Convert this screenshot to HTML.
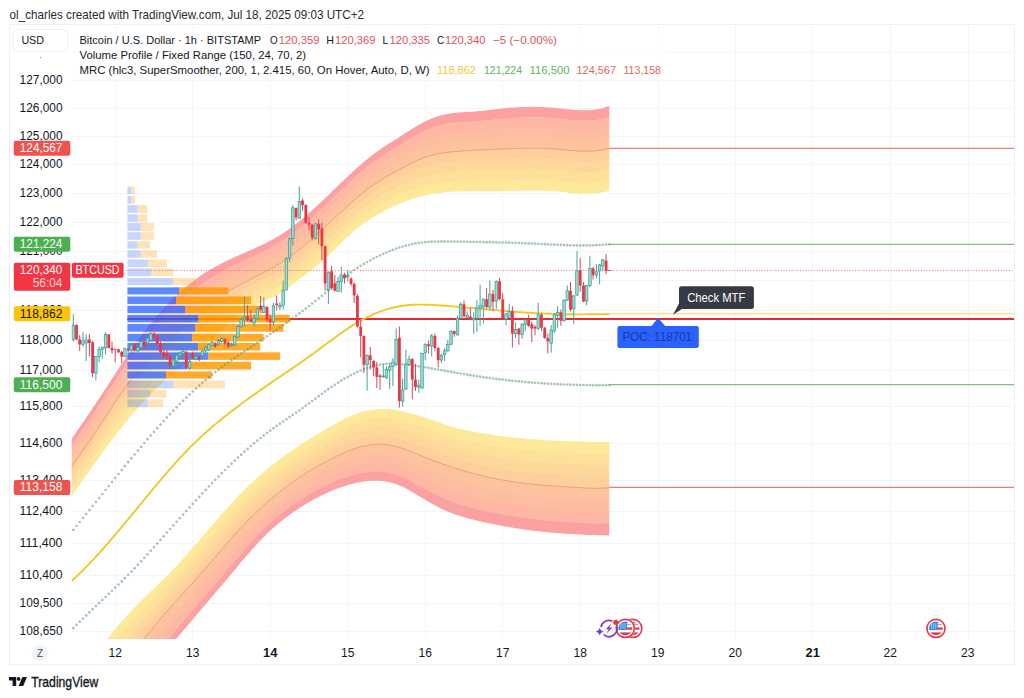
<!DOCTYPE html>
<html><head><meta charset="utf-8"><title>chart</title>
<style>
html,body{margin:0;padding:0;background:#fff;}
body{width:1024px;height:698px;position:relative;overflow:hidden;font-family:"Liberation Sans",sans-serif;}
.t{position:absolute;white-space:pre;line-height:1;}
.b{position:absolute;}
</style></head><body><div id="w" style="position:absolute;left:0;top:0;width:1024px;height:698px;">
<div class="b" style="left:9px;top:24px;width:1006px;height:641px;border:1px solid #eef0f4;box-sizing:border-box;"></div>
<svg width="1024" height="698" viewBox="0 0 1024 698" style="position:absolute;left:0;top:0;filter:blur(0.35px)"><defs><clipPath id="plot"><rect x="71.5" y="26" width="942.5" height="613"/></clipPath></defs><g clip-path="url(#plot)"><line x1="71.5" x2="1014" y1="52.5" y2="52.5" stroke="#f4f5f9" stroke-width="1"/>
<line x1="71.5" x2="1014" y1="80.5" y2="80.5" stroke="#f4f5f9" stroke-width="1"/>
<line x1="71.5" x2="1014" y1="108.5" y2="108.5" stroke="#f4f5f9" stroke-width="1"/>
<line x1="71.5" x2="1014" y1="136.5" y2="136.5" stroke="#f4f5f9" stroke-width="1"/>
<line x1="71.5" x2="1014" y1="164.5" y2="164.5" stroke="#f4f5f9" stroke-width="1"/>
<line x1="71.5" x2="1014" y1="193.5" y2="193.5" stroke="#f4f5f9" stroke-width="1"/>
<line x1="71.5" x2="1014" y1="222.5" y2="222.5" stroke="#f4f5f9" stroke-width="1"/>
<line x1="71.5" x2="1014" y1="251.5" y2="251.5" stroke="#f4f5f9" stroke-width="1"/>
<line x1="71.5" x2="1014" y1="280.5" y2="280.5" stroke="#f4f5f9" stroke-width="1"/>
<line x1="71.5" x2="1014" y1="310.5" y2="310.5" stroke="#f4f5f9" stroke-width="1"/>
<line x1="71.5" x2="1014" y1="340.5" y2="340.5" stroke="#f4f5f9" stroke-width="1"/>
<line x1="71.5" x2="1014" y1="370.5" y2="370.5" stroke="#f4f5f9" stroke-width="1"/>
<line x1="71.5" x2="1014" y1="406.5" y2="406.5" stroke="#f4f5f9" stroke-width="1"/>
<line x1="71.5" x2="1014" y1="443.5" y2="443.5" stroke="#f4f5f9" stroke-width="1"/>
<line x1="71.5" x2="1014" y1="480.5" y2="480.5" stroke="#f4f5f9" stroke-width="1"/>
<line x1="71.5" x2="1014" y1="511.5" y2="511.5" stroke="#f4f5f9" stroke-width="1"/>
<line x1="71.5" x2="1014" y1="543.5" y2="543.5" stroke="#f4f5f9" stroke-width="1"/>
<line x1="71.5" x2="1014" y1="575.5" y2="575.5" stroke="#f4f5f9" stroke-width="1"/>
<line x1="71.5" x2="1014" y1="603.5" y2="603.5" stroke="#f4f5f9" stroke-width="1"/>
<line x1="71.5" x2="1014" y1="631.5" y2="631.5" stroke="#f4f5f9" stroke-width="1"/>
<line x1="115.5" x2="115.5" y1="26" y2="639" stroke="#f4f5f9" stroke-width="1"/>
<line x1="192.5" x2="192.5" y1="26" y2="639" stroke="#f4f5f9" stroke-width="1"/>
<line x1="270.5" x2="270.5" y1="26" y2="639" stroke="#f4f5f9" stroke-width="1"/>
<line x1="348.5" x2="348.5" y1="26" y2="639" stroke="#f4f5f9" stroke-width="1"/>
<line x1="425.5" x2="425.5" y1="26" y2="639" stroke="#f4f5f9" stroke-width="1"/>
<line x1="502.5" x2="502.5" y1="26" y2="639" stroke="#f4f5f9" stroke-width="1"/>
<line x1="580.5" x2="580.5" y1="26" y2="639" stroke="#f4f5f9" stroke-width="1"/>
<line x1="658.5" x2="658.5" y1="26" y2="639" stroke="#f4f5f9" stroke-width="1"/>
<line x1="735.5" x2="735.5" y1="26" y2="639" stroke="#f4f5f9" stroke-width="1"/>
<line x1="812.5" x2="812.5" y1="26" y2="639" stroke="#f4f5f9" stroke-width="1"/>
<line x1="890.5" x2="890.5" y1="26" y2="639" stroke="#f4f5f9" stroke-width="1"/>
<line x1="968.5" x2="968.5" y1="26" y2="639" stroke="#f4f5f9" stroke-width="1"/>
<g opacity="0.93"><path d="M71.5,439.0 L73.5,436.1 L75.5,433.2 L77.5,430.3 L79.5,427.4 L81.5,424.5 L83.5,421.6 L85.5,418.7 L87.5,415.7 L89.5,412.8 L91.5,409.8 L93.5,406.8 L95.5,403.9 L97.5,400.9 L99.5,397.9 L101.5,394.9 L103.5,391.8 L105.5,388.8 L107.5,385.7 L109.5,382.7 L111.5,379.6 L113.5,376.5 L115.5,373.4 L117.5,370.3 L119.5,367.2 L121.5,364.2 L123.5,361.1 L125.5,358.1 L127.5,355.1 L129.5,352.1 L131.5,349.2 L133.5,346.3 L135.5,343.4 L137.5,340.6 L139.5,337.9 L141.5,335.2 L143.5,332.5 L145.5,329.9 L147.5,327.3 L149.5,324.8 L151.5,322.3 L153.5,319.9 L155.5,317.5 L157.5,315.2 L159.5,312.9 L161.5,310.7 L163.5,308.5 L165.5,306.3 L167.5,304.2 L169.5,302.2 L171.5,300.2 L173.5,298.2 L175.5,296.3 L177.5,294.4 L179.5,292.6 L181.5,290.8 L183.5,289.0 L185.5,287.3 L187.5,285.6 L189.5,284.0 L191.5,282.4 L193.5,280.9 L195.5,279.4 L197.5,277.9 L199.5,276.5 L201.5,275.1 L203.5,273.8 L205.5,272.5 L207.5,271.3 L209.5,270.0 L211.5,268.8 L213.5,267.7 L215.5,266.6 L217.5,265.5 L219.5,264.5 L221.5,263.4 L223.5,262.4 L225.5,261.5 L227.5,260.5 L229.5,259.6 L231.5,258.6 L233.5,257.7 L235.5,256.8 L237.5,255.9 L239.5,255.0 L241.5,254.2 L243.5,253.3 L245.5,252.4 L247.5,251.5 L249.5,250.7 L251.5,249.8 L253.5,248.9 L255.5,248.0 L257.5,247.1 L259.5,246.1 L261.5,245.2 L263.5,244.2 L265.5,243.2 L267.5,242.2 L269.5,241.1 L271.5,240.1 L273.5,239.0 L275.5,237.8 L277.5,236.7 L279.5,235.5 L281.5,234.2 L283.5,232.9 L285.5,231.6 L287.5,230.2 L289.5,228.8 L291.5,227.3 L293.5,225.8 L295.5,224.3 L297.5,222.7 L299.5,221.1 L301.5,219.4 L303.5,217.8 L305.5,216.1 L307.5,214.3 L309.5,212.6 L311.5,210.8 L313.5,209.0 L315.5,207.2 L317.5,205.3 L319.5,203.5 L321.5,201.6 L323.5,199.7 L325.5,197.8 L327.5,195.9 L329.5,194.0 L331.5,192.0 L333.5,190.1 L335.5,188.2 L337.5,186.3 L339.5,184.3 L341.5,182.4 L343.5,180.5 L345.5,178.6 L347.5,176.7 L349.5,174.8 L351.5,173.0 L353.5,171.1 L355.5,169.3 L357.5,167.5 L359.5,165.7 L361.5,164.0 L363.5,162.3 L365.5,160.6 L367.5,158.9 L369.5,157.3 L371.5,155.7 L373.5,154.2 L375.5,152.7 L377.5,151.3 L379.5,149.9 L381.5,148.5 L383.5,147.1 L385.5,145.8 L387.5,144.5 L389.5,143.2 L391.5,142.0 L393.5,140.7 L395.5,139.4 L397.5,138.2 L399.5,136.9 L401.5,135.6 L403.5,134.3 L405.5,133.0 L407.5,131.7 L409.5,130.4 L411.5,129.2 L413.5,127.9 L415.5,126.7 L417.5,125.5 L419.5,124.4 L421.5,123.3 L423.5,122.2 L425.5,121.2 L427.5,120.3 L429.5,119.4 L431.5,118.6 L433.5,117.8 L435.5,117.1 L437.5,116.4 L439.5,115.8 L441.5,115.3 L443.5,114.7 L445.5,114.3 L447.5,113.9 L449.5,113.5 L451.5,113.2 L453.5,112.9 L455.5,112.7 L457.5,112.5 L459.5,112.4 L461.5,112.3 L463.5,112.2 L465.5,112.1 L467.5,112.0 L469.5,111.9 L471.5,111.8 L473.5,111.7 L475.5,111.5 L477.5,111.3 L479.5,111.1 L481.5,110.9 L483.5,110.7 L485.5,110.5 L487.5,110.2 L489.5,110.0 L491.5,109.7 L493.5,109.5 L495.5,109.2 L497.5,109.0 L499.5,108.8 L501.5,108.5 L503.5,108.3 L505.5,108.1 L507.5,108.0 L509.5,107.8 L511.5,107.6 L513.5,107.5 L515.5,107.4 L517.5,107.2 L519.5,107.1 L521.5,107.0 L523.5,107.0 L525.5,106.9 L527.5,106.9 L529.5,106.8 L531.5,106.8 L533.5,106.8 L535.5,106.8 L537.5,106.9 L539.5,106.9 L541.5,107.0 L543.5,107.1 L545.5,107.2 L547.5,107.3 L549.5,107.4 L551.5,107.6 L553.5,107.7 L555.5,107.9 L557.5,108.1 L559.5,108.4 L561.5,108.6 L563.5,108.8 L565.5,109.0 L567.5,109.2 L569.5,109.4 L571.5,109.6 L573.5,109.8 L575.5,110.0 L577.5,110.1 L579.5,110.2 L581.5,110.3 L583.5,110.3 L585.5,110.3 L587.5,110.2 L589.5,110.2 L591.5,110.0 L593.5,109.8 L595.5,109.6 L597.5,109.2 L599.5,108.9 L601.5,108.4 L603.5,107.9 L605.5,107.3 L607.5,106.6 L609.3,105.9 L609.3,116.9 L607.5,117.5 L605.5,118.2 L603.5,118.7 L601.5,119.2 L599.5,119.6 L597.5,120.0 L595.5,120.3 L593.5,120.5 L591.5,120.7 L589.5,120.8 L587.5,120.9 L585.5,120.9 L583.5,120.9 L581.5,120.9 L579.5,120.8 L577.5,120.7 L575.5,120.6 L573.5,120.4 L571.5,120.3 L569.5,120.1 L567.5,119.9 L565.5,119.7 L563.5,119.5 L561.5,119.2 L559.5,119.0 L557.5,118.8 L555.5,118.6 L553.5,118.5 L551.5,118.3 L549.5,118.1 L547.5,118.0 L545.5,117.9 L543.5,117.8 L541.5,117.7 L539.5,117.7 L537.5,117.6 L535.5,117.6 L533.5,117.6 L531.5,117.6 L529.5,117.6 L527.5,117.6 L525.5,117.7 L523.5,117.7 L521.5,117.8 L519.5,117.9 L517.5,118.0 L515.5,118.1 L513.5,118.2 L511.5,118.3 L509.5,118.4 L507.5,118.6 L505.5,118.7 L503.5,118.9 L501.5,119.1 L499.5,119.3 L497.5,119.5 L495.5,119.6 L493.5,119.9 L491.5,120.1 L489.5,120.3 L487.5,120.5 L485.5,120.7 L483.5,120.9 L481.5,121.1 L479.5,121.2 L477.5,121.4 L475.5,121.6 L473.5,121.7 L471.5,121.9 L469.5,122.0 L467.5,122.1 L465.5,122.2 L463.5,122.3 L461.5,122.4 L459.5,122.5 L457.5,122.6 L455.5,122.8 L453.5,123.0 L451.5,123.3 L449.5,123.6 L447.5,123.9 L445.5,124.3 L443.5,124.7 L441.5,125.1 L439.5,125.7 L437.5,126.2 L435.5,126.8 L433.5,127.5 L431.5,128.2 L429.5,128.9 L427.5,129.8 L425.5,130.6 L423.5,131.6 L421.5,132.5 L419.5,133.6 L417.5,134.6 L415.5,135.8 L413.5,136.9 L411.5,138.1 L409.5,139.3 L407.5,140.5 L405.5,141.7 L403.5,143.0 L401.5,144.2 L399.5,145.5 L397.5,146.7 L395.5,147.9 L393.5,149.1 L391.5,150.4 L389.5,151.6 L387.5,152.8 L385.5,154.1 L383.5,155.4 L381.5,156.7 L379.5,158.0 L377.5,159.4 L375.5,160.8 L373.5,162.3 L371.5,163.8 L369.5,165.3 L367.5,166.9 L365.5,168.5 L363.5,170.2 L361.5,171.9 L359.5,173.6 L357.5,175.3 L355.5,177.1 L353.5,178.9 L351.5,180.8 L349.5,182.6 L347.5,184.5 L345.5,186.3 L343.5,188.2 L341.5,190.1 L339.5,192.0 L337.5,193.9 L335.5,195.9 L333.5,197.8 L331.5,199.7 L329.5,201.6 L327.5,203.5 L325.5,205.4 L323.5,207.3 L321.5,209.2 L319.5,211.0 L317.5,212.9 L315.5,214.7 L313.5,216.5 L311.5,218.3 L309.5,220.1 L307.5,221.8 L305.5,223.6 L303.5,225.3 L301.5,226.9 L299.5,228.6 L297.5,230.2 L295.5,231.8 L293.5,233.3 L291.5,234.8 L289.5,236.2 L287.5,237.7 L285.5,239.0 L283.5,240.4 L281.5,241.7 L279.5,242.9 L277.5,244.1 L275.5,245.3 L273.5,246.4 L271.5,247.6 L269.5,248.6 L267.5,249.7 L265.5,250.7 L263.5,251.7 L261.5,252.7 L259.5,253.7 L257.5,254.6 L255.5,255.6 L253.5,256.5 L251.5,257.4 L249.5,258.3 L247.5,259.3 L245.5,260.2 L243.5,261.1 L241.5,262.0 L239.5,262.9 L237.5,263.9 L235.5,264.8 L233.5,265.8 L231.5,266.8 L229.5,267.8 L227.5,268.8 L225.5,269.9 L223.5,271.0 L221.5,272.1 L219.5,273.3 L217.5,274.4 L215.5,275.6 L213.5,276.9 L211.5,278.1 L209.5,279.4 L207.5,280.7 L205.5,282.1 L203.5,283.4 L201.5,284.8 L199.5,286.3 L197.5,287.8 L195.5,289.3 L193.5,290.8 L191.5,292.4 L189.5,293.9 L187.5,295.6 L185.5,297.2 L183.5,298.9 L181.5,300.7 L179.5,302.5 L177.5,304.3 L175.5,306.1 L173.5,308.0 L171.5,309.9 L169.5,311.9 L167.5,313.9 L165.5,315.9 L163.5,318.0 L161.5,320.1 L159.5,322.3 L157.5,324.5 L155.5,326.7 L153.5,329.0 L151.5,331.4 L149.5,333.7 L147.5,336.1 L145.5,338.6 L143.5,341.1 L141.5,343.7 L139.5,346.3 L137.5,348.9 L135.5,351.6 L133.5,354.4 L131.5,357.2 L129.5,360.0 L127.5,362.9 L125.5,365.9 L123.5,368.8 L121.5,371.8 L119.5,374.8 L117.5,377.8 L115.5,380.9 L113.5,384.0 L111.5,387.0 L109.5,390.1 L107.5,393.2 L105.5,396.2 L103.5,399.3 L101.5,402.3 L99.5,405.3 L97.5,408.3 L95.5,411.4 L93.5,414.3 L91.5,417.3 L89.5,420.3 L87.5,423.2 L85.5,426.2 L83.5,429.1 L81.5,432.0 L79.5,434.9 L77.5,437.7 L75.5,440.6 L73.5,443.5 L71.5,446.3Z" fill="#fb9a9b"/><path d="M71.5,445.9 L73.5,443.1 L75.5,440.2 L77.5,437.3 L79.5,434.5 L81.5,431.6 L83.5,428.7 L85.5,425.8 L87.5,422.8 L89.5,419.9 L91.5,416.9 L93.5,413.9 L95.5,411.0 L97.5,407.9 L99.5,404.9 L101.5,401.9 L103.5,398.9 L105.5,395.8 L107.5,392.8 L109.5,389.7 L111.5,386.6 L113.5,383.6 L115.5,380.5 L117.5,377.4 L119.5,374.4 L121.5,371.4 L123.5,368.4 L125.5,365.5 L127.5,362.5 L129.5,359.6 L131.5,356.8 L133.5,354.0 L135.5,351.2 L137.5,348.5 L139.5,345.9 L141.5,343.3 L143.5,340.7 L145.5,338.2 L147.5,335.7 L149.5,333.3 L151.5,331.0 L153.5,328.6 L155.5,326.3 L157.5,324.1 L159.5,321.9 L161.5,319.7 L163.5,317.6 L165.5,315.5 L167.5,313.5 L169.5,311.5 L171.5,309.5 L173.5,307.6 L175.5,305.7 L177.5,303.9 L179.5,302.1 L181.5,300.3 L183.5,298.5 L185.5,296.8 L187.5,295.2 L189.5,293.5 L191.5,292.0 L193.5,290.4 L195.5,288.9 L197.5,287.4 L199.5,285.9 L201.5,284.4 L203.5,283.0 L205.5,281.7 L207.5,280.3 L209.5,279.0 L211.5,277.7 L213.5,276.5 L215.5,275.2 L217.5,274.0 L219.5,272.9 L221.5,271.7 L223.5,270.6 L225.5,269.5 L227.5,268.4 L229.5,267.4 L231.5,266.4 L233.5,265.4 L235.5,264.4 L237.5,263.5 L239.5,262.5 L241.5,261.6 L243.5,260.7 L245.5,259.8 L247.5,258.9 L249.5,257.9 L251.5,257.0 L253.5,256.1 L255.5,255.2 L257.5,254.2 L259.5,253.3 L261.5,252.3 L263.5,251.3 L265.5,250.3 L267.5,249.3 L269.5,248.2 L271.5,247.2 L273.5,246.0 L275.5,244.9 L277.5,243.7 L279.5,242.5 L281.5,241.3 L283.5,240.0 L285.5,238.6 L287.5,237.3 L289.5,235.8 L291.5,234.4 L293.5,232.9 L295.5,231.4 L297.5,229.8 L299.5,228.2 L301.5,226.5 L303.5,224.9 L305.5,223.2 L307.5,221.4 L309.5,219.7 L311.5,217.9 L313.5,216.1 L315.5,214.3 L317.5,212.5 L319.5,210.6 L321.5,208.8 L323.5,206.9 L325.5,205.0 L327.5,203.1 L329.5,201.2 L331.5,199.3 L333.5,197.4 L335.5,195.5 L337.5,193.5 L339.5,191.6 L341.5,189.7 L343.5,187.8 L345.5,185.9 L347.5,184.1 L349.5,182.2 L351.5,180.4 L353.5,178.5 L355.5,176.7 L357.5,174.9 L359.5,173.2 L361.5,171.5 L363.5,169.8 L365.5,168.1 L367.5,166.5 L369.5,164.9 L371.5,163.4 L373.5,161.9 L375.5,160.4 L377.5,159.0 L379.5,157.6 L381.5,156.3 L383.5,155.0 L385.5,153.7 L387.5,152.4 L389.5,151.2 L391.5,150.0 L393.5,148.7 L395.5,147.5 L397.5,146.3 L399.5,145.1 L401.5,143.8 L403.5,142.6 L405.5,141.3 L407.5,140.1 L409.5,138.9 L411.5,137.7 L413.5,136.5 L415.5,135.4 L417.5,134.2 L419.5,133.2 L421.5,132.1 L423.5,131.2 L425.5,130.2 L427.5,129.4 L429.5,128.5 L431.5,127.8 L433.5,127.1 L435.5,126.4 L437.5,125.8 L439.5,125.3 L441.5,124.7 L443.5,124.3 L445.5,123.9 L447.5,123.5 L449.5,123.2 L451.5,122.9 L453.5,122.6 L455.5,122.4 L457.5,122.2 L459.5,122.1 L461.5,122.0 L463.5,121.9 L465.5,121.8 L467.5,121.7 L469.5,121.6 L471.5,121.5 L473.5,121.3 L475.5,121.2 L477.5,121.0 L479.5,120.8 L481.5,120.7 L483.5,120.5 L485.5,120.3 L487.5,120.1 L489.5,119.9 L491.5,119.7 L493.5,119.5 L495.5,119.2 L497.5,119.1 L499.5,118.9 L501.5,118.7 L503.5,118.5 L505.5,118.3 L507.5,118.2 L509.5,118.0 L511.5,117.9 L513.5,117.8 L515.5,117.7 L517.5,117.6 L519.5,117.5 L521.5,117.4 L523.5,117.3 L525.5,117.3 L527.5,117.2 L529.5,117.2 L531.5,117.2 L533.5,117.2 L535.5,117.2 L537.5,117.2 L539.5,117.3 L541.5,117.3 L543.5,117.4 L545.5,117.5 L547.5,117.6 L549.5,117.7 L551.5,117.9 L553.5,118.1 L555.5,118.2 L557.5,118.4 L559.5,118.6 L561.5,118.8 L563.5,119.1 L565.5,119.3 L567.5,119.5 L569.5,119.7 L571.5,119.9 L573.5,120.0 L575.5,120.2 L577.5,120.3 L579.5,120.4 L581.5,120.5 L583.5,120.5 L585.5,120.5 L587.5,120.5 L589.5,120.4 L591.5,120.3 L593.5,120.1 L595.5,119.9 L597.5,119.6 L599.5,119.2 L601.5,118.8 L603.5,118.3 L605.5,117.8 L607.5,117.1 L609.3,116.5 L609.3,127.5 L607.5,128.1 L605.5,128.7 L603.5,129.2 L601.5,129.6 L599.5,130.0 L597.5,130.3 L595.5,130.6 L593.5,130.8 L591.5,131.0 L589.5,131.1 L587.5,131.1 L585.5,131.2 L583.5,131.2 L581.5,131.1 L579.5,131.0 L577.5,130.9 L575.5,130.8 L573.5,130.6 L571.5,130.5 L569.5,130.3 L567.5,130.1 L565.5,129.9 L563.5,129.7 L561.5,129.5 L559.5,129.3 L557.5,129.1 L555.5,128.9 L553.5,128.8 L551.5,128.6 L549.5,128.5 L547.5,128.3 L545.5,128.2 L543.5,128.2 L541.5,128.1 L539.5,128.0 L537.5,128.0 L535.5,128.0 L533.5,127.9 L531.5,127.9 L529.5,128.0 L527.5,128.0 L525.5,128.0 L523.5,128.1 L521.5,128.1 L519.5,128.2 L517.5,128.3 L515.5,128.4 L513.5,128.5 L511.5,128.6 L509.5,128.7 L507.5,128.8 L505.5,128.9 L503.5,129.1 L501.5,129.2 L499.5,129.4 L497.5,129.5 L495.5,129.7 L493.5,129.8 L491.5,130.0 L489.5,130.2 L487.5,130.3 L485.5,130.5 L483.5,130.7 L481.5,130.8 L479.5,131.0 L477.5,131.1 L475.5,131.3 L473.5,131.4 L471.5,131.5 L469.5,131.6 L467.5,131.7 L465.5,131.8 L463.5,132.0 L461.5,132.1 L459.5,132.2 L457.5,132.3 L455.5,132.5 L453.5,132.7 L451.5,133.0 L449.5,133.2 L447.5,133.5 L445.5,133.9 L443.5,134.2 L441.5,134.6 L439.5,135.1 L437.5,135.6 L435.5,136.1 L433.5,136.7 L431.5,137.4 L429.5,138.1 L427.5,138.8 L425.5,139.6 L423.5,140.5 L421.5,141.4 L419.5,142.3 L417.5,143.4 L415.5,144.4 L413.5,145.5 L411.5,146.6 L409.5,147.7 L407.5,148.9 L405.5,150.1 L403.5,151.3 L401.5,152.4 L399.5,153.6 L397.5,154.8 L395.5,156.0 L393.5,157.2 L391.5,158.3 L389.5,159.5 L387.5,160.7 L385.5,161.9 L383.5,163.2 L381.5,164.5 L379.5,165.8 L377.5,167.1 L375.5,168.5 L373.5,169.9 L371.5,171.4 L369.5,172.9 L367.5,174.5 L365.5,176.1 L363.5,177.7 L361.5,179.4 L359.5,181.1 L357.5,182.8 L355.5,184.6 L353.5,186.3 L351.5,188.2 L349.5,190.0 L347.5,191.8 L345.5,193.7 L343.5,195.5 L341.5,197.4 L339.5,199.3 L337.5,201.2 L335.5,203.1 L333.5,205.0 L331.5,206.9 L329.5,208.8 L327.5,210.7 L325.5,212.6 L323.5,214.5 L321.5,216.3 L319.5,218.2 L317.5,220.0 L315.5,221.8 L313.5,223.6 L311.5,225.4 L309.5,227.2 L307.5,228.9 L305.5,230.7 L303.5,232.3 L301.5,234.0 L299.5,235.6 L297.5,237.2 L295.5,238.8 L293.5,240.4 L291.5,241.8 L289.5,243.3 L287.5,244.7 L285.5,246.1 L283.5,247.4 L281.5,248.7 L279.5,250.0 L277.5,251.2 L275.5,252.4 L273.5,253.5 L271.5,254.6 L269.5,255.7 L267.5,256.8 L265.5,257.8 L263.5,258.8 L261.5,259.8 L259.5,260.8 L257.5,261.8 L255.5,262.8 L253.5,263.7 L251.5,264.7 L249.5,265.6 L247.5,266.6 L245.5,267.5 L243.5,268.5 L241.5,269.4 L239.5,270.4 L237.5,271.4 L235.5,272.4 L233.5,273.5 L231.5,274.5 L229.5,275.6 L227.5,276.8 L225.5,277.9 L223.5,279.2 L221.5,280.4 L219.5,281.7 L217.5,283.0 L215.5,284.3 L213.5,285.6 L211.5,287.0 L209.5,288.4 L207.5,289.8 L205.5,291.2 L203.5,292.7 L201.5,294.2 L199.5,295.6 L197.5,297.2 L195.5,298.7 L193.5,300.3 L191.5,301.9 L189.5,303.5 L187.5,305.1 L185.5,306.8 L183.5,308.5 L181.5,310.2 L179.5,312.0 L177.5,313.7 L175.5,315.5 L173.5,317.4 L171.5,319.3 L169.5,321.2 L167.5,323.1 L165.5,325.1 L163.5,327.1 L161.5,329.2 L159.5,331.2 L157.5,333.4 L155.5,335.5 L153.5,337.7 L151.5,340.0 L149.5,342.3 L147.5,344.6 L145.5,346.9 L143.5,349.3 L141.5,351.8 L139.5,354.3 L137.5,356.9 L135.5,359.5 L133.5,362.1 L131.5,364.8 L129.5,367.6 L127.5,370.4 L125.5,373.2 L123.5,376.1 L121.5,379.0 L119.5,382.0 L117.5,385.0 L115.5,388.0 L113.5,391.0 L111.5,394.1 L109.5,397.1 L107.5,400.2 L105.5,403.2 L103.5,406.3 L101.5,409.3 L99.5,412.4 L97.5,415.4 L95.5,418.4 L93.5,421.4 L91.5,424.4 L89.5,427.4 L87.5,430.3 L85.5,433.2 L83.5,436.1 L81.5,439.0 L79.5,441.9 L77.5,444.7 L75.5,447.6 L73.5,450.4 L71.5,453.2Z" fill="#fdb29b"/><path d="M71.5,452.8 L73.5,450.0 L75.5,447.2 L77.5,444.3 L79.5,441.5 L81.5,438.6 L83.5,435.7 L85.5,432.8 L87.5,429.9 L89.5,427.0 L91.5,424.0 L93.5,421.0 L95.5,418.0 L97.5,415.0 L99.5,412.0 L101.5,408.9 L103.5,405.9 L105.5,402.8 L107.5,399.8 L109.5,396.7 L111.5,393.7 L113.5,390.6 L115.5,387.6 L117.5,384.6 L119.5,381.6 L121.5,378.6 L123.5,375.7 L125.5,372.8 L127.5,370.0 L129.5,367.2 L131.5,364.4 L133.5,361.7 L135.5,359.1 L137.5,356.5 L139.5,353.9 L141.5,351.4 L143.5,348.9 L145.5,346.5 L147.5,344.2 L149.5,341.9 L151.5,339.6 L153.5,337.3 L155.5,335.1 L157.5,333.0 L159.5,330.8 L161.5,328.8 L163.5,326.7 L165.5,324.7 L167.5,322.7 L169.5,320.8 L171.5,318.9 L173.5,317.0 L175.5,315.1 L177.5,313.3 L179.5,311.6 L181.5,309.8 L183.5,308.1 L185.5,306.4 L187.5,304.7 L189.5,303.1 L191.5,301.5 L193.5,299.9 L195.5,298.3 L197.5,296.8 L199.5,295.2 L201.5,293.8 L203.5,292.3 L205.5,290.8 L207.5,289.4 L209.5,288.0 L211.5,286.6 L213.5,285.2 L215.5,283.9 L217.5,282.6 L219.5,281.3 L221.5,280.0 L223.5,278.8 L225.5,277.5 L227.5,276.4 L229.5,275.2 L231.5,274.1 L233.5,273.1 L235.5,272.0 L237.5,271.0 L239.5,270.0 L241.5,269.0 L243.5,268.1 L245.5,267.1 L247.5,266.2 L249.5,265.2 L251.5,264.3 L253.5,263.3 L255.5,262.4 L257.5,261.4 L259.5,260.4 L261.5,259.4 L263.5,258.4 L265.5,257.4 L267.5,256.4 L269.5,255.3 L271.5,254.2 L273.5,253.1 L275.5,252.0 L277.5,250.8 L279.5,249.6 L281.5,248.3 L283.5,247.0 L285.5,245.7 L287.5,244.3 L289.5,242.9 L291.5,241.4 L293.5,240.0 L295.5,238.4 L297.5,236.8 L299.5,235.2 L301.5,233.6 L303.5,231.9 L305.5,230.3 L307.5,228.5 L309.5,226.8 L311.5,225.0 L313.5,223.2 L315.5,221.4 L317.5,219.6 L319.5,217.8 L321.5,215.9 L323.5,214.1 L325.5,212.2 L327.5,210.3 L329.5,208.4 L331.5,206.5 L333.5,204.6 L335.5,202.7 L337.5,200.8 L339.5,198.9 L341.5,197.0 L343.5,195.1 L345.5,193.3 L347.5,191.4 L349.5,189.6 L351.5,187.8 L353.5,185.9 L355.5,184.2 L357.5,182.4 L359.5,180.7 L361.5,179.0 L363.5,177.3 L365.5,175.7 L367.5,174.1 L369.5,172.5 L371.5,171.0 L373.5,169.5 L375.5,168.1 L377.5,166.7 L379.5,165.4 L381.5,164.1 L383.5,162.8 L385.5,161.5 L387.5,160.3 L389.5,159.1 L391.5,157.9 L393.5,156.8 L395.5,155.6 L397.5,154.4 L399.5,153.2 L401.5,152.0 L403.5,150.9 L405.5,149.7 L407.5,148.5 L409.5,147.3 L411.5,146.2 L413.5,145.1 L415.5,144.0 L417.5,143.0 L419.5,141.9 L421.5,141.0 L423.5,140.1 L425.5,139.2 L427.5,138.4 L429.5,137.7 L431.5,137.0 L433.5,136.3 L435.5,135.7 L437.5,135.2 L439.5,134.7 L441.5,134.2 L443.5,133.8 L445.5,133.5 L447.5,133.1 L449.5,132.8 L451.5,132.6 L453.5,132.3 L455.5,132.1 L457.5,131.9 L459.5,131.8 L461.5,131.7 L463.5,131.6 L465.5,131.4 L467.5,131.3 L469.5,131.2 L471.5,131.1 L473.5,131.0 L475.5,130.9 L477.5,130.7 L479.5,130.6 L481.5,130.4 L483.5,130.3 L485.5,130.1 L487.5,129.9 L489.5,129.8 L491.5,129.6 L493.5,129.4 L495.5,129.3 L497.5,129.1 L499.5,129.0 L501.5,128.8 L503.5,128.7 L505.5,128.5 L507.5,128.4 L509.5,128.3 L511.5,128.2 L513.5,128.1 L515.5,128.0 L517.5,127.9 L519.5,127.8 L521.5,127.7 L523.5,127.7 L525.5,127.6 L527.5,127.6 L529.5,127.6 L531.5,127.5 L533.5,127.5 L535.5,127.6 L537.5,127.6 L539.5,127.6 L541.5,127.7 L543.5,127.8 L545.5,127.8 L547.5,127.9 L549.5,128.1 L551.5,128.2 L553.5,128.4 L555.5,128.5 L557.5,128.7 L559.5,128.9 L561.5,129.1 L563.5,129.3 L565.5,129.5 L567.5,129.7 L569.5,129.9 L571.5,130.1 L573.5,130.2 L575.5,130.4 L577.5,130.5 L579.5,130.6 L581.5,130.7 L583.5,130.8 L585.5,130.8 L587.5,130.7 L589.5,130.7 L591.5,130.6 L593.5,130.4 L595.5,130.2 L597.5,129.9 L599.5,129.6 L601.5,129.2 L603.5,128.8 L605.5,128.3 L607.5,127.7 L609.3,127.1 L609.3,138.1 L607.5,138.6 L605.5,139.2 L603.5,139.6 L601.5,140.0 L599.5,140.4 L597.5,140.7 L595.5,140.9 L593.5,141.1 L591.5,141.2 L589.5,141.3 L587.5,141.4 L585.5,141.4 L583.5,141.4 L581.5,141.3 L579.5,141.2 L577.5,141.1 L575.5,141.0 L573.5,140.9 L571.5,140.7 L569.5,140.5 L567.5,140.3 L565.5,140.2 L563.5,140.0 L561.5,139.8 L559.5,139.6 L557.5,139.4 L555.5,139.2 L553.5,139.1 L551.5,138.9 L549.5,138.8 L547.5,138.7 L545.5,138.6 L543.5,138.5 L541.5,138.4 L539.5,138.4 L537.5,138.3 L535.5,138.3 L533.5,138.3 L531.5,138.3 L529.5,138.3 L527.5,138.3 L525.5,138.4 L523.5,138.4 L521.5,138.5 L519.5,138.5 L517.5,138.6 L515.5,138.7 L513.5,138.7 L511.5,138.8 L509.5,138.9 L507.5,139.0 L505.5,139.1 L503.5,139.2 L501.5,139.3 L499.5,139.5 L497.5,139.6 L495.5,139.7 L493.5,139.8 L491.5,139.9 L489.5,140.1 L487.5,140.2 L485.5,140.3 L483.5,140.4 L481.5,140.6 L479.5,140.7 L477.5,140.8 L475.5,140.9 L473.5,141.0 L471.5,141.2 L469.5,141.3 L467.5,141.4 L465.5,141.5 L463.5,141.6 L461.5,141.8 L459.5,141.9 L457.5,142.1 L455.5,142.2 L453.5,142.4 L451.5,142.6 L449.5,142.9 L447.5,143.1 L445.5,143.4 L443.5,143.8 L441.5,144.1 L439.5,144.5 L437.5,145.0 L435.5,145.5 L433.5,146.0 L431.5,146.6 L429.5,147.2 L427.5,147.9 L425.5,148.6 L423.5,149.4 L421.5,150.2 L419.5,151.1 L417.5,152.1 L415.5,153.1 L413.5,154.1 L411.5,155.1 L409.5,156.2 L407.5,157.3 L405.5,158.4 L403.5,159.5 L401.5,160.7 L399.5,161.8 L397.5,162.9 L395.5,164.1 L393.5,165.2 L391.5,166.3 L389.5,167.5 L387.5,168.6 L385.5,169.8 L383.5,171.0 L381.5,172.2 L379.5,173.5 L377.5,174.8 L375.5,176.2 L373.5,177.6 L371.5,179.0 L369.5,180.5 L367.5,182.0 L365.5,183.6 L363.5,185.2 L361.5,186.9 L359.5,188.6 L357.5,190.3 L355.5,192.0 L353.5,193.8 L351.5,195.5 L349.5,197.4 L347.5,199.2 L345.5,201.0 L343.5,202.9 L341.5,204.7 L339.5,206.6 L337.5,208.5 L335.5,210.4 L333.5,212.3 L331.5,214.1 L329.5,216.0 L327.5,217.9 L325.5,219.8 L323.5,221.6 L321.5,223.5 L319.5,225.3 L317.5,227.2 L315.5,229.0 L313.5,230.8 L311.5,232.5 L309.5,234.3 L307.5,236.0 L305.5,237.8 L303.5,239.4 L301.5,241.1 L299.5,242.7 L297.5,244.3 L295.5,245.9 L293.5,247.4 L291.5,248.9 L289.5,250.4 L287.5,251.8 L285.5,253.2 L283.5,254.5 L281.5,255.8 L279.5,257.0 L277.5,258.2 L275.5,259.4 L273.5,260.6 L271.5,261.7 L269.5,262.8 L267.5,263.9 L265.5,264.9 L263.5,266.0 L261.5,267.0 L259.5,268.0 L257.5,269.0 L255.5,270.0 L253.5,270.9 L251.5,271.9 L249.5,272.9 L247.5,273.9 L245.5,274.9 L243.5,275.9 L241.5,276.9 L239.5,277.9 L237.5,279.0 L235.5,280.0 L233.5,281.1 L231.5,282.3 L229.5,283.5 L227.5,284.7 L225.5,286.0 L223.5,287.3 L221.5,288.7 L219.5,290.1 L217.5,291.5 L215.5,292.9 L213.5,294.4 L211.5,295.9 L209.5,297.4 L207.5,298.9 L205.5,300.4 L203.5,301.9 L201.5,303.5 L199.5,305.0 L197.5,306.6 L195.5,308.2 L193.5,309.8 L191.5,311.4 L189.5,313.0 L187.5,314.6 L185.5,316.3 L183.5,318.0 L181.5,319.7 L179.5,321.4 L177.5,323.2 L175.5,325.0 L173.5,326.8 L171.5,328.6 L169.5,330.5 L167.5,332.4 L165.5,334.3 L163.5,336.2 L161.5,338.2 L159.5,340.2 L157.5,342.3 L155.5,344.3 L153.5,346.4 L151.5,348.6 L149.5,350.8 L147.5,353.0 L145.5,355.3 L143.5,357.6 L141.5,359.9 L139.5,362.3 L137.5,364.8 L135.5,367.3 L133.5,369.8 L131.5,372.4 L129.5,375.1 L127.5,377.8 L125.5,380.6 L123.5,383.4 L121.5,386.3 L119.5,389.2 L117.5,392.1 L115.5,395.1 L113.5,398.1 L111.5,401.1 L109.5,404.2 L107.5,407.2 L105.5,410.3 L103.5,413.3 L101.5,416.4 L99.5,419.4 L97.5,422.5 L95.5,425.5 L93.5,428.5 L91.5,431.5 L89.5,434.5 L87.5,437.4 L85.5,440.3 L83.5,443.2 L81.5,446.1 L79.5,448.9 L77.5,451.7 L75.5,454.6 L73.5,457.4 L71.5,460.2Z" fill="#fdb899"/><path d="M71.5,459.8 L73.5,457.0 L75.5,454.2 L77.5,451.3 L79.5,448.5 L81.5,445.7 L83.5,442.8 L85.5,439.9 L87.5,437.0 L89.5,434.1 L91.5,431.1 L93.5,428.1 L95.5,425.1 L97.5,422.1 L99.5,419.0 L101.5,416.0 L103.5,412.9 L105.5,409.9 L107.5,406.8 L109.5,403.8 L111.5,400.7 L113.5,397.7 L115.5,394.7 L117.5,391.7 L119.5,388.8 L121.5,385.9 L123.5,383.0 L125.5,380.2 L127.5,377.4 L129.5,374.7 L131.5,372.0 L133.5,369.4 L135.5,366.9 L137.5,364.4 L139.5,361.9 L141.5,359.5 L143.5,357.2 L145.5,354.9 L147.5,352.6 L149.5,350.4 L151.5,348.2 L153.5,346.0 L155.5,343.9 L157.5,341.9 L159.5,339.8 L161.5,337.8 L163.5,335.8 L165.5,333.9 L167.5,332.0 L169.5,330.1 L171.5,328.2 L173.5,326.4 L175.5,324.6 L177.5,322.8 L179.5,321.0 L181.5,319.3 L183.5,317.6 L185.5,315.9 L187.5,314.2 L189.5,312.6 L191.5,311.0 L193.5,309.4 L195.5,307.8 L197.5,306.2 L199.5,304.6 L201.5,303.1 L203.5,301.5 L205.5,300.0 L207.5,298.5 L209.5,297.0 L211.5,295.5 L213.5,294.0 L215.5,292.5 L217.5,291.1 L219.5,289.7 L221.5,288.3 L223.5,286.9 L225.5,285.6 L227.5,284.3 L229.5,283.1 L231.5,281.9 L233.5,280.7 L235.5,279.6 L237.5,278.6 L239.5,277.5 L241.5,276.5 L243.5,275.5 L245.5,274.5 L247.5,273.5 L249.5,272.5 L251.5,271.5 L253.5,270.5 L255.5,269.6 L257.5,268.6 L259.5,267.6 L261.5,266.6 L263.5,265.6 L265.5,264.5 L267.5,263.5 L269.5,262.4 L271.5,261.3 L273.5,260.2 L275.5,259.0 L277.5,257.8 L279.5,256.6 L281.5,255.4 L283.5,254.1 L285.5,252.8 L287.5,251.4 L289.5,250.0 L291.5,248.5 L293.5,247.0 L295.5,245.5 L297.5,243.9 L299.5,242.3 L301.5,240.7 L303.5,239.0 L305.5,237.4 L307.5,235.6 L309.5,233.9 L311.5,232.1 L313.5,230.4 L315.5,228.6 L317.5,226.8 L319.5,224.9 L321.5,223.1 L323.5,221.2 L325.5,219.4 L327.5,217.5 L329.5,215.6 L331.5,213.7 L333.5,211.9 L335.5,210.0 L337.5,208.1 L339.5,206.2 L341.5,204.3 L343.5,202.5 L345.5,200.6 L347.5,198.8 L349.5,197.0 L351.5,195.1 L353.5,193.4 L355.5,191.6 L357.5,189.9 L359.5,188.2 L361.5,186.5 L363.5,184.8 L365.5,183.2 L367.5,181.6 L369.5,180.1 L371.5,178.6 L373.5,177.2 L375.5,175.8 L377.5,174.4 L379.5,173.1 L381.5,171.8 L383.5,170.6 L385.5,169.4 L387.5,168.2 L389.5,167.1 L391.5,165.9 L393.5,164.8 L395.5,163.7 L397.5,162.5 L399.5,161.4 L401.5,160.3 L403.5,159.1 L405.5,158.0 L407.5,156.9 L409.5,155.8 L411.5,154.7 L413.5,153.7 L415.5,152.7 L417.5,151.7 L419.5,150.7 L421.5,149.8 L423.5,149.0 L425.5,148.2 L427.5,147.5 L429.5,146.8 L431.5,146.2 L433.5,145.6 L435.5,145.1 L437.5,144.6 L439.5,144.1 L441.5,143.7 L443.5,143.4 L445.5,143.0 L447.5,142.7 L449.5,142.5 L451.5,142.2 L453.5,142.0 L455.5,141.8 L457.5,141.7 L459.5,141.5 L461.5,141.4 L463.5,141.2 L465.5,141.1 L467.5,141.0 L469.5,140.9 L471.5,140.8 L473.5,140.6 L475.5,140.5 L477.5,140.4 L479.5,140.3 L481.5,140.2 L483.5,140.0 L485.5,139.9 L487.5,139.8 L489.5,139.7 L491.5,139.5 L493.5,139.4 L495.5,139.3 L497.5,139.2 L499.5,139.1 L501.5,138.9 L503.5,138.8 L505.5,138.7 L507.5,138.6 L509.5,138.5 L511.5,138.4 L513.5,138.3 L515.5,138.3 L517.5,138.2 L519.5,138.1 L521.5,138.1 L523.5,138.0 L525.5,138.0 L527.5,137.9 L529.5,137.9 L531.5,137.9 L533.5,137.9 L535.5,137.9 L537.5,137.9 L539.5,138.0 L541.5,138.0 L543.5,138.1 L545.5,138.2 L547.5,138.3 L549.5,138.4 L551.5,138.5 L553.5,138.7 L555.5,138.8 L557.5,139.0 L559.5,139.2 L561.5,139.4 L563.5,139.6 L565.5,139.8 L567.5,139.9 L569.5,140.1 L571.5,140.3 L573.5,140.5 L575.5,140.6 L577.5,140.7 L579.5,140.8 L581.5,140.9 L583.5,141.0 L585.5,141.0 L587.5,141.0 L589.5,140.9 L591.5,140.8 L593.5,140.7 L595.5,140.5 L597.5,140.3 L599.5,140.0 L601.5,139.6 L603.5,139.2 L605.5,138.8 L607.5,138.2 L609.3,137.7 L609.3,148.7 L607.5,149.2 L605.5,149.7 L603.5,150.1 L601.5,150.5 L599.5,150.8 L597.5,151.0 L595.5,151.2 L593.5,151.4 L591.5,151.5 L589.5,151.6 L587.5,151.6 L585.5,151.6 L583.5,151.6 L581.5,151.5 L579.5,151.5 L577.5,151.4 L575.5,151.2 L573.5,151.1 L571.5,150.9 L569.5,150.8 L567.5,150.6 L565.5,150.4 L563.5,150.2 L561.5,150.0 L559.5,149.9 L557.5,149.7 L555.5,149.5 L553.5,149.4 L551.5,149.2 L549.5,149.1 L547.5,149.0 L545.5,148.9 L543.5,148.8 L541.5,148.8 L539.5,148.7 L537.5,148.7 L535.5,148.7 L533.5,148.7 L531.5,148.7 L529.5,148.7 L527.5,148.7 L525.5,148.7 L523.5,148.8 L521.5,148.8 L519.5,148.8 L517.5,148.9 L515.5,149.0 L513.5,149.0 L511.5,149.1 L509.5,149.2 L507.5,149.2 L505.5,149.3 L503.5,149.4 L501.5,149.5 L499.5,149.6 L497.5,149.6 L495.5,149.7 L493.5,149.8 L491.5,149.9 L489.5,150.0 L487.5,150.0 L485.5,150.1 L483.5,150.2 L481.5,150.3 L479.5,150.4 L477.5,150.5 L475.5,150.6 L473.5,150.7 L471.5,150.8 L469.5,150.9 L467.5,151.1 L465.5,151.2 L463.5,151.3 L461.5,151.5 L459.5,151.6 L457.5,151.8 L455.5,152.0 L453.5,152.1 L451.5,152.3 L449.5,152.5 L447.5,152.8 L445.5,153.0 L443.5,153.3 L441.5,153.6 L439.5,154.0 L437.5,154.4 L435.5,154.8 L433.5,155.2 L431.5,155.8 L429.5,156.3 L427.5,156.9 L425.5,157.6 L423.5,158.3 L421.5,159.1 L419.5,159.9 L417.5,160.8 L415.5,161.7 L413.5,162.7 L411.5,163.7 L409.5,164.7 L407.5,165.7 L405.5,166.8 L403.5,167.8 L401.5,168.9 L399.5,170.0 L397.5,171.1 L395.5,172.1 L393.5,173.2 L391.5,174.3 L389.5,175.4 L387.5,176.5 L385.5,177.7 L383.5,178.8 L381.5,180.0 L379.5,181.3 L377.5,182.5 L375.5,183.9 L373.5,185.2 L371.5,186.7 L369.5,188.1 L367.5,189.6 L365.5,191.2 L363.5,192.8 L361.5,194.4 L359.5,196.0 L357.5,197.7 L355.5,199.4 L353.5,201.2 L351.5,202.9 L349.5,204.7 L347.5,206.5 L345.5,208.4 L343.5,210.2 L341.5,212.0 L339.5,213.9 L337.5,215.8 L335.5,217.6 L333.5,219.5 L331.5,221.4 L329.5,223.3 L327.5,225.1 L325.5,227.0 L323.5,228.8 L321.5,230.7 L319.5,232.5 L317.5,234.3 L315.5,236.1 L313.5,237.9 L311.5,239.7 L309.5,241.4 L307.5,243.1 L305.5,244.8 L303.5,246.5 L301.5,248.2 L299.5,249.8 L297.5,251.4 L295.5,252.9 L293.5,254.5 L291.5,256.0 L289.5,257.4 L287.5,258.8 L285.5,260.2 L283.5,261.5 L281.5,262.8 L279.5,264.1 L277.5,265.3 L275.5,266.5 L273.5,267.7 L271.5,268.8 L269.5,269.9 L267.5,271.0 L265.5,272.0 L263.5,273.1 L261.5,274.1 L259.5,275.1 L257.5,276.2 L255.5,277.2 L253.5,278.2 L251.5,279.2 L249.5,280.2 L247.5,281.2 L245.5,282.2 L243.5,283.2 L241.5,284.3 L239.5,285.4 L237.5,286.5 L235.5,287.6 L233.5,288.8 L231.5,290.1 L229.5,291.3 L227.5,292.7 L225.5,294.0 L223.5,295.5 L221.5,296.9 L219.5,298.5 L217.5,300.0 L215.5,301.6 L213.5,303.1 L211.5,304.7 L209.5,306.3 L207.5,307.9 L205.5,309.5 L203.5,311.1 L201.5,312.8 L199.5,314.4 L197.5,316.0 L195.5,317.6 L193.5,319.2 L191.5,320.9 L189.5,322.5 L187.5,324.2 L185.5,325.8 L183.5,327.5 L181.5,329.2 L179.5,330.9 L177.5,332.7 L175.5,334.4 L173.5,336.2 L171.5,338.0 L169.5,339.8 L167.5,341.6 L165.5,343.5 L163.5,345.3 L161.5,347.2 L159.5,349.2 L157.5,351.1 L155.5,353.1 L153.5,355.2 L151.5,357.2 L149.5,359.3 L147.5,361.4 L145.5,363.6 L143.5,365.8 L141.5,368.0 L139.5,370.3 L137.5,372.7 L135.5,375.1 L133.5,377.5 L131.5,380.0 L129.5,382.6 L127.5,385.2 L125.5,387.9 L123.5,390.7 L121.5,393.5 L119.5,396.4 L117.5,399.3 L115.5,402.2 L113.5,405.2 L111.5,408.2 L109.5,411.2 L107.5,414.3 L105.5,417.3 L103.5,420.4 L101.5,423.4 L99.5,426.5 L97.5,429.6 L95.5,432.6 L93.5,435.6 L91.5,438.6 L89.5,441.6 L87.5,444.5 L85.5,447.4 L83.5,450.3 L81.5,453.1 L79.5,456.0 L77.5,458.8 L75.5,461.5 L73.5,464.3 L71.5,467.1Z" fill="#fdbf97"/><path d="M71.5,466.7 L73.5,463.9 L75.5,461.1 L77.5,458.4 L79.5,455.6 L81.5,452.7 L83.5,449.9 L85.5,447.0 L87.5,444.1 L89.5,441.2 L91.5,438.2 L93.5,435.2 L95.5,432.2 L97.5,429.2 L99.5,426.1 L101.5,423.0 L103.5,420.0 L105.5,416.9 L107.5,413.9 L109.5,410.8 L111.5,407.8 L113.5,404.8 L115.5,401.8 L117.5,398.9 L119.5,396.0 L121.5,393.1 L123.5,390.3 L125.5,387.5 L127.5,384.8 L129.5,382.2 L131.5,379.6 L133.5,377.1 L135.5,374.7 L137.5,372.3 L139.5,369.9 L141.5,367.6 L143.5,365.4 L145.5,363.2 L147.5,361.0 L149.5,358.9 L151.5,356.8 L153.5,354.8 L155.5,352.7 L157.5,350.7 L159.5,348.8 L161.5,346.8 L163.5,344.9 L165.5,343.1 L167.5,341.2 L169.5,339.4 L171.5,337.6 L173.5,335.8 L175.5,334.0 L177.5,332.3 L179.5,330.5 L181.5,328.8 L183.5,327.1 L185.5,325.4 L187.5,323.8 L189.5,322.1 L191.5,320.5 L193.5,318.8 L195.5,317.2 L197.5,315.6 L199.5,314.0 L201.5,312.4 L203.5,310.7 L205.5,309.1 L207.5,307.5 L209.5,305.9 L211.5,304.3 L213.5,302.7 L215.5,301.2 L217.5,299.6 L219.5,298.1 L221.5,296.5 L223.5,295.1 L225.5,293.6 L227.5,292.3 L229.5,290.9 L231.5,289.7 L233.5,288.4 L235.5,287.2 L237.5,286.1 L239.5,285.0 L241.5,283.9 L243.5,282.8 L245.5,281.8 L247.5,280.8 L249.5,279.8 L251.5,278.8 L253.5,277.8 L255.5,276.8 L257.5,275.8 L259.5,274.7 L261.5,273.7 L263.5,272.7 L265.5,271.6 L267.5,270.6 L269.5,269.5 L271.5,268.4 L273.5,267.3 L275.5,266.1 L277.5,264.9 L279.5,263.7 L281.5,262.4 L283.5,261.1 L285.5,259.8 L287.5,258.4 L289.5,257.0 L291.5,255.6 L293.5,254.1 L295.5,252.5 L297.5,251.0 L299.5,249.4 L301.5,247.8 L303.5,246.1 L305.5,244.4 L307.5,242.7 L309.5,241.0 L311.5,239.3 L313.5,237.5 L315.5,235.7 L317.5,233.9 L319.5,232.1 L321.5,230.3 L323.5,228.4 L325.5,226.6 L327.5,224.7 L329.5,222.9 L331.5,221.0 L333.5,219.1 L335.5,217.2 L337.5,215.4 L339.5,213.5 L341.5,211.6 L343.5,209.8 L345.5,208.0 L347.5,206.1 L349.5,204.3 L351.5,202.5 L353.5,200.8 L355.5,199.0 L357.5,197.3 L359.5,195.6 L361.5,194.0 L363.5,192.4 L365.5,190.8 L367.5,189.2 L369.5,187.7 L371.5,186.3 L373.5,184.8 L375.5,183.5 L377.5,182.1 L379.5,180.9 L381.5,179.6 L383.5,178.4 L385.5,177.3 L387.5,176.1 L389.5,175.0 L391.5,173.9 L393.5,172.8 L395.5,171.7 L397.5,170.7 L399.5,169.6 L401.5,168.5 L403.5,167.4 L405.5,166.4 L407.5,165.3 L409.5,164.3 L411.5,163.3 L413.5,162.3 L415.5,161.3 L417.5,160.4 L419.5,159.5 L421.5,158.7 L423.5,157.9 L425.5,157.2 L427.5,156.5 L429.5,155.9 L431.5,155.4 L433.5,154.8 L435.5,154.4 L437.5,154.0 L439.5,153.6 L441.5,153.2 L443.5,152.9 L445.5,152.6 L447.5,152.4 L449.5,152.1 L451.5,151.9 L453.5,151.7 L455.5,151.6 L457.5,151.4 L459.5,151.2 L461.5,151.1 L463.5,150.9 L465.5,150.8 L467.5,150.7 L469.5,150.5 L471.5,150.4 L473.5,150.3 L475.5,150.2 L477.5,150.1 L479.5,150.0 L481.5,149.9 L483.5,149.8 L485.5,149.7 L487.5,149.6 L489.5,149.6 L491.5,149.5 L493.5,149.4 L495.5,149.3 L497.5,149.2 L499.5,149.2 L501.5,149.1 L503.5,149.0 L505.5,148.9 L507.5,148.8 L509.5,148.8 L511.5,148.7 L513.5,148.6 L515.5,148.6 L517.5,148.5 L519.5,148.4 L521.5,148.4 L523.5,148.4 L525.5,148.3 L527.5,148.3 L529.5,148.3 L531.5,148.3 L533.5,148.3 L535.5,148.3 L537.5,148.3 L539.5,148.3 L541.5,148.4 L543.5,148.4 L545.5,148.5 L547.5,148.6 L549.5,148.7 L551.5,148.8 L553.5,149.0 L555.5,149.1 L557.5,149.3 L559.5,149.5 L561.5,149.6 L563.5,149.8 L565.5,150.0 L567.5,150.2 L569.5,150.4 L571.5,150.5 L573.5,150.7 L575.5,150.8 L577.5,151.0 L579.5,151.1 L581.5,151.1 L583.5,151.2 L585.5,151.2 L587.5,151.2 L589.5,151.2 L591.5,151.1 L593.5,151.0 L595.5,150.8 L597.5,150.6 L599.5,150.4 L601.5,150.1 L603.5,149.7 L605.5,149.3 L607.5,148.8 L609.3,148.3 L609.3,159.3 L607.5,159.8 L605.5,160.3 L603.5,160.7 L601.5,161.1 L599.5,161.4 L597.5,161.6 L595.5,161.9 L593.5,162.0 L591.5,162.1 L589.5,162.2 L587.5,162.2 L585.5,162.2 L583.5,162.2 L581.5,162.1 L579.5,162.1 L577.5,162.0 L575.5,161.8 L573.5,161.7 L571.5,161.5 L569.5,161.3 L567.5,161.2 L565.5,161.0 L563.5,160.8 L561.5,160.6 L559.5,160.4 L557.5,160.2 L555.5,160.1 L553.5,159.9 L551.5,159.8 L549.5,159.7 L547.5,159.6 L545.5,159.5 L543.5,159.4 L541.5,159.4 L539.5,159.3 L537.5,159.3 L535.5,159.3 L533.5,159.2 L531.5,159.3 L529.5,159.3 L527.5,159.3 L525.5,159.3 L523.5,159.3 L521.5,159.4 L519.5,159.4 L517.5,159.5 L515.5,159.5 L513.5,159.6 L511.5,159.7 L509.5,159.7 L507.5,159.8 L505.5,159.9 L503.5,159.9 L501.5,160.0 L499.5,160.1 L497.5,160.1 L495.5,160.2 L493.5,160.3 L491.5,160.3 L489.5,160.4 L487.5,160.4 L485.5,160.5 L483.5,160.6 L481.5,160.6 L479.5,160.7 L477.5,160.8 L475.5,160.8 L473.5,160.9 L471.5,161.0 L469.5,161.1 L467.5,161.2 L465.5,161.3 L463.5,161.4 L461.5,161.5 L459.5,161.7 L457.5,161.8 L455.5,162.0 L453.5,162.1 L451.5,162.3 L449.5,162.5 L447.5,162.7 L445.5,162.9 L443.5,163.2 L441.5,163.5 L439.5,163.8 L437.5,164.2 L435.5,164.5 L433.5,165.0 L431.5,165.4 L429.5,166.0 L427.5,166.5 L425.5,167.1 L423.5,167.8 L421.5,168.5 L419.5,169.2 L417.5,170.0 L415.5,170.9 L413.5,171.7 L411.5,172.6 L409.5,173.6 L407.5,174.5 L405.5,175.5 L403.5,176.5 L401.5,177.5 L399.5,178.5 L397.5,179.5 L395.5,180.6 L393.5,181.6 L391.5,182.7 L389.5,183.7 L387.5,184.8 L385.5,185.9 L383.5,187.1 L381.5,188.2 L379.5,189.4 L377.5,190.7 L375.5,192.0 L373.5,193.3 L371.5,194.7 L369.5,196.1 L367.5,197.5 L365.5,199.0 L363.5,200.6 L361.5,202.1 L359.5,203.8 L357.5,205.4 L355.5,207.1 L353.5,208.8 L351.5,210.6 L349.5,212.4 L347.5,214.2 L345.5,216.1 L343.5,217.9 L341.5,219.8 L339.5,221.7 L337.5,223.6 L335.5,225.5 L333.5,227.4 L331.5,229.3 L329.5,231.2 L327.5,233.0 L325.5,234.9 L323.5,236.7 L321.5,238.5 L319.5,240.3 L317.5,242.1 L315.5,243.9 L313.5,245.6 L311.5,247.3 L309.5,249.0 L307.5,250.7 L305.5,252.4 L303.5,254.0 L301.5,255.6 L299.5,257.2 L297.5,258.8 L295.5,260.4 L293.5,261.9 L291.5,263.4 L289.5,264.9 L287.5,266.3 L285.5,267.7 L283.5,269.0 L281.5,270.3 L279.5,271.6 L277.5,272.8 L275.5,273.9 L273.5,275.1 L271.5,276.1 L269.5,277.2 L267.5,278.3 L265.5,279.3 L263.5,280.3 L261.5,281.3 L259.5,282.3 L257.5,283.3 L255.5,284.3 L253.5,285.3 L251.5,286.3 L249.5,287.3 L247.5,288.3 L245.5,289.3 L243.5,290.4 L241.5,291.5 L239.5,292.7 L237.5,293.8 L235.5,295.1 L233.5,296.4 L231.5,297.7 L229.5,299.1 L227.5,300.6 L225.5,302.1 L223.5,303.7 L221.5,305.3 L219.5,307.0 L217.5,308.7 L215.5,310.4 L213.5,312.2 L211.5,313.9 L209.5,315.6 L207.5,317.3 L205.5,319.0 L203.5,320.6 L201.5,322.3 L199.5,323.9 L197.5,325.5 L195.5,327.1 L193.5,328.8 L191.5,330.4 L189.5,332.0 L187.5,333.6 L185.5,335.3 L183.5,336.9 L181.5,338.6 L179.5,340.3 L177.5,342.0 L175.5,343.7 L173.5,345.5 L171.5,347.3 L169.5,349.0 L167.5,350.9 L165.5,352.7 L163.5,354.6 L161.5,356.4 L159.5,358.4 L157.5,360.3 L155.5,362.3 L153.5,364.3 L151.5,366.3 L149.5,368.4 L147.5,370.5 L145.5,372.7 L143.5,374.8 L141.5,377.1 L139.5,379.3 L137.5,381.7 L135.5,384.0 L133.5,386.5 L131.5,388.9 L129.5,391.4 L127.5,394.0 L125.5,396.7 L123.5,399.4 L121.5,402.1 L119.5,404.9 L117.5,407.7 L115.5,410.5 L113.5,413.4 L111.5,416.3 L109.5,419.3 L107.5,422.2 L105.5,425.2 L103.5,428.2 L101.5,431.2 L99.5,434.1 L97.5,437.1 L95.5,440.1 L93.5,443.1 L91.5,446.0 L89.5,449.0 L87.5,451.9 L85.5,454.8 L83.5,457.6 L81.5,460.5 L79.5,463.3 L77.5,466.1 L75.5,468.9 L73.5,471.7 L71.5,474.5Z" fill="#fccc94"/><path d="M71.5,474.1 L73.5,471.3 L75.5,468.5 L77.5,465.7 L79.5,462.9 L81.5,460.1 L83.5,457.2 L85.5,454.4 L87.5,451.5 L89.5,448.6 L91.5,445.6 L93.5,442.7 L95.5,439.7 L97.5,436.7 L99.5,433.7 L101.5,430.8 L103.5,427.8 L105.5,424.8 L107.5,421.8 L109.5,418.9 L111.5,415.9 L113.5,413.0 L115.5,410.1 L117.5,407.3 L119.5,404.5 L121.5,401.7 L123.5,399.0 L125.5,396.3 L127.5,393.6 L129.5,391.0 L131.5,388.5 L133.5,386.1 L135.5,383.6 L137.5,381.3 L139.5,378.9 L141.5,376.7 L143.5,374.4 L145.5,372.3 L147.5,370.1 L149.5,368.0 L151.5,365.9 L153.5,363.9 L155.5,361.9 L157.5,359.9 L159.5,358.0 L161.5,356.0 L163.5,354.2 L165.5,352.3 L167.5,350.5 L169.5,348.6 L171.5,346.9 L173.5,345.1 L175.5,343.3 L177.5,341.6 L179.5,339.9 L181.5,338.2 L183.5,336.5 L185.5,334.9 L187.5,333.2 L189.5,331.6 L191.5,330.0 L193.5,328.4 L195.5,326.7 L197.5,325.1 L199.5,323.5 L201.5,321.9 L203.5,320.2 L205.5,318.6 L207.5,316.9 L209.5,315.2 L211.5,313.5 L213.5,311.8 L215.5,310.0 L217.5,308.3 L219.5,306.6 L221.5,304.9 L223.5,303.3 L225.5,301.7 L227.5,300.2 L229.5,298.7 L231.5,297.3 L233.5,296.0 L235.5,294.7 L237.5,293.4 L239.5,292.3 L241.5,291.1 L243.5,290.0 L245.5,288.9 L247.5,287.9 L249.5,286.9 L251.5,285.9 L253.5,284.9 L255.5,283.9 L257.5,282.9 L259.5,281.9 L261.5,280.9 L263.5,279.9 L265.5,278.9 L267.5,277.9 L269.5,276.8 L271.5,275.7 L273.5,274.7 L275.5,273.5 L277.5,272.4 L279.5,271.2 L281.5,269.9 L283.5,268.6 L285.5,267.3 L287.5,265.9 L289.5,264.5 L291.5,263.0 L293.5,261.5 L295.5,260.0 L297.5,258.4 L299.5,256.8 L301.5,255.2 L303.5,253.6 L305.5,252.0 L307.5,250.3 L309.5,248.6 L311.5,246.9 L313.5,245.2 L315.5,243.5 L317.5,241.7 L319.5,239.9 L321.5,238.1 L323.5,236.3 L325.5,234.5 L327.5,232.6 L329.5,230.8 L331.5,228.9 L333.5,227.0 L335.5,225.1 L337.5,223.2 L339.5,221.3 L341.5,219.4 L343.5,217.5 L345.5,215.7 L347.5,213.8 L349.5,212.0 L351.5,210.2 L353.5,208.4 L355.5,206.7 L357.5,205.0 L359.5,203.4 L361.5,201.7 L363.5,200.2 L365.5,198.6 L367.5,197.1 L369.5,195.7 L371.5,194.3 L373.5,192.9 L375.5,191.6 L377.5,190.3 L379.5,189.0 L381.5,187.8 L383.5,186.7 L385.5,185.5 L387.5,184.4 L389.5,183.3 L391.5,182.3 L393.5,181.2 L395.5,180.2 L397.5,179.1 L399.5,178.1 L401.5,177.1 L403.5,176.1 L405.5,175.1 L407.5,174.1 L409.5,173.2 L411.5,172.2 L413.5,171.3 L415.5,170.5 L417.5,169.6 L419.5,168.8 L421.5,168.1 L423.5,167.4 L425.5,166.7 L427.5,166.1 L429.5,165.6 L431.5,165.0 L433.5,164.6 L435.5,164.1 L437.5,163.8 L439.5,163.4 L441.5,163.1 L443.5,162.8 L445.5,162.5 L447.5,162.3 L449.5,162.1 L451.5,161.9 L453.5,161.7 L455.5,161.6 L457.5,161.4 L459.5,161.3 L461.5,161.1 L463.5,161.0 L465.5,160.9 L467.5,160.8 L469.5,160.7 L471.5,160.6 L473.5,160.5 L475.5,160.4 L477.5,160.4 L479.5,160.3 L481.5,160.2 L483.5,160.2 L485.5,160.1 L487.5,160.0 L489.5,160.0 L491.5,159.9 L493.5,159.9 L495.5,159.8 L497.5,159.7 L499.5,159.7 L501.5,159.6 L503.5,159.5 L505.5,159.5 L507.5,159.4 L509.5,159.3 L511.5,159.3 L513.5,159.2 L515.5,159.1 L517.5,159.1 L519.5,159.0 L521.5,159.0 L523.5,158.9 L525.5,158.9 L527.5,158.9 L529.5,158.9 L531.5,158.9 L533.5,158.8 L535.5,158.9 L537.5,158.9 L539.5,158.9 L541.5,159.0 L543.5,159.0 L545.5,159.1 L547.5,159.2 L549.5,159.3 L551.5,159.4 L553.5,159.5 L555.5,159.7 L557.5,159.8 L559.5,160.0 L561.5,160.2 L563.5,160.4 L565.5,160.6 L567.5,160.8 L569.5,160.9 L571.5,161.1 L573.5,161.3 L575.5,161.4 L577.5,161.6 L579.5,161.7 L581.5,161.7 L583.5,161.8 L585.5,161.8 L587.5,161.8 L589.5,161.8 L591.5,161.7 L593.5,161.6 L595.5,161.5 L597.5,161.2 L599.5,161.0 L601.5,160.7 L603.5,160.3 L605.5,159.9 L607.5,159.4 L609.3,158.9 L609.3,169.9 L607.5,170.4 L605.5,170.9 L603.5,171.3 L601.5,171.7 L599.5,172.0 L597.5,172.3 L595.5,172.5 L593.5,172.6 L591.5,172.7 L589.5,172.8 L587.5,172.8 L585.5,172.8 L583.5,172.8 L581.5,172.7 L579.5,172.7 L577.5,172.5 L575.5,172.4 L573.5,172.3 L571.5,172.1 L569.5,171.9 L567.5,171.7 L565.5,171.6 L563.5,171.4 L561.5,171.2 L559.5,171.0 L557.5,170.8 L555.5,170.6 L553.5,170.5 L551.5,170.4 L549.5,170.2 L547.5,170.1 L545.5,170.1 L543.5,170.0 L541.5,169.9 L539.5,169.9 L537.5,169.9 L535.5,169.8 L533.5,169.8 L531.5,169.8 L529.5,169.8 L527.5,169.9 L525.5,169.9 L523.5,169.9 L521.5,170.0 L519.5,170.0 L517.5,170.1 L515.5,170.1 L513.5,170.2 L511.5,170.2 L509.5,170.3 L507.5,170.4 L505.5,170.4 L503.5,170.5 L501.5,170.5 L499.5,170.6 L497.5,170.6 L495.5,170.7 L493.5,170.7 L491.5,170.7 L489.5,170.8 L487.5,170.8 L485.5,170.9 L483.5,170.9 L481.5,170.9 L479.5,171.0 L477.5,171.0 L475.5,171.1 L473.5,171.1 L471.5,171.2 L469.5,171.3 L467.5,171.3 L465.5,171.4 L463.5,171.5 L461.5,171.6 L459.5,171.7 L457.5,171.8 L455.5,171.9 L453.5,172.1 L451.5,172.3 L449.5,172.4 L447.5,172.6 L445.5,172.8 L443.5,173.1 L441.5,173.3 L439.5,173.6 L437.5,174.0 L435.5,174.3 L433.5,174.7 L431.5,175.1 L429.5,175.6 L427.5,176.1 L425.5,176.7 L423.5,177.2 L421.5,177.9 L419.5,178.6 L417.5,179.3 L415.5,180.0 L413.5,180.8 L411.5,181.6 L409.5,182.5 L407.5,183.3 L405.5,184.2 L403.5,185.2 L401.5,186.1 L399.5,187.1 L397.5,188.0 L395.5,189.0 L393.5,190.0 L391.5,191.0 L389.5,192.1 L387.5,193.1 L385.5,194.2 L383.5,195.3 L381.5,196.4 L379.5,197.6 L377.5,198.8 L375.5,200.1 L373.5,201.4 L371.5,202.7 L369.5,204.0 L367.5,205.4 L365.5,206.9 L363.5,208.4 L361.5,209.9 L359.5,211.5 L357.5,213.1 L355.5,214.8 L353.5,216.5 L351.5,218.2 L349.5,220.0 L347.5,221.9 L345.5,223.8 L343.5,225.7 L341.5,227.6 L339.5,229.5 L337.5,231.4 L335.5,233.4 L333.5,235.3 L331.5,237.2 L329.5,239.1 L327.5,241.0 L325.5,242.8 L323.5,244.6 L321.5,246.4 L319.5,248.2 L317.5,249.9 L315.5,251.7 L313.5,253.3 L311.5,255.0 L309.5,256.6 L307.5,258.3 L305.5,259.9 L303.5,261.5 L301.5,263.0 L299.5,264.6 L297.5,266.2 L295.5,267.8 L293.5,269.3 L291.5,270.9 L289.5,272.4 L287.5,273.8 L285.5,275.2 L283.5,276.6 L281.5,277.8 L279.5,279.1 L277.5,280.2 L275.5,281.4 L273.5,282.5 L271.5,283.5 L269.5,284.5 L267.5,285.5 L265.5,286.5 L263.5,287.5 L261.5,288.5 L259.5,289.4 L257.5,290.4 L255.5,291.4 L253.5,292.3 L251.5,293.3 L249.5,294.4 L247.5,295.4 L245.5,296.5 L243.5,297.6 L241.5,298.7 L239.5,299.9 L237.5,301.2 L235.5,302.5 L233.5,303.9 L231.5,305.3 L229.5,306.9 L227.5,308.5 L225.5,310.2 L223.5,311.9 L221.5,313.7 L219.5,315.6 L217.5,317.4 L215.5,319.3 L213.5,321.2 L211.5,323.0 L209.5,324.9 L207.5,326.6 L205.5,328.4 L203.5,330.1 L201.5,331.8 L199.5,333.4 L197.5,335.1 L195.5,336.7 L193.5,338.3 L191.5,339.9 L189.5,341.5 L187.5,343.1 L185.5,344.7 L183.5,346.4 L181.5,348.0 L179.5,349.7 L177.5,351.4 L175.5,353.1 L173.5,354.8 L171.5,356.5 L169.5,358.3 L167.5,360.1 L165.5,361.9 L163.5,363.8 L161.5,365.6 L159.5,367.5 L157.5,369.5 L155.5,371.4 L153.5,373.4 L151.5,375.5 L149.5,377.5 L147.5,379.6 L145.5,381.7 L143.5,383.9 L141.5,386.1 L139.5,388.4 L137.5,390.7 L135.5,393.0 L133.5,395.4 L131.5,397.8 L129.5,400.3 L127.5,402.8 L125.5,405.4 L123.5,408.0 L121.5,410.7 L119.5,413.4 L117.5,416.1 L115.5,418.9 L113.5,421.7 L111.5,424.5 L109.5,427.3 L107.5,430.2 L105.5,433.1 L103.5,436.0 L101.5,438.9 L99.5,441.8 L97.5,444.7 L95.5,447.6 L93.5,450.5 L91.5,453.4 L89.5,456.3 L87.5,459.2 L85.5,462.1 L83.5,464.9 L81.5,467.8 L79.5,470.6 L77.5,473.5 L75.5,476.3 L73.5,479.1 L71.5,481.9Z" fill="#fdd693"/><path d="M71.5,481.5 L73.5,478.7 L75.5,475.9 L77.5,473.1 L79.5,470.2 L81.5,467.4 L83.5,464.5 L85.5,461.7 L87.5,458.8 L89.5,455.9 L91.5,453.0 L93.5,450.1 L95.5,447.2 L97.5,444.3 L99.5,441.4 L101.5,438.5 L103.5,435.6 L105.5,432.7 L107.5,429.8 L109.5,426.9 L111.5,424.1 L113.5,421.3 L115.5,418.5 L117.5,415.7 L119.5,413.0 L121.5,410.3 L123.5,407.6 L125.5,405.0 L127.5,402.4 L129.5,399.9 L131.5,397.4 L133.5,395.0 L135.5,392.6 L137.5,390.3 L139.5,388.0 L141.5,385.7 L143.5,383.5 L145.5,381.3 L147.5,379.2 L149.5,377.1 L151.5,375.1 L153.5,373.0 L155.5,371.0 L157.5,369.1 L159.5,367.1 L161.5,365.2 L163.5,363.4 L165.5,361.5 L167.5,359.7 L169.5,357.9 L171.5,356.1 L173.5,354.4 L175.5,352.7 L177.5,351.0 L179.5,349.3 L181.5,347.6 L183.5,346.0 L185.5,344.3 L187.5,342.7 L189.5,341.1 L191.5,339.5 L193.5,337.9 L195.5,336.3 L197.5,334.7 L199.5,333.0 L201.5,331.4 L203.5,329.7 L205.5,328.0 L207.5,326.2 L209.5,324.5 L211.5,322.6 L213.5,320.8 L215.5,318.9 L217.5,317.0 L219.5,315.2 L221.5,313.3 L223.5,311.5 L225.5,309.8 L227.5,308.1 L229.5,306.5 L231.5,304.9 L233.5,303.5 L235.5,302.1 L237.5,300.8 L239.5,299.5 L241.5,298.3 L243.5,297.2 L245.5,296.1 L247.5,295.0 L249.5,294.0 L251.5,292.9 L253.5,291.9 L255.5,291.0 L257.5,290.0 L259.5,289.0 L261.5,288.1 L263.5,287.1 L265.5,286.1 L267.5,285.1 L269.5,284.1 L271.5,283.1 L273.5,282.1 L275.5,281.0 L277.5,279.8 L279.5,278.7 L281.5,277.4 L283.5,276.2 L285.5,274.8 L287.5,273.4 L289.5,272.0 L291.5,270.5 L293.5,268.9 L295.5,267.4 L297.5,265.8 L299.5,264.2 L301.5,262.6 L303.5,261.1 L305.5,259.5 L307.5,257.9 L309.5,256.2 L311.5,254.6 L313.5,252.9 L315.5,251.3 L317.5,249.5 L319.5,247.8 L321.5,246.0 L323.5,244.2 L325.5,242.4 L327.5,240.6 L329.5,238.7 L331.5,236.8 L333.5,234.9 L335.5,233.0 L337.5,231.0 L339.5,229.1 L341.5,227.2 L343.5,225.3 L345.5,223.4 L347.5,221.5 L349.5,219.6 L351.5,217.8 L353.5,216.1 L355.5,214.4 L357.5,212.7 L359.5,211.1 L361.5,209.5 L363.5,208.0 L365.5,206.5 L367.5,205.0 L369.5,203.6 L371.5,202.3 L373.5,201.0 L375.5,199.7 L377.5,198.4 L379.5,197.2 L381.5,196.0 L383.5,194.9 L385.5,193.8 L387.5,192.7 L389.5,191.7 L391.5,190.6 L393.5,189.6 L395.5,188.6 L397.5,187.6 L399.5,186.7 L401.5,185.7 L403.5,184.8 L405.5,183.8 L407.5,182.9 L409.5,182.1 L411.5,181.2 L413.5,180.4 L415.5,179.6 L417.5,178.9 L419.5,178.2 L421.5,177.5 L423.5,176.8 L425.5,176.3 L427.5,175.7 L429.5,175.2 L431.5,174.7 L433.5,174.3 L435.5,173.9 L437.5,173.6 L439.5,173.2 L441.5,172.9 L443.5,172.7 L445.5,172.4 L447.5,172.2 L449.5,172.0 L451.5,171.9 L453.5,171.7 L455.5,171.5 L457.5,171.4 L459.5,171.3 L461.5,171.2 L463.5,171.1 L465.5,171.0 L467.5,170.9 L469.5,170.9 L471.5,170.8 L473.5,170.7 L475.5,170.7 L477.5,170.6 L479.5,170.6 L481.5,170.5 L483.5,170.5 L485.5,170.5 L487.5,170.4 L489.5,170.4 L491.5,170.3 L493.5,170.3 L495.5,170.3 L497.5,170.2 L499.5,170.2 L501.5,170.1 L503.5,170.1 L505.5,170.0 L507.5,170.0 L509.5,169.9 L511.5,169.8 L513.5,169.8 L515.5,169.7 L517.5,169.7 L519.5,169.6 L521.5,169.6 L523.5,169.5 L525.5,169.5 L527.5,169.5 L529.5,169.4 L531.5,169.4 L533.5,169.4 L535.5,169.4 L537.5,169.5 L539.5,169.5 L541.5,169.5 L543.5,169.6 L545.5,169.7 L547.5,169.7 L549.5,169.8 L551.5,170.0 L553.5,170.1 L555.5,170.2 L557.5,170.4 L559.5,170.6 L561.5,170.8 L563.5,171.0 L565.5,171.2 L567.5,171.3 L569.5,171.5 L571.5,171.7 L573.5,171.9 L575.5,172.0 L577.5,172.1 L579.5,172.3 L581.5,172.3 L583.5,172.4 L585.5,172.4 L587.5,172.4 L589.5,172.4 L591.5,172.3 L593.5,172.2 L595.5,172.1 L597.5,171.9 L599.5,171.6 L601.5,171.3 L603.5,170.9 L605.5,170.5 L607.5,170.0 L609.3,169.5 L609.3,180.5 L607.5,181.0 L605.5,181.5 L603.5,181.9 L601.5,182.3 L599.5,182.6 L597.5,182.9 L595.5,183.1 L593.5,183.2 L591.5,183.4 L589.5,183.4 L587.5,183.5 L585.5,183.5 L583.5,183.4 L581.5,183.3 L579.5,183.3 L577.5,183.1 L575.5,183.0 L573.5,182.8 L571.5,182.7 L569.5,182.5 L567.5,182.3 L565.5,182.1 L563.5,181.9 L561.5,181.7 L559.5,181.6 L557.5,181.4 L555.5,181.2 L553.5,181.1 L551.5,180.9 L549.5,180.8 L547.5,180.7 L545.5,180.6 L543.5,180.5 L541.5,180.5 L539.5,180.5 L537.5,180.4 L535.5,180.4 L533.5,180.4 L531.5,180.4 L529.5,180.4 L527.5,180.4 L525.5,180.5 L523.5,180.5 L521.5,180.6 L519.5,180.6 L517.5,180.6 L515.5,180.7 L513.5,180.8 L511.5,180.8 L509.5,180.9 L507.5,180.9 L505.5,181.0 L503.5,181.0 L501.5,181.0 L499.5,181.1 L497.5,181.1 L495.5,181.1 L493.5,181.2 L491.5,181.2 L489.5,181.2 L487.5,181.2 L485.5,181.2 L483.5,181.2 L481.5,181.2 L479.5,181.3 L477.5,181.3 L475.5,181.3 L473.5,181.3 L471.5,181.4 L469.5,181.4 L467.5,181.5 L465.5,181.5 L463.5,181.6 L461.5,181.7 L459.5,181.7 L457.5,181.8 L455.5,181.9 L453.5,182.1 L451.5,182.2 L449.5,182.4 L447.5,182.5 L445.5,182.7 L443.5,183.0 L441.5,183.2 L439.5,183.5 L437.5,183.8 L435.5,184.1 L433.5,184.4 L431.5,184.8 L429.5,185.3 L427.5,185.7 L425.5,186.2 L423.5,186.7 L421.5,187.3 L419.5,187.9 L417.5,188.5 L415.5,189.2 L413.5,189.9 L411.5,190.6 L409.5,191.4 L407.5,192.2 L405.5,193.0 L403.5,193.8 L401.5,194.7 L399.5,195.6 L397.5,196.5 L395.5,197.4 L393.5,198.4 L391.5,199.4 L389.5,200.4 L387.5,201.4 L385.5,202.5 L383.5,203.5 L381.5,204.7 L379.5,205.8 L377.5,207.0 L375.5,208.2 L373.5,209.4 L371.5,210.7 L369.5,212.0 L367.5,213.3 L365.5,214.7 L363.5,216.2 L361.5,217.7 L359.5,219.2 L357.5,220.8 L355.5,222.4 L353.5,224.1 L351.5,225.9 L349.5,227.7 L347.5,229.5 L345.5,231.5 L343.5,233.4 L341.5,235.3 L339.5,237.3 L337.5,239.3 L335.5,241.3 L333.5,243.2 L331.5,245.1 L329.5,247.0 L327.5,248.9 L325.5,250.7 L323.5,252.5 L321.5,254.3 L319.5,256.0 L317.5,257.7 L315.5,259.4 L313.5,261.1 L311.5,262.7 L309.5,264.2 L307.5,265.8 L305.5,267.4 L303.5,268.9 L301.5,270.5 L299.5,272.0 L297.5,273.6 L295.5,275.2 L293.5,276.8 L291.5,278.3 L289.5,279.8 L287.5,281.3 L285.5,282.7 L283.5,284.1 L281.5,285.4 L279.5,286.6 L277.5,287.7 L275.5,288.8 L273.5,289.9 L271.5,290.9 L269.5,291.9 L267.5,292.8 L265.5,293.8 L263.5,294.7 L261.5,295.6 L259.5,296.6 L257.5,297.5 L255.5,298.5 L253.5,299.4 L251.5,300.4 L249.5,301.4 L247.5,302.5 L245.5,303.6 L243.5,304.7 L241.5,305.9 L239.5,307.2 L237.5,308.5 L235.5,309.9 L233.5,311.4 L231.5,313.0 L229.5,314.6 L227.5,316.4 L225.5,318.2 L223.5,320.1 L221.5,322.1 L219.5,324.1 L217.5,326.1 L215.5,328.2 L213.5,330.2 L211.5,332.2 L209.5,334.1 L207.5,336.0 L205.5,337.8 L203.5,339.6 L201.5,341.3 L199.5,343.0 L197.5,344.6 L195.5,346.2 L193.5,347.8 L191.5,349.4 L189.5,351.0 L187.5,352.5 L185.5,354.1 L183.5,355.8 L181.5,357.4 L179.5,359.0 L177.5,360.7 L175.5,362.4 L173.5,364.1 L171.5,365.8 L169.5,367.6 L167.5,369.4 L165.5,371.2 L163.5,373.0 L161.5,374.8 L159.5,376.7 L157.5,378.6 L155.5,380.6 L153.5,382.6 L151.5,384.6 L149.5,386.6 L147.5,388.7 L145.5,390.8 L143.5,393.0 L141.5,395.1 L139.5,397.4 L137.5,399.7 L135.5,402.0 L133.5,404.3 L131.5,406.7 L129.5,409.1 L127.5,411.6 L125.5,414.1 L123.5,416.7 L121.5,419.3 L119.5,421.9 L117.5,424.5 L115.5,427.2 L113.5,429.9 L111.5,432.7 L109.5,435.4 L107.5,438.2 L105.5,441.0 L103.5,443.8 L101.5,446.6 L99.5,449.4 L97.5,452.3 L95.5,455.1 L93.5,458.0 L91.5,460.8 L89.5,463.7 L87.5,466.6 L85.5,469.4 L83.5,472.3 L81.5,475.1 L79.5,478.0 L77.5,480.8 L75.5,483.7 L73.5,486.5 L71.5,489.4Z" fill="#fddf93"/><path d="M71.5,489.0 L73.5,486.1 L75.5,483.3 L77.5,480.4 L79.5,477.6 L81.5,474.7 L83.5,471.9 L85.5,469.0 L87.5,466.2 L89.5,463.3 L91.5,460.4 L93.5,457.6 L95.5,454.7 L97.5,451.9 L99.5,449.0 L101.5,446.2 L103.5,443.4 L105.5,440.6 L107.5,437.8 L109.5,435.0 L111.5,432.3 L113.5,429.5 L115.5,426.8 L117.5,424.1 L119.5,421.5 L121.5,418.9 L123.5,416.3 L125.5,413.7 L127.5,411.2 L129.5,408.7 L131.5,406.3 L133.5,403.9 L135.5,401.6 L137.5,399.3 L139.5,397.0 L141.5,394.7 L143.5,392.6 L145.5,390.4 L147.5,388.3 L149.5,386.2 L151.5,384.2 L153.5,382.2 L155.5,380.2 L157.5,378.2 L159.5,376.3 L161.5,374.4 L163.5,372.6 L165.5,370.8 L167.5,369.0 L169.5,367.2 L171.5,365.4 L173.5,363.7 L175.5,362.0 L177.5,360.3 L179.5,358.6 L181.5,357.0 L183.5,355.4 L185.5,353.7 L187.5,352.1 L189.5,350.6 L191.5,349.0 L193.5,347.4 L195.5,345.8 L197.5,344.2 L199.5,342.6 L201.5,340.9 L203.5,339.2 L205.5,337.4 L207.5,335.6 L209.5,333.7 L211.5,331.8 L213.5,329.8 L215.5,327.8 L217.5,325.7 L219.5,323.7 L221.5,321.7 L223.5,319.7 L225.5,317.8 L227.5,316.0 L229.5,314.2 L231.5,312.6 L233.5,311.0 L235.5,309.5 L237.5,308.1 L239.5,306.8 L241.5,305.5 L243.5,304.3 L245.5,303.2 L247.5,302.1 L249.5,301.0 L251.5,300.0 L253.5,299.0 L255.5,298.1 L257.5,297.1 L259.5,296.2 L261.5,295.2 L263.5,294.3 L265.5,293.4 L267.5,292.4 L269.5,291.5 L271.5,290.5 L273.5,289.5 L275.5,288.4 L277.5,287.3 L279.5,286.2 L281.5,285.0 L283.5,283.7 L285.5,282.3 L287.5,280.9 L289.5,279.4 L291.5,277.9 L293.5,276.4 L295.5,274.8 L297.5,273.2 L299.5,271.6 L301.5,270.1 L303.5,268.5 L305.5,267.0 L307.5,265.4 L309.5,263.8 L311.5,262.3 L313.5,260.7 L315.5,259.0 L317.5,257.3 L319.5,255.6 L321.5,253.9 L323.5,252.1 L325.5,250.3 L327.5,248.5 L329.5,246.6 L331.5,244.7 L333.5,242.8 L335.5,240.9 L337.5,238.9 L339.5,236.9 L341.5,234.9 L343.5,233.0 L345.5,231.1 L347.5,229.1 L349.5,227.3 L351.5,225.5 L353.5,223.7 L355.5,222.0 L357.5,220.4 L359.5,218.8 L361.5,217.3 L363.5,215.8 L365.5,214.3 L367.5,212.9 L369.5,211.6 L371.5,210.3 L373.5,209.0 L375.5,207.8 L377.5,206.6 L379.5,205.4 L381.5,204.3 L383.5,203.1 L385.5,202.1 L387.5,201.0 L389.5,200.0 L391.5,199.0 L393.5,198.0 L395.5,197.0 L397.5,196.1 L399.5,195.2 L401.5,194.3 L403.5,193.4 L405.5,192.6 L407.5,191.8 L409.5,191.0 L411.5,190.2 L413.5,189.5 L415.5,188.8 L417.5,188.1 L419.5,187.5 L421.5,186.9 L423.5,186.3 L425.5,185.8 L427.5,185.3 L429.5,184.9 L431.5,184.4 L433.5,184.0 L435.5,183.7 L437.5,183.4 L439.5,183.1 L441.5,182.8 L443.5,182.6 L445.5,182.3 L447.5,182.1 L449.5,182.0 L451.5,181.8 L453.5,181.7 L455.5,181.5 L457.5,181.4 L459.5,181.3 L461.5,181.3 L463.5,181.2 L465.5,181.1 L467.5,181.1 L469.5,181.0 L471.5,181.0 L473.5,180.9 L475.5,180.9 L477.5,180.9 L479.5,180.9 L481.5,180.8 L483.5,180.8 L485.5,180.8 L487.5,180.8 L489.5,180.8 L491.5,180.8 L493.5,180.8 L495.5,180.7 L497.5,180.7 L499.5,180.7 L501.5,180.6 L503.5,180.6 L505.5,180.6 L507.5,180.5 L509.5,180.5 L511.5,180.4 L513.5,180.4 L515.5,180.3 L517.5,180.2 L519.5,180.2 L521.5,180.2 L523.5,180.1 L525.5,180.1 L527.5,180.0 L529.5,180.0 L531.5,180.0 L533.5,180.0 L535.5,180.0 L537.5,180.0 L539.5,180.1 L541.5,180.1 L543.5,180.1 L545.5,180.2 L547.5,180.3 L549.5,180.4 L551.5,180.5 L553.5,180.7 L555.5,180.8 L557.5,181.0 L559.5,181.2 L561.5,181.3 L563.5,181.5 L565.5,181.7 L567.5,181.9 L569.5,182.1 L571.5,182.3 L573.5,182.4 L575.5,182.6 L577.5,182.7 L579.5,182.9 L581.5,182.9 L583.5,183.0 L585.5,183.1 L587.5,183.1 L589.5,183.0 L591.5,183.0 L593.5,182.8 L595.5,182.7 L597.5,182.5 L599.5,182.2 L601.5,181.9 L603.5,181.5 L605.5,181.1 L607.5,180.6 L609.3,180.1 L609.3,190.7 L607.5,191.2 L605.5,191.7 L603.5,192.1 L601.5,192.5 L599.5,192.8 L597.5,193.1 L595.5,193.3 L593.5,193.5 L591.5,193.6 L589.5,193.6 L587.5,193.7 L585.5,193.7 L583.5,193.6 L581.5,193.5 L579.5,193.5 L577.5,193.3 L575.5,193.2 L573.5,193.0 L571.5,192.9 L569.5,192.7 L567.5,192.5 L565.5,192.3 L563.5,192.1 L561.5,191.9 L559.5,191.7 L557.5,191.5 L555.5,191.4 L553.5,191.2 L551.5,191.1 L549.5,191.0 L547.5,190.9 L545.5,190.8 L543.5,190.7 L541.5,190.7 L539.5,190.6 L537.5,190.6 L535.5,190.6 L533.5,190.6 L531.5,190.6 L529.5,190.6 L527.5,190.6 L525.5,190.7 L523.5,190.7 L521.5,190.7 L519.5,190.8 L517.5,190.8 L515.5,190.9 L513.5,190.9 L511.5,191.0 L509.5,191.0 L507.5,191.1 L505.5,191.1 L503.5,191.1 L501.5,191.2 L499.5,191.2 L497.5,191.2 L495.5,191.2 L493.5,191.2 L491.5,191.2 L489.5,191.2 L487.5,191.2 L485.5,191.2 L483.5,191.2 L481.5,191.2 L479.5,191.2 L477.5,191.1 L475.5,191.1 L473.5,191.1 L471.5,191.2 L469.5,191.2 L467.5,191.2 L465.5,191.2 L463.5,191.3 L461.5,191.3 L459.5,191.4 L457.5,191.5 L455.5,191.5 L453.5,191.6 L451.5,191.8 L449.5,191.9 L447.5,192.1 L445.5,192.2 L443.5,192.4 L441.5,192.7 L439.5,192.9 L437.5,193.2 L435.5,193.5 L433.5,193.8 L431.5,194.1 L429.5,194.5 L427.5,194.9 L425.5,195.3 L423.5,195.8 L421.5,196.3 L419.5,196.8 L417.5,197.4 L415.5,197.9 L413.5,198.6 L411.5,199.2 L409.5,199.9 L407.5,200.6 L405.5,201.3 L403.5,202.1 L401.5,202.9 L399.5,203.7 L397.5,204.6 L395.5,205.5 L393.5,206.4 L391.5,207.3 L389.5,208.3 L387.5,209.3 L385.5,210.3 L383.5,211.4 L381.5,212.5 L379.5,213.6 L377.5,214.7 L375.5,215.9 L373.5,217.1 L371.5,218.3 L369.5,219.6 L367.5,220.9 L365.5,222.2 L363.5,223.6 L361.5,225.0 L359.5,226.5 L357.5,228.1 L355.5,229.7 L353.5,231.4 L351.5,233.1 L349.5,234.9 L347.5,236.8 L345.5,238.7 L343.5,240.7 L341.5,242.7 L339.5,244.7 L337.5,246.7 L335.5,248.7 L333.5,250.7 L331.5,252.7 L329.5,254.6 L327.5,256.4 L325.5,258.3 L323.5,260.0 L321.5,261.8 L319.5,263.5 L317.5,265.2 L315.5,266.8 L313.5,268.4 L311.5,269.9 L309.5,271.5 L307.5,273.0 L305.5,274.5 L303.5,276.0 L301.5,277.5 L299.5,279.1 L297.5,280.6 L295.5,282.2 L293.5,283.8 L291.5,285.4 L289.5,286.9 L287.5,288.4 L285.5,289.8 L283.5,291.2 L281.5,292.5 L279.5,293.7 L277.5,294.8 L275.5,295.9 L273.5,296.9 L271.5,297.8 L269.5,298.8 L267.5,299.7 L265.5,300.6 L263.5,301.5 L261.5,302.4 L259.5,303.3 L257.5,304.2 L255.5,305.2 L253.5,306.1 L251.5,307.1 L249.5,308.1 L247.5,309.2 L245.5,310.3 L243.5,311.5 L241.5,312.8 L239.5,314.1 L237.5,315.5 L235.5,317.0 L233.5,318.5 L231.5,320.2 L229.5,322.0 L227.5,323.9 L225.5,325.9 L223.5,327.9 L221.5,330.1 L219.5,332.2 L217.5,334.4 L215.5,336.6 L213.5,338.8 L211.5,340.9 L209.5,343.0 L207.5,345.0 L205.5,346.8 L203.5,348.7 L201.5,350.4 L199.5,352.1 L197.5,353.7 L195.5,355.3 L193.5,356.9 L191.5,358.5 L189.5,360.0 L187.5,361.6 L185.5,363.2 L183.5,364.8 L181.5,366.4 L179.5,368.0 L177.5,369.7 L175.5,371.3 L173.5,373.0 L171.5,374.7 L169.5,376.5 L167.5,378.2 L165.5,380.0 L163.5,381.8 L161.5,383.7 L159.5,385.5 L157.5,387.4 L155.5,389.3 L153.5,391.3 L151.5,393.3 L149.5,395.3 L147.5,397.4 L145.5,399.5 L143.5,401.6 L141.5,403.8 L139.5,406.0 L137.5,408.2 L135.5,410.5 L133.5,412.9 L131.5,415.2 L129.5,417.6 L127.5,420.0 L125.5,422.5 L123.5,425.0 L121.5,427.5 L119.5,430.0 L117.5,432.6 L115.5,435.2 L113.5,437.8 L111.5,440.4 L109.5,443.1 L107.5,445.8 L105.5,448.5 L103.5,451.2 L101.5,453.9 L99.5,456.7 L97.5,459.4 L95.5,462.2 L93.5,465.0 L91.5,467.8 L89.5,470.7 L87.5,473.5 L85.5,476.3 L83.5,479.2 L81.5,482.0 L79.5,484.9 L77.5,487.8 L75.5,490.6 L73.5,493.5 L71.5,496.4Z" fill="#fde892"/></g>
<path d="M71.5,466.7 L73.5,463.9 L75.5,461.1 L77.5,458.4 L79.5,455.6 L81.5,452.7 L83.5,449.9 L85.5,447.0 L87.5,444.1 L89.5,441.2 L91.5,438.2 L93.5,435.2 L95.5,432.2 L97.5,429.2 L99.5,426.1 L101.5,423.0 L103.5,420.0 L105.5,416.9 L107.5,413.9 L109.5,410.8 L111.5,407.8 L113.5,404.8 L115.5,401.8 L117.5,398.9 L119.5,396.0 L121.5,393.1 L123.5,390.3 L125.5,387.5 L127.5,384.8 L129.5,382.2 L131.5,379.6 L133.5,377.1 L135.5,374.7 L137.5,372.3 L139.5,369.9 L141.5,367.6 L143.5,365.4 L145.5,363.2 L147.5,361.0 L149.5,358.9 L151.5,356.8 L153.5,354.8 L155.5,352.7 L157.5,350.7 L159.5,348.8 L161.5,346.8 L163.5,344.9 L165.5,343.1 L167.5,341.2 L169.5,339.4 L171.5,337.6 L173.5,335.8 L175.5,334.0 L177.5,332.3 L179.5,330.5 L181.5,328.8 L183.5,327.1 L185.5,325.4 L187.5,323.8 L189.5,322.1 L191.5,320.5 L193.5,318.8 L195.5,317.2 L197.5,315.6 L199.5,314.0 L201.5,312.4 L203.5,310.7 L205.5,309.1 L207.5,307.5 L209.5,305.9 L211.5,304.3 L213.5,302.7 L215.5,301.2 L217.5,299.6 L219.5,298.1 L221.5,296.5 L223.5,295.1 L225.5,293.6 L227.5,292.3 L229.5,290.9 L231.5,289.7 L233.5,288.4 L235.5,287.2 L237.5,286.1 L239.5,285.0 L241.5,283.9 L243.5,282.8 L245.5,281.8 L247.5,280.8 L249.5,279.8 L251.5,278.8 L253.5,277.8 L255.5,276.8 L257.5,275.8 L259.5,274.7 L261.5,273.7 L263.5,272.7 L265.5,271.6 L267.5,270.6 L269.5,269.5 L271.5,268.4 L273.5,267.3 L275.5,266.1 L277.5,264.9 L279.5,263.7 L281.5,262.4 L283.5,261.1 L285.5,259.8 L287.5,258.4 L289.5,257.0 L291.5,255.6 L293.5,254.1 L295.5,252.5 L297.5,251.0 L299.5,249.4 L301.5,247.8 L303.5,246.1 L305.5,244.4 L307.5,242.7 L309.5,241.0 L311.5,239.3 L313.5,237.5 L315.5,235.7 L317.5,233.9 L319.5,232.1 L321.5,230.3 L323.5,228.4 L325.5,226.6 L327.5,224.7 L329.5,222.9 L331.5,221.0 L333.5,219.1 L335.5,217.2 L337.5,215.4 L339.5,213.5 L341.5,211.6 L343.5,209.8 L345.5,208.0 L347.5,206.1 L349.5,204.3 L351.5,202.5 L353.5,200.8 L355.5,199.0 L357.5,197.3 L359.5,195.6 L361.5,194.0 L363.5,192.4 L365.5,190.8 L367.5,189.2 L369.5,187.7 L371.5,186.3 L373.5,184.8 L375.5,183.5 L377.5,182.1 L379.5,180.9 L381.5,179.6 L383.5,178.4 L385.5,177.3 L387.5,176.1 L389.5,175.0 L391.5,173.9 L393.5,172.8 L395.5,171.7 L397.5,170.7 L399.5,169.6 L401.5,168.5 L403.5,167.4 L405.5,166.4 L407.5,165.3 L409.5,164.3 L411.5,163.3 L413.5,162.3 L415.5,161.3 L417.5,160.4 L419.5,159.5 L421.5,158.7 L423.5,157.9 L425.5,157.2 L427.5,156.5 L429.5,155.9 L431.5,155.4 L433.5,154.8 L435.5,154.4 L437.5,154.0 L439.5,153.6 L441.5,153.2 L443.5,152.9 L445.5,152.6 L447.5,152.4 L449.5,152.1 L451.5,151.9 L453.5,151.7 L455.5,151.6 L457.5,151.4 L459.5,151.2 L461.5,151.1 L463.5,150.9 L465.5,150.8 L467.5,150.7 L469.5,150.5 L471.5,150.4 L473.5,150.3 L475.5,150.2 L477.5,150.1 L479.5,150.0 L481.5,149.9 L483.5,149.8 L485.5,149.7 L487.5,149.6 L489.5,149.6 L491.5,149.5 L493.5,149.4 L495.5,149.3 L497.5,149.2 L499.5,149.2 L501.5,149.1 L503.5,149.0 L505.5,148.9 L507.5,148.8 L509.5,148.8 L511.5,148.7 L513.5,148.6 L515.5,148.6 L517.5,148.5 L519.5,148.4 L521.5,148.4 L523.5,148.4 L525.5,148.3 L527.5,148.3 L529.5,148.3 L531.5,148.3 L533.5,148.3 L535.5,148.3 L537.5,148.3 L539.5,148.3 L541.5,148.4 L543.5,148.4 L545.5,148.5 L547.5,148.6 L549.5,148.7 L551.5,148.8 L553.5,149.0 L555.5,149.1 L557.5,149.3 L559.5,149.5 L561.5,149.6 L563.5,149.8 L565.5,150.0 L567.5,150.2 L569.5,150.4 L571.5,150.5 L573.5,150.7 L575.5,150.8 L577.5,151.0 L579.5,151.1 L581.5,151.1 L583.5,151.2 L585.5,151.2 L587.5,151.2 L589.5,151.2 L591.5,151.1 L593.5,151.0 L595.5,150.8 L597.5,150.6 L599.5,150.4 L601.5,150.1 L603.5,149.7 L605.5,149.3 L607.5,148.8 L609.3,148.3" fill="none" stroke="#ee9a78" stroke-width="1"/>
<g opacity="0.93"><path d="M71.5,685.3 L73.5,682.7 L75.5,680.1 L77.5,677.5 L79.5,674.9 L81.5,672.2 L83.5,669.6 L85.5,667.0 L87.5,664.3 L89.5,661.7 L91.5,659.1 L93.5,656.5 L95.5,653.9 L97.5,651.3 L99.5,648.7 L101.5,646.2 L103.5,643.6 L105.5,641.1 L107.5,638.6 L109.5,636.1 L111.5,633.6 L113.5,631.2 L115.5,628.8 L117.5,626.4 L119.5,624.0 L121.5,621.7 L123.5,619.4 L125.5,617.2 L127.5,614.9 L129.5,612.8 L131.5,610.6 L133.5,608.5 L135.5,606.4 L137.5,604.4 L139.5,602.4 L141.5,600.4 L143.5,598.5 L145.5,596.5 L147.5,594.6 L149.5,592.7 L151.5,590.8 L153.5,588.9 L155.5,587.0 L157.5,585.0 L159.5,583.1 L161.5,581.2 L163.5,579.2 L165.5,577.2 L167.5,575.2 L169.5,573.2 L171.5,571.1 L173.5,569.0 L175.5,566.9 L177.5,564.7 L179.5,562.5 L181.5,560.4 L183.5,558.1 L185.5,555.9 L187.5,553.7 L189.5,551.4 L191.5,549.1 L193.5,546.8 L195.5,544.5 L197.5,542.2 L199.5,539.9 L201.5,537.6 L203.5,535.3 L205.5,532.9 L207.5,530.6 L209.5,528.3 L211.5,526.0 L213.5,523.7 L215.5,521.3 L217.5,519.0 L219.5,516.8 L221.5,514.5 L223.5,512.2 L225.5,510.0 L227.5,507.8 L229.5,505.5 L231.5,503.4 L233.5,501.2 L235.5,499.0 L237.5,496.9 L239.5,494.8 L241.5,492.8 L243.5,490.7 L245.5,488.7 L247.5,486.8 L249.5,484.8 L251.5,482.9 L253.5,481.1 L255.5,479.2 L257.5,477.4 L259.5,475.7 L261.5,473.9 L263.5,472.2 L265.5,470.5 L267.5,468.8 L269.5,467.2 L271.5,465.6 L273.5,464.0 L275.5,462.4 L277.5,460.9 L279.5,459.4 L281.5,457.9 L283.5,456.4 L285.5,455.0 L287.5,453.6 L289.5,452.1 L291.5,450.8 L293.5,449.4 L295.5,448.0 L297.5,446.7 L299.5,445.4 L301.5,444.1 L303.5,442.8 L305.5,441.5 L307.5,440.2 L309.5,439.0 L311.5,437.8 L313.5,436.5 L315.5,435.3 L317.5,434.1 L319.5,432.9 L321.5,431.7 L323.5,430.6 L325.5,429.4 L327.5,428.2 L329.5,427.1 L331.5,425.9 L333.5,424.8 L335.5,423.7 L337.5,422.6 L339.5,421.6 L341.5,420.5 L343.5,419.5 L345.5,418.5 L347.5,417.6 L349.5,416.7 L351.5,415.8 L353.5,415.0 L355.5,414.2 L357.5,413.5 L359.5,412.8 L361.5,412.1 L363.5,411.6 L365.5,411.0 L367.5,410.6 L369.5,410.2 L371.5,409.9 L373.5,409.6 L375.5,409.4 L377.5,409.2 L379.5,409.1 L381.5,409.1 L383.5,409.1 L385.5,409.1 L387.5,409.2 L389.5,409.3 L391.5,409.5 L393.5,409.7 L395.5,410.0 L397.5,410.3 L399.5,410.7 L401.5,411.0 L403.5,411.5 L405.5,411.9 L407.5,412.4 L409.5,412.9 L411.5,413.4 L413.5,414.0 L415.5,414.6 L417.5,415.2 L419.5,415.8 L421.5,416.4 L423.5,417.1 L425.5,417.8 L427.5,418.5 L429.5,419.1 L431.5,419.8 L433.5,420.5 L435.5,421.2 L437.5,421.9 L439.5,422.6 L441.5,423.3 L443.5,423.9 L445.5,424.6 L447.5,425.2 L449.5,425.9 L451.5,426.5 L453.5,427.1 L455.5,427.6 L457.5,428.2 L459.5,428.7 L461.5,429.2 L463.5,429.6 L465.5,430.1 L467.5,430.5 L469.5,430.9 L471.5,431.3 L473.5,431.7 L475.5,432.0 L477.5,432.4 L479.5,432.7 L481.5,433.1 L483.5,433.4 L485.5,433.7 L487.5,434.0 L489.5,434.3 L491.5,434.6 L493.5,434.9 L495.5,435.2 L497.5,435.5 L499.5,435.8 L501.5,436.0 L503.5,436.3 L505.5,436.5 L507.5,436.8 L509.5,437.0 L511.5,437.2 L513.5,437.5 L515.5,437.7 L517.5,437.9 L519.5,438.1 L521.5,438.3 L523.5,438.5 L525.5,438.7 L527.5,438.8 L529.5,439.0 L531.5,439.2 L533.5,439.3 L535.5,439.5 L537.5,439.6 L539.5,439.8 L541.5,439.9 L543.5,440.0 L545.5,440.2 L547.5,440.3 L549.5,440.4 L551.5,440.5 L553.5,440.6 L555.5,440.7 L557.5,440.8 L559.5,440.9 L561.5,441.0 L563.5,441.1 L565.5,441.2 L567.5,441.3 L569.5,441.3 L571.5,441.4 L573.5,441.5 L575.5,441.5 L577.5,441.6 L579.5,441.6 L581.5,441.7 L583.5,441.7 L585.5,441.8 L587.5,441.8 L589.5,441.8 L591.5,441.9 L593.5,441.9 L595.5,441.9 L597.5,441.9 L599.5,441.9 L601.5,442.0 L603.5,442.0 L605.5,442.0 L607.5,442.0 L609.3,442.0 L609.3,453.8 L607.5,453.8 L605.5,453.9 L603.5,453.9 L601.5,453.9 L599.5,453.9 L597.5,453.9 L595.5,453.9 L593.5,453.9 L591.5,453.8 L589.5,453.8 L587.5,453.8 L585.5,453.7 L583.5,453.7 L581.5,453.6 L579.5,453.5 L577.5,453.5 L575.5,453.4 L573.5,453.3 L571.5,453.2 L569.5,453.2 L567.5,453.1 L565.5,453.0 L563.5,452.9 L561.5,452.8 L559.5,452.7 L557.5,452.6 L555.5,452.5 L553.5,452.4 L551.5,452.3 L549.5,452.1 L547.5,452.0 L545.5,451.9 L543.5,451.7 L541.5,451.6 L539.5,451.4 L537.5,451.3 L535.5,451.1 L533.5,451.0 L531.5,450.8 L529.5,450.6 L527.5,450.4 L525.5,450.2 L523.5,450.0 L521.5,449.8 L519.5,449.6 L517.5,449.4 L515.5,449.2 L513.5,448.9 L511.5,448.7 L509.5,448.5 L507.5,448.2 L505.5,447.9 L503.5,447.7 L501.5,447.4 L499.5,447.1 L497.5,446.8 L495.5,446.5 L493.5,446.2 L491.5,445.8 L489.5,445.5 L487.5,445.2 L485.5,444.8 L483.5,444.5 L481.5,444.1 L479.5,443.7 L477.5,443.3 L475.5,442.9 L473.5,442.5 L471.5,442.1 L469.5,441.7 L467.5,441.2 L465.5,440.8 L463.5,440.3 L461.5,439.8 L459.5,439.3 L457.5,438.7 L455.5,438.2 L453.5,437.6 L451.5,437.0 L449.5,436.4 L447.5,435.7 L445.5,435.1 L443.5,434.4 L441.5,433.7 L439.5,433.1 L437.5,432.4 L435.5,431.7 L433.5,430.9 L431.5,430.2 L429.5,429.5 L427.5,428.8 L425.5,428.1 L423.5,427.4 L421.5,426.7 L419.5,426.0 L417.5,425.3 L415.5,424.7 L413.5,424.0 L411.5,423.4 L409.5,422.8 L407.5,422.2 L405.5,421.7 L403.5,421.2 L401.5,420.7 L399.5,420.3 L397.5,419.9 L395.5,419.5 L393.5,419.2 L391.5,418.9 L389.5,418.7 L387.5,418.5 L385.5,418.3 L383.5,418.3 L381.5,418.2 L379.5,418.3 L377.5,418.4 L375.5,418.5 L373.5,418.7 L371.5,419.0 L369.5,419.3 L367.5,419.7 L365.5,420.1 L363.5,420.6 L361.5,421.2 L359.5,421.8 L357.5,422.4 L355.5,423.1 L353.5,423.9 L351.5,424.7 L349.5,425.5 L347.5,426.4 L345.5,427.3 L343.5,428.3 L341.5,429.3 L339.5,430.3 L337.5,431.3 L335.5,432.4 L333.5,433.4 L331.5,434.5 L329.5,435.6 L327.5,436.8 L325.5,437.9 L323.5,439.0 L321.5,440.2 L319.5,441.4 L317.5,442.5 L315.5,443.7 L313.5,444.9 L311.5,446.2 L309.5,447.4 L307.5,448.6 L305.5,449.9 L303.5,451.2 L301.5,452.5 L299.5,453.8 L297.5,455.1 L295.5,456.4 L293.5,457.8 L291.5,459.2 L289.5,460.6 L287.5,462.0 L285.5,463.5 L283.5,464.9 L281.5,466.4 L279.5,467.9 L277.5,469.5 L275.5,471.0 L273.5,472.6 L271.5,474.2 L269.5,475.9 L267.5,477.5 L265.5,479.2 L263.5,480.9 L261.5,482.7 L259.5,484.4 L257.5,486.2 L255.5,488.1 L253.5,489.9 L251.5,491.8 L249.5,493.7 L247.5,495.7 L245.5,497.7 L243.5,499.7 L241.5,501.8 L239.5,503.9 L237.5,506.0 L235.5,508.1 L233.5,510.3 L231.5,512.5 L229.5,514.7 L227.5,516.9 L225.5,519.2 L223.5,521.4 L221.5,523.7 L219.5,526.0 L217.5,528.3 L215.5,530.6 L213.5,532.9 L211.5,535.2 L209.5,537.5 L207.5,539.9 L205.5,542.2 L203.5,544.5 L201.5,546.8 L199.5,549.1 L197.5,551.4 L195.5,553.7 L193.5,556.0 L191.5,558.2 L189.5,560.5 L187.5,562.8 L185.5,565.0 L183.5,567.2 L181.5,569.4 L179.5,571.6 L177.5,573.8 L175.5,576.0 L173.5,578.1 L171.5,580.3 L169.5,582.4 L167.5,584.5 L165.5,586.6 L163.5,588.6 L161.5,590.7 L159.5,592.7 L157.5,594.8 L155.5,596.8 L153.5,598.8 L151.5,600.9 L149.5,602.9 L147.5,605.0 L145.5,607.0 L143.5,609.1 L141.5,611.2 L139.5,613.3 L137.5,615.4 L135.5,617.6 L133.5,619.7 L131.5,621.9 L129.5,624.2 L127.5,626.5 L125.5,628.8 L123.5,631.1 L121.5,633.4 L119.5,635.8 L117.5,638.2 L115.5,640.6 L113.5,643.1 L111.5,645.5 L109.5,648.0 L107.5,650.5 L105.5,653.0 L103.5,655.5 L101.5,658.0 L99.5,660.6 L97.5,663.1 L95.5,665.7 L93.5,668.2 L91.5,670.8 L89.5,673.4 L87.5,675.9 L85.5,678.5 L83.5,681.0 L81.5,683.6 L79.5,686.1 L77.5,688.7 L75.5,691.2 L73.5,693.7 L71.5,696.2Z" fill="#fde892"/><path d="M71.5,695.8 L73.5,693.3 L75.5,690.8 L77.5,688.3 L79.5,685.7 L81.5,683.2 L83.5,680.6 L85.5,678.1 L87.5,675.5 L89.5,673.0 L91.5,670.4 L93.5,667.8 L95.5,665.3 L97.5,662.7 L99.5,660.2 L101.5,657.6 L103.5,655.1 L105.5,652.6 L107.5,650.1 L109.5,647.6 L111.5,645.1 L113.5,642.7 L115.5,640.2 L117.5,637.8 L119.5,635.4 L121.5,633.0 L123.5,630.7 L125.5,628.4 L127.5,626.1 L129.5,623.8 L131.5,621.5 L133.5,619.3 L135.5,617.2 L137.5,615.0 L139.5,612.9 L141.5,610.8 L143.5,608.7 L145.5,606.6 L147.5,604.6 L149.5,602.5 L151.5,600.5 L153.5,598.4 L155.5,596.4 L157.5,594.4 L159.5,592.3 L161.5,590.3 L163.5,588.2 L165.5,586.2 L167.5,584.1 L169.5,582.0 L171.5,579.9 L173.5,577.7 L175.5,575.6 L177.5,573.4 L179.5,571.2 L181.5,569.0 L183.5,566.8 L185.5,564.6 L187.5,562.4 L189.5,560.1 L191.5,557.8 L193.5,555.6 L195.5,553.3 L197.5,551.0 L199.5,548.7 L201.5,546.4 L203.5,544.1 L205.5,541.8 L207.5,539.5 L209.5,537.1 L211.5,534.8 L213.5,532.5 L215.5,530.2 L217.5,527.9 L219.5,525.6 L221.5,523.3 L223.5,521.0 L225.5,518.8 L227.5,516.5 L229.5,514.3 L231.5,512.1 L233.5,509.9 L235.5,507.7 L237.5,505.6 L239.5,503.5 L241.5,501.4 L243.5,499.3 L245.5,497.3 L247.5,495.3 L249.5,493.3 L251.5,491.4 L253.5,489.5 L255.5,487.7 L257.5,485.8 L259.5,484.0 L261.5,482.3 L263.5,480.5 L265.5,478.8 L267.5,477.1 L269.5,475.5 L271.5,473.8 L273.5,472.2 L275.5,470.6 L277.5,469.1 L279.5,467.5 L281.5,466.0 L283.5,464.5 L285.5,463.1 L287.5,461.6 L289.5,460.2 L291.5,458.8 L293.5,457.4 L295.5,456.0 L297.5,454.7 L299.5,453.4 L301.5,452.1 L303.5,450.8 L305.5,449.5 L307.5,448.2 L309.5,447.0 L311.5,445.8 L313.5,444.5 L315.5,443.3 L317.5,442.1 L319.5,441.0 L321.5,439.8 L323.5,438.6 L325.5,437.5 L327.5,436.4 L329.5,435.2 L331.5,434.1 L333.5,433.0 L335.5,432.0 L337.5,430.9 L339.5,429.9 L341.5,428.9 L343.5,427.9 L345.5,426.9 L347.5,426.0 L349.5,425.1 L351.5,424.3 L353.5,423.5 L355.5,422.7 L357.5,422.0 L359.5,421.4 L361.5,420.8 L363.5,420.2 L365.5,419.7 L367.5,419.3 L369.5,418.9 L371.5,418.6 L373.5,418.3 L375.5,418.1 L377.5,418.0 L379.5,417.9 L381.5,417.8 L383.5,417.9 L385.5,417.9 L387.5,418.1 L389.5,418.3 L391.5,418.5 L393.5,418.8 L395.5,419.1 L397.5,419.5 L399.5,419.9 L401.5,420.3 L403.5,420.8 L405.5,421.3 L407.5,421.8 L409.5,422.4 L411.5,423.0 L413.5,423.6 L415.5,424.3 L417.5,424.9 L419.5,425.6 L421.5,426.3 L423.5,427.0 L425.5,427.7 L427.5,428.4 L429.5,429.1 L431.5,429.8 L433.5,430.5 L435.5,431.3 L437.5,432.0 L439.5,432.7 L441.5,433.3 L443.5,434.0 L445.5,434.7 L447.5,435.3 L449.5,436.0 L451.5,436.6 L453.5,437.2 L455.5,437.8 L457.5,438.3 L459.5,438.9 L461.5,439.4 L463.5,439.9 L465.5,440.4 L467.5,440.8 L469.5,441.3 L471.5,441.7 L473.5,442.1 L475.5,442.5 L477.5,442.9 L479.5,443.3 L481.5,443.7 L483.5,444.1 L485.5,444.4 L487.5,444.8 L489.5,445.1 L491.5,445.4 L493.5,445.8 L495.5,446.1 L497.5,446.4 L499.5,446.7 L501.5,447.0 L503.5,447.3 L505.5,447.5 L507.5,447.8 L509.5,448.1 L511.5,448.3 L513.5,448.5 L515.5,448.8 L517.5,449.0 L519.5,449.2 L521.5,449.4 L523.5,449.6 L525.5,449.8 L527.5,450.0 L529.5,450.2 L531.5,450.4 L533.5,450.6 L535.5,450.7 L537.5,450.9 L539.5,451.0 L541.5,451.2 L543.5,451.3 L545.5,451.5 L547.5,451.6 L549.5,451.7 L551.5,451.9 L553.5,452.0 L555.5,452.1 L557.5,452.2 L559.5,452.3 L561.5,452.4 L563.5,452.5 L565.5,452.6 L567.5,452.7 L569.5,452.8 L571.5,452.8 L573.5,452.9 L575.5,453.0 L577.5,453.1 L579.5,453.1 L581.5,453.2 L583.5,453.3 L585.5,453.3 L587.5,453.4 L589.5,453.4 L591.5,453.4 L593.5,453.5 L595.5,453.5 L597.5,453.5 L599.5,453.5 L601.5,453.5 L603.5,453.5 L605.5,453.5 L607.5,453.4 L609.3,453.4 L609.3,465.2 L607.5,465.3 L605.5,465.4 L603.5,465.4 L601.5,465.5 L599.5,465.5 L597.5,465.5 L595.5,465.5 L593.5,465.5 L591.5,465.4 L589.5,465.4 L587.5,465.3 L585.5,465.3 L583.5,465.2 L581.5,465.1 L579.5,465.0 L577.5,465.0 L575.5,464.9 L573.5,464.8 L571.5,464.7 L569.5,464.6 L567.5,464.5 L565.5,464.4 L563.5,464.3 L561.5,464.2 L559.5,464.1 L557.5,464.0 L555.5,463.8 L553.5,463.7 L551.5,463.6 L549.5,463.5 L547.5,463.3 L545.5,463.2 L543.5,463.0 L541.5,462.9 L539.5,462.7 L537.5,462.6 L535.5,462.4 L533.5,462.2 L531.5,462.0 L529.5,461.8 L527.5,461.6 L525.5,461.4 L523.5,461.2 L521.5,461.0 L519.5,460.8 L517.5,460.5 L515.5,460.3 L513.5,460.0 L511.5,459.8 L509.5,459.5 L507.5,459.2 L505.5,458.9 L503.5,458.6 L501.5,458.3 L499.5,458.0 L497.5,457.7 L495.5,457.4 L493.5,457.0 L491.5,456.7 L489.5,456.3 L487.5,455.9 L485.5,455.5 L483.5,455.1 L481.5,454.7 L479.5,454.3 L477.5,453.9 L475.5,453.5 L473.5,453.0 L471.5,452.6 L469.5,452.1 L467.5,451.6 L465.5,451.1 L463.5,450.6 L461.5,450.0 L459.5,449.5 L457.5,448.9 L455.5,448.4 L453.5,447.8 L451.5,447.1 L449.5,446.5 L447.5,445.8 L445.5,445.2 L443.5,444.5 L441.5,443.8 L439.5,443.1 L437.5,442.4 L435.5,441.7 L433.5,441.0 L431.5,440.2 L429.5,439.5 L427.5,438.8 L425.5,438.0 L423.5,437.3 L421.5,436.5 L419.5,435.8 L417.5,435.1 L415.5,434.4 L413.5,433.7 L411.5,433.0 L409.5,432.3 L407.5,431.7 L405.5,431.1 L403.5,430.5 L401.5,430.0 L399.5,429.5 L397.5,429.0 L395.5,428.6 L393.5,428.2 L391.5,427.9 L389.5,427.6 L387.5,427.4 L385.5,427.2 L383.5,427.1 L381.5,427.0 L379.5,427.0 L377.5,427.1 L375.5,427.2 L373.5,427.4 L371.5,427.7 L369.5,428.0 L367.5,428.3 L365.5,428.8 L363.5,429.2 L361.5,429.8 L359.5,430.4 L357.5,431.0 L355.5,431.7 L353.5,432.4 L351.5,433.2 L349.5,434.0 L347.5,434.9 L345.5,435.7 L343.5,436.7 L341.5,437.6 L339.5,438.6 L337.5,439.6 L335.5,440.6 L333.5,441.7 L331.5,442.7 L329.5,443.8 L327.5,444.9 L325.5,446.0 L323.5,447.1 L321.5,448.3 L319.5,449.4 L317.5,450.6 L315.5,451.8 L313.5,452.9 L311.5,454.2 L309.5,455.4 L307.5,456.6 L305.5,457.9 L303.5,459.2 L301.5,460.5 L299.5,461.8 L297.5,463.1 L295.5,464.5 L293.5,465.8 L291.5,467.2 L289.5,468.7 L287.5,470.1 L285.5,471.6 L283.5,473.0 L281.5,474.5 L279.5,476.1 L277.5,477.6 L275.5,479.2 L273.5,480.8 L271.5,482.4 L269.5,484.1 L267.5,485.8 L265.5,487.5 L263.5,489.2 L261.5,491.0 L259.5,492.8 L257.5,494.6 L255.5,496.5 L253.5,498.4 L251.5,500.3 L249.5,502.2 L247.5,504.2 L245.5,506.2 L243.5,508.3 L241.5,510.4 L239.5,512.5 L237.5,514.6 L235.5,516.8 L233.5,519.0 L231.5,521.2 L229.5,523.4 L227.5,525.7 L225.5,527.9 L223.5,530.2 L221.5,532.5 L219.5,534.8 L217.5,537.1 L215.5,539.4 L213.5,541.8 L211.5,544.1 L209.5,546.4 L207.5,548.7 L205.5,551.0 L203.5,553.3 L201.5,555.6 L199.5,557.9 L197.5,560.2 L195.5,562.5 L193.5,564.7 L191.5,567.0 L189.5,569.2 L187.5,571.5 L185.5,573.7 L183.5,575.9 L181.5,578.1 L179.5,580.3 L177.5,582.5 L175.5,584.7 L173.5,586.8 L171.5,589.0 L169.5,591.2 L167.5,593.3 L165.5,595.5 L163.5,597.6 L161.5,599.8 L159.5,601.9 L157.5,604.1 L155.5,606.2 L153.5,608.4 L151.5,610.6 L149.5,612.7 L147.5,614.9 L145.5,617.1 L143.5,619.3 L141.5,621.5 L139.5,623.8 L137.5,626.0 L135.5,628.3 L133.5,630.6 L131.5,632.9 L129.5,635.2 L127.5,637.6 L125.5,639.9 L123.5,642.3 L121.5,644.7 L119.5,647.2 L117.5,649.6 L115.5,652.1 L113.5,654.5 L111.5,657.0 L109.5,659.5 L107.5,662.0 L105.5,664.5 L103.5,667.0 L101.5,669.5 L99.5,672.0 L97.5,674.5 L95.5,677.1 L93.5,679.6 L91.5,682.1 L89.5,684.6 L87.5,687.1 L85.5,689.6 L83.5,692.1 L81.5,694.6 L79.5,697.0 L77.5,699.5 L75.5,701.9 L73.5,704.4 L71.5,706.8Z" fill="#fddf93"/><path d="M71.5,706.4 L73.5,704.0 L75.5,701.5 L77.5,699.1 L79.5,696.6 L81.5,694.2 L83.5,691.7 L85.5,689.2 L87.5,686.7 L89.5,684.2 L91.5,681.7 L93.5,679.2 L95.5,676.7 L97.5,674.1 L99.5,671.6 L101.5,669.1 L103.5,666.6 L105.5,664.1 L107.5,661.6 L109.5,659.1 L111.5,656.6 L113.5,654.1 L115.5,651.7 L117.5,649.2 L119.5,646.8 L121.5,644.3 L123.5,641.9 L125.5,639.5 L127.5,637.2 L129.5,634.8 L131.5,632.5 L133.5,630.2 L135.5,627.9 L137.5,625.6 L139.5,623.4 L141.5,621.1 L143.5,618.9 L145.5,616.7 L147.5,614.5 L149.5,612.3 L151.5,610.2 L153.5,608.0 L155.5,605.8 L157.5,603.7 L159.5,601.5 L161.5,599.4 L163.5,597.2 L165.5,595.1 L167.5,592.9 L169.5,590.8 L171.5,588.6 L173.5,586.4 L175.5,584.3 L177.5,582.1 L179.5,579.9 L181.5,577.7 L183.5,575.5 L185.5,573.3 L187.5,571.1 L189.5,568.8 L191.5,566.6 L193.5,564.3 L195.5,562.1 L197.5,559.8 L199.5,557.5 L201.5,555.2 L203.5,552.9 L205.5,550.6 L207.5,548.3 L209.5,546.0 L211.5,543.7 L213.5,541.4 L215.5,539.0 L217.5,536.7 L219.5,534.4 L221.5,532.1 L223.5,529.8 L225.5,527.5 L227.5,525.3 L229.5,523.0 L231.5,520.8 L233.5,518.6 L235.5,516.4 L237.5,514.2 L239.5,512.1 L241.5,510.0 L243.5,507.9 L245.5,505.8 L247.5,503.8 L249.5,501.8 L251.5,499.9 L253.5,498.0 L255.5,496.1 L257.5,494.2 L259.5,492.4 L261.5,490.6 L263.5,488.8 L265.5,487.1 L267.5,485.4 L269.5,483.7 L271.5,482.0 L273.5,480.4 L275.5,478.8 L277.5,477.2 L279.5,475.7 L281.5,474.1 L283.5,472.6 L285.5,471.2 L287.5,469.7 L289.5,468.3 L291.5,466.8 L293.5,465.4 L295.5,464.1 L297.5,462.7 L299.5,461.4 L301.5,460.1 L303.5,458.8 L305.5,457.5 L307.5,456.2 L309.5,455.0 L311.5,453.8 L313.5,452.5 L315.5,451.4 L317.5,450.2 L319.5,449.0 L321.5,447.9 L323.5,446.7 L325.5,445.6 L327.5,444.5 L329.5,443.4 L331.5,442.3 L333.5,441.3 L335.5,440.2 L337.5,439.2 L339.5,438.2 L341.5,437.2 L343.5,436.3 L345.5,435.3 L347.5,434.5 L349.5,433.6 L351.5,432.8 L353.5,432.0 L355.5,431.3 L357.5,430.6 L359.5,430.0 L361.5,429.4 L363.5,428.8 L365.5,428.4 L367.5,427.9 L369.5,427.6 L371.5,427.3 L373.5,427.0 L375.5,426.8 L377.5,426.7 L379.5,426.6 L381.5,426.6 L383.5,426.7 L385.5,426.8 L387.5,427.0 L389.5,427.2 L391.5,427.5 L393.5,427.8 L395.5,428.2 L397.5,428.6 L399.5,429.1 L401.5,429.6 L403.5,430.1 L405.5,430.7 L407.5,431.3 L409.5,431.9 L411.5,432.6 L413.5,433.3 L415.5,434.0 L417.5,434.7 L419.5,435.4 L421.5,436.1 L423.5,436.9 L425.5,437.6 L427.5,438.4 L429.5,439.1 L431.5,439.8 L433.5,440.6 L435.5,441.3 L437.5,442.0 L439.5,442.7 L441.5,443.4 L443.5,444.1 L445.5,444.8 L447.5,445.4 L449.5,446.1 L451.5,446.7 L453.5,447.4 L455.5,448.0 L457.5,448.5 L459.5,449.1 L461.5,449.6 L463.5,450.2 L465.5,450.7 L467.5,451.2 L469.5,451.7 L471.5,452.2 L473.5,452.6 L475.5,453.1 L477.5,453.5 L479.5,453.9 L481.5,454.3 L483.5,454.7 L485.5,455.1 L487.5,455.5 L489.5,455.9 L491.5,456.3 L493.5,456.6 L495.5,457.0 L497.5,457.3 L499.5,457.6 L501.5,457.9 L503.5,458.2 L505.5,458.5 L507.5,458.8 L509.5,459.1 L511.5,459.4 L513.5,459.6 L515.5,459.9 L517.5,460.1 L519.5,460.4 L521.5,460.6 L523.5,460.8 L525.5,461.0 L527.5,461.2 L529.5,461.4 L531.5,461.6 L533.5,461.8 L535.5,462.0 L537.5,462.2 L539.5,462.3 L541.5,462.5 L543.5,462.6 L545.5,462.8 L547.5,462.9 L549.5,463.1 L551.5,463.2 L553.5,463.3 L555.5,463.4 L557.5,463.6 L559.5,463.7 L561.5,463.8 L563.5,463.9 L565.5,464.0 L567.5,464.1 L569.5,464.2 L571.5,464.3 L573.5,464.4 L575.5,464.5 L577.5,464.6 L579.5,464.6 L581.5,464.7 L583.5,464.8 L585.5,464.9 L587.5,464.9 L589.5,465.0 L591.5,465.0 L593.5,465.1 L595.5,465.1 L597.5,465.1 L599.5,465.1 L601.5,465.1 L603.5,465.0 L605.5,465.0 L607.5,464.9 L609.3,464.8 L609.3,476.6 L607.5,476.7 L605.5,476.9 L603.5,477.0 L601.5,477.0 L599.5,477.1 L597.5,477.1 L595.5,477.1 L593.5,477.1 L591.5,477.0 L589.5,477.0 L587.5,476.9 L585.5,476.8 L583.5,476.7 L581.5,476.6 L579.5,476.5 L577.5,476.4 L575.5,476.3 L573.5,476.2 L571.5,476.1 L569.5,476.0 L567.5,475.9 L565.5,475.8 L563.5,475.7 L561.5,475.6 L559.5,475.5 L557.5,475.3 L555.5,475.2 L553.5,475.1 L551.5,474.9 L549.5,474.8 L547.5,474.6 L545.5,474.5 L543.5,474.3 L541.5,474.2 L539.5,474.0 L537.5,473.8 L535.5,473.6 L533.5,473.4 L531.5,473.3 L529.5,473.0 L527.5,472.8 L525.5,472.6 L523.5,472.4 L521.5,472.2 L519.5,471.9 L517.5,471.7 L515.5,471.4 L513.5,471.1 L511.5,470.8 L509.5,470.5 L507.5,470.2 L505.5,469.9 L503.5,469.6 L501.5,469.3 L499.5,468.9 L497.5,468.6 L495.5,468.2 L493.5,467.8 L491.5,467.5 L489.5,467.1 L487.5,466.6 L485.5,466.2 L483.5,465.8 L481.5,465.4 L479.5,464.9 L477.5,464.4 L475.5,464.0 L473.5,463.5 L471.5,463.0 L469.5,462.5 L467.5,461.9 L465.5,461.4 L463.5,460.9 L461.5,460.3 L459.5,459.7 L457.5,459.1 L455.5,458.5 L453.5,457.9 L451.5,457.3 L449.5,456.6 L447.5,455.9 L445.5,455.3 L443.5,454.6 L441.5,453.9 L439.5,453.2 L437.5,452.4 L435.5,451.7 L433.5,451.0 L431.5,450.2 L429.5,449.5 L427.5,448.7 L425.5,447.9 L423.5,447.2 L421.5,446.4 L419.5,445.6 L417.5,444.8 L415.5,444.1 L413.5,443.3 L411.5,442.6 L409.5,441.9 L407.5,441.2 L405.5,440.5 L403.5,439.9 L401.5,439.3 L399.5,438.7 L397.5,438.2 L395.5,437.7 L393.5,437.2 L391.5,436.9 L389.5,436.5 L387.5,436.3 L385.5,436.0 L383.5,435.9 L381.5,435.8 L379.5,435.8 L377.5,435.8 L375.5,435.9 L373.5,436.1 L371.5,436.4 L369.5,436.6 L367.5,437.0 L365.5,437.4 L363.5,437.9 L361.5,438.4 L359.5,439.0 L357.5,439.6 L355.5,440.2 L353.5,440.9 L351.5,441.7 L349.5,442.5 L347.5,443.3 L345.5,444.1 L343.5,445.0 L341.5,446.0 L339.5,446.9 L337.5,447.9 L335.5,448.9 L333.5,449.9 L331.5,450.9 L329.5,452.0 L327.5,453.0 L325.5,454.1 L323.5,455.2 L321.5,456.3 L319.5,457.5 L317.5,458.6 L315.5,459.8 L313.5,461.0 L311.5,462.2 L309.5,463.4 L307.5,464.6 L305.5,465.9 L303.5,467.2 L301.5,468.5 L299.5,469.8 L297.5,471.1 L295.5,472.5 L293.5,473.9 L291.5,475.3 L289.5,476.7 L287.5,478.2 L285.5,479.6 L283.5,481.1 L281.5,482.7 L279.5,484.2 L277.5,485.8 L275.5,487.4 L273.5,489.0 L271.5,490.7 L269.5,492.4 L267.5,494.1 L265.5,495.8 L263.5,497.6 L261.5,499.3 L259.5,501.2 L257.5,503.0 L255.5,504.9 L253.5,506.8 L251.5,508.8 L249.5,510.7 L247.5,512.7 L245.5,514.8 L243.5,516.9 L241.5,519.0 L239.5,521.1 L237.5,523.3 L235.5,525.5 L233.5,527.7 L231.5,529.9 L229.5,532.2 L227.5,534.4 L225.5,536.7 L223.5,539.0 L221.5,541.3 L219.5,543.6 L217.5,546.0 L215.5,548.3 L213.5,550.6 L211.5,552.9 L209.5,555.3 L207.5,557.6 L205.5,559.9 L203.5,562.2 L201.5,564.5 L199.5,566.7 L197.5,569.0 L195.5,571.3 L193.5,573.5 L191.5,575.7 L189.5,577.9 L187.5,580.1 L185.5,582.4 L183.5,584.6 L181.5,586.8 L179.5,589.0 L177.5,591.1 L175.5,593.3 L173.5,595.5 L171.5,597.8 L169.5,600.0 L167.5,602.2 L165.5,604.4 L163.5,606.6 L161.5,608.9 L159.5,611.1 L157.5,613.4 L155.5,615.7 L153.5,618.0 L151.5,620.2 L149.5,622.5 L147.5,624.9 L145.5,627.2 L143.5,629.5 L141.5,631.9 L139.5,634.2 L137.5,636.6 L135.5,639.0 L133.5,641.4 L131.5,643.8 L129.5,646.2 L127.5,648.7 L125.5,651.1 L123.5,653.6 L121.5,656.0 L119.5,658.5 L117.5,661.0 L115.5,663.5 L113.5,666.0 L111.5,668.5 L109.5,671.0 L107.5,673.5 L105.5,676.0 L103.5,678.5 L101.5,681.0 L99.5,683.5 L97.5,686.0 L95.5,688.4 L93.5,690.9 L91.5,693.4 L89.5,695.8 L87.5,698.3 L85.5,700.7 L83.5,703.1 L81.5,705.5 L79.5,707.9 L77.5,710.3 L75.5,712.7 L73.5,715.0 L71.5,717.3Z" fill="#fdd693"/><path d="M71.5,716.9 L73.5,714.6 L75.5,712.3 L77.5,709.9 L79.5,707.5 L81.5,705.1 L83.5,702.7 L85.5,700.3 L87.5,697.9 L89.5,695.4 L91.5,693.0 L93.5,690.5 L95.5,688.0 L97.5,685.6 L99.5,683.1 L101.5,680.6 L103.5,678.1 L105.5,675.6 L107.5,673.1 L109.5,670.6 L111.5,668.1 L113.5,665.6 L115.5,663.1 L117.5,660.6 L119.5,658.1 L121.5,655.6 L123.5,653.2 L125.5,650.7 L127.5,648.3 L129.5,645.8 L131.5,643.4 L133.5,641.0 L135.5,638.6 L137.5,636.2 L139.5,633.8 L141.5,631.5 L143.5,629.1 L145.5,626.8 L147.5,624.5 L149.5,622.1 L151.5,619.8 L153.5,617.6 L155.5,615.3 L157.5,613.0 L159.5,610.7 L161.5,608.5 L163.5,606.2 L165.5,604.0 L167.5,601.8 L169.5,599.6 L171.5,597.4 L173.5,595.1 L175.5,592.9 L177.5,590.7 L179.5,588.6 L181.5,586.4 L183.5,584.2 L185.5,582.0 L187.5,579.7 L189.5,577.5 L191.5,575.3 L193.5,573.1 L195.5,570.9 L197.5,568.6 L199.5,566.3 L201.5,564.1 L203.5,561.8 L205.5,559.5 L207.5,557.2 L209.5,554.9 L211.5,552.5 L213.5,550.2 L215.5,547.9 L217.5,545.6 L219.5,543.2 L221.5,540.9 L223.5,538.6 L225.5,536.3 L227.5,534.0 L229.5,531.8 L231.5,529.5 L233.5,527.3 L235.5,525.1 L237.5,522.9 L239.5,520.7 L241.5,518.6 L243.5,516.5 L245.5,514.4 L247.5,512.3 L249.5,510.3 L251.5,508.4 L253.5,506.4 L255.5,504.5 L257.5,502.6 L259.5,500.8 L261.5,498.9 L263.5,497.2 L265.5,495.4 L267.5,493.7 L269.5,492.0 L271.5,490.3 L273.5,488.6 L275.5,487.0 L277.5,485.4 L279.5,483.8 L281.5,482.3 L283.5,480.7 L285.5,479.2 L287.5,477.8 L289.5,476.3 L291.5,474.9 L293.5,473.5 L295.5,472.1 L297.5,470.7 L299.5,469.4 L301.5,468.1 L303.5,466.8 L305.5,465.5 L307.5,464.2 L309.5,463.0 L311.5,461.8 L313.5,460.6 L315.5,459.4 L317.5,458.2 L319.5,457.1 L321.5,455.9 L323.5,454.8 L325.5,453.7 L327.5,452.6 L329.5,451.6 L331.5,450.5 L333.5,449.5 L335.5,448.5 L337.5,447.5 L339.5,446.5 L341.5,445.6 L343.5,444.6 L345.5,443.7 L347.5,442.9 L349.5,442.1 L351.5,441.3 L353.5,440.5 L355.5,439.8 L357.5,439.2 L359.5,438.6 L361.5,438.0 L363.5,437.5 L365.5,437.0 L367.5,436.6 L369.5,436.2 L371.5,436.0 L373.5,435.7 L375.5,435.5 L377.5,435.4 L379.5,435.4 L381.5,435.4 L383.5,435.5 L385.5,435.6 L387.5,435.9 L389.5,436.1 L391.5,436.5 L393.5,436.8 L395.5,437.3 L397.5,437.8 L399.5,438.3 L401.5,438.9 L403.5,439.5 L405.5,440.1 L407.5,440.8 L409.5,441.5 L411.5,442.2 L413.5,442.9 L415.5,443.7 L417.5,444.4 L419.5,445.2 L421.5,446.0 L423.5,446.8 L425.5,447.5 L427.5,448.3 L429.5,449.1 L431.5,449.8 L433.5,450.6 L435.5,451.3 L437.5,452.0 L439.5,452.8 L441.5,453.5 L443.5,454.2 L445.5,454.9 L447.5,455.5 L449.5,456.2 L451.5,456.9 L453.5,457.5 L455.5,458.1 L457.5,458.7 L459.5,459.3 L461.5,459.9 L463.5,460.5 L465.5,461.0 L467.5,461.5 L469.5,462.1 L471.5,462.6 L473.5,463.1 L475.5,463.6 L477.5,464.0 L479.5,464.5 L481.5,465.0 L483.5,465.4 L485.5,465.8 L487.5,466.2 L489.5,466.7 L491.5,467.1 L493.5,467.4 L495.5,467.8 L497.5,468.2 L499.5,468.5 L501.5,468.9 L503.5,469.2 L505.5,469.5 L507.5,469.8 L509.5,470.1 L511.5,470.4 L513.5,470.7 L515.5,471.0 L517.5,471.3 L519.5,471.5 L521.5,471.8 L523.5,472.0 L525.5,472.2 L527.5,472.4 L529.5,472.6 L531.5,472.9 L533.5,473.0 L535.5,473.2 L537.5,473.4 L539.5,473.6 L541.5,473.8 L543.5,473.9 L545.5,474.1 L547.5,474.2 L549.5,474.4 L551.5,474.5 L553.5,474.7 L555.5,474.8 L557.5,474.9 L559.5,475.1 L561.5,475.2 L563.5,475.3 L565.5,475.4 L567.5,475.5 L569.5,475.6 L571.5,475.7 L573.5,475.8 L575.5,475.9 L577.5,476.0 L579.5,476.1 L581.5,476.2 L583.5,476.3 L585.5,476.4 L587.5,476.5 L589.5,476.6 L591.5,476.6 L593.5,476.7 L595.5,476.7 L597.5,476.7 L599.5,476.7 L601.5,476.6 L603.5,476.6 L605.5,476.5 L607.5,476.3 L609.3,476.2 L609.3,488.0 L607.5,488.2 L605.5,488.4 L603.5,488.5 L601.5,488.6 L599.5,488.7 L597.5,488.7 L595.5,488.7 L593.5,488.7 L591.5,488.6 L589.5,488.5 L587.5,488.5 L585.5,488.4 L583.5,488.3 L581.5,488.2 L579.5,488.0 L577.5,487.9 L575.5,487.8 L573.5,487.7 L571.5,487.6 L569.5,487.5 L567.5,487.3 L565.5,487.2 L563.5,487.1 L561.5,487.0 L559.5,486.8 L557.5,486.7 L555.5,486.6 L553.5,486.4 L551.5,486.3 L549.5,486.1 L547.5,486.0 L545.5,485.8 L543.5,485.6 L541.5,485.5 L539.5,485.3 L537.5,485.1 L535.5,484.9 L533.5,484.7 L531.5,484.5 L529.5,484.3 L527.5,484.0 L525.5,483.8 L523.5,483.6 L521.5,483.3 L519.5,483.1 L517.5,482.8 L515.5,482.5 L513.5,482.2 L511.5,481.9 L509.5,481.6 L507.5,481.3 L505.5,480.9 L503.5,480.6 L501.5,480.2 L499.5,479.9 L497.5,479.5 L495.5,479.1 L493.5,478.7 L491.5,478.3 L489.5,477.8 L487.5,477.4 L485.5,476.9 L483.5,476.5 L481.5,476.0 L479.5,475.5 L477.5,475.0 L475.5,474.5 L473.5,473.9 L471.5,473.4 L469.5,472.9 L467.5,472.3 L465.5,471.7 L463.5,471.1 L461.5,470.5 L459.5,469.9 L457.5,469.3 L455.5,468.7 L453.5,468.0 L451.5,467.4 L449.5,466.7 L447.5,466.0 L445.5,465.4 L443.5,464.7 L441.5,463.9 L439.5,463.2 L437.5,462.5 L435.5,461.7 L433.5,461.0 L431.5,460.2 L429.5,459.5 L427.5,458.7 L425.5,457.9 L423.5,457.1 L421.5,456.2 L419.5,455.4 L417.5,454.6 L415.5,453.8 L413.5,453.0 L411.5,452.2 L409.5,451.4 L407.5,450.6 L405.5,449.9 L403.5,449.2 L401.5,448.5 L399.5,447.9 L397.5,447.3 L395.5,446.8 L393.5,446.3 L391.5,445.8 L389.5,445.5 L387.5,445.1 L385.5,444.9 L383.5,444.7 L381.5,444.6 L379.5,444.5 L377.5,444.6 L375.5,444.7 L373.5,444.8 L371.5,445.0 L369.5,445.3 L367.5,445.7 L365.5,446.1 L363.5,446.5 L361.5,447.0 L359.5,447.5 L357.5,448.1 L355.5,448.8 L353.5,449.5 L351.5,450.2 L349.5,450.9 L347.5,451.7 L345.5,452.6 L343.5,453.4 L341.5,454.3 L339.5,455.2 L337.5,456.2 L335.5,457.1 L333.5,458.1 L331.5,459.1 L329.5,460.1 L327.5,461.2 L325.5,462.2 L323.5,463.3 L321.5,464.4 L319.5,465.5 L317.5,466.6 L315.5,467.8 L313.5,469.0 L311.5,470.2 L309.5,471.4 L307.5,472.6 L305.5,473.9 L303.5,475.1 L301.5,476.5 L299.5,477.8 L297.5,479.1 L295.5,480.5 L293.5,481.9 L291.5,483.3 L289.5,484.8 L287.5,486.2 L285.5,487.7 L283.5,489.2 L281.5,490.8 L279.5,492.4 L277.5,494.0 L275.5,495.6 L273.5,497.2 L271.5,498.9 L269.5,500.6 L267.5,502.3 L265.5,504.1 L263.5,505.9 L261.5,507.7 L259.5,509.5 L257.5,511.4 L255.5,513.3 L253.5,515.3 L251.5,517.2 L249.5,519.2 L247.5,521.3 L245.5,523.3 L243.5,525.4 L241.5,527.6 L239.5,529.7 L237.5,531.9 L235.5,534.1 L233.5,536.4 L231.5,538.6 L229.5,540.9 L227.5,543.2 L225.5,545.5 L223.5,547.8 L221.5,550.1 L219.5,552.5 L217.5,554.8 L215.5,557.1 L213.5,559.5 L211.5,561.8 L209.5,564.1 L207.5,566.4 L205.5,568.7 L203.5,571.0 L201.5,573.3 L199.5,575.6 L197.5,577.8 L195.5,580.0 L193.5,582.3 L191.5,584.5 L189.5,586.7 L187.5,588.8 L185.5,591.0 L183.5,593.2 L181.5,595.4 L179.5,597.6 L177.5,599.8 L175.5,602.0 L173.5,604.3 L171.5,606.5 L169.5,608.8 L167.5,611.0 L165.5,613.3 L163.5,615.6 L161.5,618.0 L159.5,620.3 L157.5,622.7 L155.5,625.1 L153.5,627.5 L151.5,629.9 L149.5,632.4 L147.5,634.8 L145.5,637.3 L143.5,639.7 L141.5,642.2 L139.5,644.7 L137.5,647.2 L135.5,649.7 L133.5,652.2 L131.5,654.7 L129.5,657.3 L127.5,659.8 L125.5,662.3 L123.5,664.8 L121.5,667.4 L119.5,669.9 L117.5,672.4 L115.5,674.9 L113.5,677.5 L111.5,680.0 L109.5,682.5 L107.5,685.0 L105.5,687.5 L103.5,690.0 L101.5,692.4 L99.5,694.9 L97.5,697.4 L95.5,699.8 L93.5,702.2 L91.5,704.7 L89.5,707.1 L87.5,709.4 L85.5,711.8 L83.5,714.2 L81.5,716.5 L79.5,718.8 L77.5,721.1 L75.5,723.4 L73.5,725.6 L71.5,727.8Z" fill="#fccc94"/><path d="M71.5,727.4 L73.5,725.2 L75.5,723.0 L77.5,720.7 L79.5,718.4 L81.5,716.1 L83.5,713.8 L85.5,711.4 L87.5,709.0 L89.5,706.7 L91.5,704.3 L93.5,701.8 L95.5,699.4 L97.5,697.0 L99.5,694.5 L101.5,692.0 L103.5,689.6 L105.5,687.1 L107.5,684.6 L109.5,682.1 L111.5,679.6 L113.5,677.1 L115.5,674.5 L117.5,672.0 L119.5,669.5 L121.5,667.0 L123.5,664.4 L125.5,661.9 L127.5,659.4 L129.5,656.9 L131.5,654.3 L133.5,651.8 L135.5,649.3 L137.5,646.8 L139.5,644.3 L141.5,641.8 L143.5,639.3 L145.5,636.9 L147.5,634.4 L149.5,632.0 L151.5,629.5 L153.5,627.1 L155.5,624.7 L157.5,622.3 L159.5,619.9 L161.5,617.6 L163.5,615.2 L165.5,612.9 L167.5,610.6 L169.5,608.4 L171.5,606.1 L173.5,603.9 L175.5,601.6 L177.5,599.4 L179.5,597.2 L181.5,595.0 L183.5,592.8 L185.5,590.6 L187.5,588.4 L189.5,586.3 L191.5,584.1 L193.5,581.9 L195.5,579.6 L197.5,577.4 L199.5,575.2 L201.5,572.9 L203.5,570.6 L205.5,568.3 L207.5,566.0 L209.5,563.7 L211.5,561.4 L213.5,559.1 L215.5,556.7 L217.5,554.4 L219.5,552.1 L221.5,549.7 L223.5,547.4 L225.5,545.1 L227.5,542.8 L229.5,540.5 L231.5,538.2 L233.5,536.0 L235.5,533.7 L237.5,531.5 L239.5,529.3 L241.5,527.2 L243.5,525.0 L245.5,522.9 L247.5,520.9 L249.5,518.8 L251.5,516.8 L253.5,514.9 L255.5,512.9 L257.5,511.0 L259.5,509.1 L261.5,507.3 L263.5,505.5 L265.5,503.7 L267.5,501.9 L269.5,500.2 L271.5,498.5 L273.5,496.8 L275.5,495.2 L277.5,493.6 L279.5,492.0 L281.5,490.4 L283.5,488.8 L285.5,487.3 L287.5,485.8 L289.5,484.4 L291.5,482.9 L293.5,481.5 L295.5,480.1 L297.5,478.7 L299.5,477.4 L301.5,476.1 L303.5,474.7 L305.5,473.5 L307.5,472.2 L309.5,471.0 L311.5,469.8 L313.5,468.6 L315.5,467.4 L317.5,466.2 L319.5,465.1 L321.5,464.0 L323.5,462.9 L325.5,461.8 L327.5,460.8 L329.5,459.7 L331.5,458.7 L333.5,457.7 L335.5,456.7 L337.5,455.8 L339.5,454.8 L341.5,453.9 L343.5,453.0 L345.5,452.2 L347.5,451.3 L349.5,450.5 L351.5,449.8 L353.5,449.1 L355.5,448.4 L357.5,447.7 L359.5,447.1 L361.5,446.6 L363.5,446.1 L365.5,445.7 L367.5,445.3 L369.5,444.9 L371.5,444.6 L373.5,444.4 L375.5,444.3 L377.5,444.2 L379.5,444.1 L381.5,444.2 L383.5,444.3 L385.5,444.5 L387.5,444.7 L389.5,445.1 L391.5,445.4 L393.5,445.9 L395.5,446.4 L397.5,446.9 L399.5,447.5 L401.5,448.1 L403.5,448.8 L405.5,449.5 L407.5,450.2 L409.5,451.0 L411.5,451.8 L413.5,452.6 L415.5,453.4 L417.5,454.2 L419.5,455.0 L421.5,455.8 L423.5,456.7 L425.5,457.5 L427.5,458.3 L429.5,459.1 L431.5,459.8 L433.5,460.6 L435.5,461.3 L437.5,462.1 L439.5,462.8 L441.5,463.5 L443.5,464.3 L445.5,465.0 L447.5,465.6 L449.5,466.3 L451.5,467.0 L453.5,467.6 L455.5,468.3 L457.5,468.9 L459.5,469.5 L461.5,470.1 L463.5,470.7 L465.5,471.3 L467.5,471.9 L469.5,472.5 L471.5,473.0 L473.5,473.5 L475.5,474.1 L477.5,474.6 L479.5,475.1 L481.5,475.6 L483.5,476.1 L485.5,476.5 L487.5,477.0 L489.5,477.4 L491.5,477.9 L493.5,478.3 L495.5,478.7 L497.5,479.1 L499.5,479.5 L501.5,479.8 L503.5,480.2 L505.5,480.5 L507.5,480.9 L509.5,481.2 L511.5,481.5 L513.5,481.8 L515.5,482.1 L517.5,482.4 L519.5,482.7 L521.5,482.9 L523.5,483.2 L525.5,483.4 L527.5,483.6 L529.5,483.9 L531.5,484.1 L533.5,484.3 L535.5,484.5 L537.5,484.7 L539.5,484.9 L541.5,485.1 L543.5,485.2 L545.5,485.4 L547.5,485.6 L549.5,485.7 L551.5,485.9 L553.5,486.0 L555.5,486.2 L557.5,486.3 L559.5,486.4 L561.5,486.6 L563.5,486.7 L565.5,486.8 L567.5,486.9 L569.5,487.1 L571.5,487.2 L573.5,487.3 L575.5,487.4 L577.5,487.5 L579.5,487.6 L581.5,487.8 L583.5,487.9 L585.5,488.0 L587.5,488.1 L589.5,488.1 L591.5,488.2 L593.5,488.3 L595.5,488.3 L597.5,488.3 L599.5,488.3 L601.5,488.2 L603.5,488.1 L605.5,488.0 L607.5,487.8 L609.3,487.6 L609.3,500.0 L607.5,500.1 L605.5,500.2 L603.5,500.3 L601.5,500.4 L599.5,500.4 L597.5,500.4 L595.5,500.4 L593.5,500.4 L591.5,500.3 L589.5,500.2 L587.5,500.2 L585.5,500.1 L583.5,500.0 L581.5,499.9 L579.5,499.8 L577.5,499.7 L575.5,499.5 L573.5,499.4 L571.5,499.3 L569.5,499.2 L567.5,499.1 L565.5,498.9 L563.5,498.8 L561.5,498.7 L559.5,498.5 L557.5,498.4 L555.5,498.3 L553.5,498.1 L551.5,498.0 L549.5,497.8 L547.5,497.6 L545.5,497.5 L543.5,497.3 L541.5,497.1 L539.5,496.9 L537.5,496.7 L535.5,496.5 L533.5,496.3 L531.5,496.1 L529.5,495.8 L527.5,495.6 L525.5,495.4 L523.5,495.1 L521.5,494.8 L519.5,494.6 L517.5,494.3 L515.5,494.0 L513.5,493.7 L511.5,493.4 L509.5,493.1 L507.5,492.8 L505.5,492.4 L503.5,492.1 L501.5,491.7 L499.5,491.3 L497.5,491.0 L495.5,490.6 L493.5,490.2 L491.5,489.8 L489.5,489.3 L487.5,488.9 L485.5,488.4 L483.5,488.0 L481.5,487.5 L479.5,487.0 L477.5,486.5 L475.5,486.0 L473.5,485.5 L471.5,485.0 L469.5,484.4 L467.5,483.9 L465.5,483.3 L463.5,482.7 L461.5,482.1 L459.5,481.5 L457.5,480.9 L455.5,480.2 L453.5,479.6 L451.5,478.9 L449.5,478.2 L447.5,477.5 L445.5,476.8 L443.5,476.0 L441.5,475.2 L439.5,474.5 L437.5,473.7 L435.5,472.8 L433.5,472.0 L431.5,471.2 L429.5,470.3 L427.5,469.4 L425.5,468.5 L423.5,467.6 L421.5,466.7 L419.5,465.8 L417.5,464.8 L415.5,463.9 L413.5,463.0 L411.5,462.1 L409.5,461.2 L407.5,460.4 L405.5,459.6 L403.5,458.8 L401.5,458.1 L399.5,457.4 L397.5,456.7 L395.5,456.2 L393.5,455.6 L391.5,455.2 L389.5,454.8 L387.5,454.4 L385.5,454.1 L383.5,453.9 L381.5,453.8 L379.5,453.7 L377.5,453.7 L375.5,453.8 L373.5,453.9 L371.5,454.1 L369.5,454.3 L367.5,454.6 L365.5,455.0 L363.5,455.4 L361.5,455.8 L359.5,456.3 L357.5,456.9 L355.5,457.4 L353.5,458.1 L351.5,458.7 L349.5,459.4 L347.5,460.2 L345.5,461.0 L343.5,461.8 L341.5,462.6 L339.5,463.5 L337.5,464.3 L335.5,465.3 L333.5,466.2 L331.5,467.2 L329.5,468.1 L327.5,469.1 L325.5,470.2 L323.5,471.2 L321.5,472.3 L319.5,473.3 L317.5,474.5 L315.5,475.6 L313.5,476.7 L311.5,477.9 L309.5,479.1 L307.5,480.3 L305.5,481.6 L303.5,482.9 L301.5,484.1 L299.5,485.5 L297.5,486.8 L295.5,488.2 L293.5,489.5 L291.5,491.0 L289.5,492.4 L287.5,493.9 L285.5,495.4 L283.5,496.9 L281.5,498.4 L279.5,500.0 L277.5,501.6 L275.5,503.3 L273.5,504.9 L271.5,506.6 L269.5,508.4 L267.5,510.1 L265.5,512.0 L263.5,513.8 L261.5,515.7 L259.5,517.6 L257.5,519.5 L255.5,521.5 L253.5,523.5 L251.5,525.6 L249.5,527.6 L247.5,529.7 L245.5,531.9 L243.5,534.0 L241.5,536.2 L239.5,538.4 L237.5,540.7 L235.5,542.9 L233.5,545.2 L231.5,547.5 L229.5,549.8 L227.5,552.1 L225.5,554.4 L223.5,556.7 L221.5,559.1 L219.5,561.4 L217.5,563.8 L215.5,566.1 L213.5,568.4 L211.5,570.8 L209.5,573.1 L207.5,575.4 L205.5,577.7 L203.5,580.0 L201.5,582.3 L199.5,584.6 L197.5,586.9 L195.5,589.2 L193.5,591.4 L191.5,593.7 L189.5,595.9 L187.5,598.1 L185.5,600.4 L183.5,602.6 L181.5,604.8 L179.5,607.1 L177.5,609.3 L175.5,611.6 L173.5,613.9 L171.5,616.1 L169.5,618.4 L167.5,620.8 L165.5,623.1 L163.5,625.4 L161.5,627.8 L159.5,630.2 L157.5,632.6 L155.5,635.0 L153.5,637.4 L151.5,639.9 L149.5,642.3 L147.5,644.8 L145.5,647.3 L143.5,649.8 L141.5,652.3 L139.5,654.8 L137.5,657.3 L135.5,659.9 L133.5,662.4 L131.5,665.0 L129.5,667.5 L127.5,670.1 L125.5,672.7 L123.5,675.2 L121.5,677.8 L119.5,680.4 L117.5,683.0 L115.5,685.6 L113.5,688.2 L111.5,690.8 L109.5,693.4 L107.5,696.0 L105.5,698.6 L103.5,701.2 L101.5,703.8 L99.5,706.4 L97.5,709.0 L95.5,711.6 L93.5,714.2 L91.5,716.8 L89.5,719.4 L87.5,722.0 L85.5,724.5 L83.5,727.1 L81.5,729.7 L79.5,732.2 L77.5,734.7 L75.5,737.3 L73.5,739.8 L71.5,742.3Z" fill="#fdbf97"/><path d="M71.5,741.9 L73.5,739.4 L75.5,736.9 L77.5,734.3 L79.5,731.8 L81.5,729.3 L83.5,726.7 L85.5,724.1 L87.5,721.6 L89.5,719.0 L91.5,716.4 L93.5,713.8 L95.5,711.2 L97.5,708.6 L99.5,706.0 L101.5,703.4 L103.5,700.8 L105.5,698.2 L107.5,695.6 L109.5,693.0 L111.5,690.4 L113.5,687.8 L115.5,685.2 L117.5,682.6 L119.5,680.0 L121.5,677.4 L123.5,674.8 L125.5,672.3 L127.5,669.7 L129.5,667.1 L131.5,664.6 L133.5,662.0 L135.5,659.5 L137.5,656.9 L139.5,654.4 L141.5,651.9 L143.5,649.4 L145.5,646.9 L147.5,644.4 L149.5,641.9 L151.5,639.5 L153.5,637.0 L155.5,634.6 L157.5,632.2 L159.5,629.8 L161.5,627.4 L163.5,625.0 L165.5,622.7 L167.5,620.4 L169.5,618.0 L171.5,615.7 L173.5,613.5 L175.5,611.2 L177.5,608.9 L179.5,606.7 L181.5,604.4 L183.5,602.2 L185.5,600.0 L187.5,597.7 L189.5,595.5 L191.5,593.3 L193.5,591.0 L195.5,588.8 L197.5,586.5 L199.5,584.2 L201.5,581.9 L203.5,579.6 L205.5,577.3 L207.5,575.0 L209.5,572.7 L211.5,570.4 L213.5,568.0 L215.5,565.7 L217.5,563.4 L219.5,561.0 L221.5,558.7 L223.5,556.3 L225.5,554.0 L227.5,551.7 L229.5,549.4 L231.5,547.1 L233.5,544.8 L235.5,542.5 L237.5,540.3 L239.5,538.0 L241.5,535.8 L243.5,533.6 L245.5,531.5 L247.5,529.3 L249.5,527.2 L251.5,525.2 L253.5,523.1 L255.5,521.1 L257.5,519.1 L259.5,517.2 L261.5,515.3 L263.5,513.4 L265.5,511.6 L267.5,509.7 L269.5,508.0 L271.5,506.2 L273.5,504.5 L275.5,502.9 L277.5,501.2 L279.5,499.6 L281.5,498.0 L283.5,496.5 L285.5,495.0 L287.5,493.5 L289.5,492.0 L291.5,490.6 L293.5,489.1 L295.5,487.8 L297.5,486.4 L299.5,485.1 L301.5,483.7 L303.5,482.5 L305.5,481.2 L307.5,479.9 L309.5,478.7 L311.5,477.5 L313.5,476.3 L315.5,475.2 L317.5,474.1 L319.5,472.9 L321.5,471.9 L323.5,470.8 L325.5,469.8 L327.5,468.7 L329.5,467.7 L331.5,466.8 L333.5,465.8 L335.5,464.9 L337.5,463.9 L339.5,463.1 L341.5,462.2 L343.5,461.4 L345.5,460.6 L347.5,459.8 L349.5,459.0 L351.5,458.3 L353.5,457.7 L355.5,457.0 L357.5,456.5 L359.5,455.9 L361.5,455.4 L363.5,455.0 L365.5,454.6 L367.5,454.2 L369.5,453.9 L371.5,453.7 L373.5,453.5 L375.5,453.4 L377.5,453.3 L379.5,453.3 L381.5,453.4 L383.5,453.5 L385.5,453.7 L387.5,454.0 L389.5,454.4 L391.5,454.8 L393.5,455.2 L395.5,455.8 L397.5,456.3 L399.5,457.0 L401.5,457.7 L403.5,458.4 L405.5,459.2 L407.5,460.0 L409.5,460.8 L411.5,461.7 L413.5,462.6 L415.5,463.5 L417.5,464.4 L419.5,465.4 L421.5,466.3 L423.5,467.2 L425.5,468.1 L427.5,469.0 L429.5,469.9 L431.5,470.8 L433.5,471.6 L435.5,472.4 L437.5,473.3 L439.5,474.1 L441.5,474.8 L443.5,475.6 L445.5,476.4 L447.5,477.1 L449.5,477.8 L451.5,478.5 L453.5,479.2 L455.5,479.8 L457.5,480.5 L459.5,481.1 L461.5,481.7 L463.5,482.3 L465.5,482.9 L467.5,483.5 L469.5,484.0 L471.5,484.6 L473.5,485.1 L475.5,485.6 L477.5,486.1 L479.5,486.6 L481.5,487.1 L483.5,487.6 L485.5,488.0 L487.5,488.5 L489.5,488.9 L491.5,489.4 L493.5,489.8 L495.5,490.2 L497.5,490.6 L499.5,490.9 L501.5,491.3 L503.5,491.7 L505.5,492.0 L507.5,492.4 L509.5,492.7 L511.5,493.0 L513.5,493.3 L515.5,493.6 L517.5,493.9 L519.5,494.2 L521.5,494.4 L523.5,494.7 L525.5,495.0 L527.5,495.2 L529.5,495.4 L531.5,495.7 L533.5,495.9 L535.5,496.1 L537.5,496.3 L539.5,496.5 L541.5,496.7 L543.5,496.9 L545.5,497.1 L547.5,497.2 L549.5,497.4 L551.5,497.6 L553.5,497.7 L555.5,497.9 L557.5,498.0 L559.5,498.1 L561.5,498.3 L563.5,498.4 L565.5,498.5 L567.5,498.7 L569.5,498.8 L571.5,498.9 L573.5,499.0 L575.5,499.1 L577.5,499.3 L579.5,499.4 L581.5,499.5 L583.5,499.6 L585.5,499.7 L587.5,499.8 L589.5,499.8 L591.5,499.9 L593.5,500.0 L595.5,500.0 L597.5,500.0 L599.5,500.0 L601.5,500.0 L603.5,499.9 L605.5,499.8 L607.5,499.7 L609.3,499.6 L609.3,511.9 L607.5,512.0 L605.5,512.1 L603.5,512.1 L601.5,512.1 L599.5,512.1 L597.5,512.1 L595.5,512.1 L593.5,512.1 L591.5,512.0 L589.5,511.9 L587.5,511.9 L585.5,511.8 L583.5,511.7 L581.5,511.6 L579.5,511.5 L577.5,511.4 L575.5,511.3 L573.5,511.2 L571.5,511.0 L569.5,510.9 L567.5,510.8 L565.5,510.7 L563.5,510.5 L561.5,510.4 L559.5,510.3 L557.5,510.1 L555.5,510.0 L553.5,509.8 L551.5,509.6 L549.5,509.5 L547.5,509.3 L545.5,509.1 L543.5,508.9 L541.5,508.7 L539.5,508.5 L537.5,508.3 L535.5,508.1 L533.5,507.9 L531.5,507.7 L529.5,507.4 L527.5,507.2 L525.5,506.9 L523.5,506.7 L521.5,506.4 L519.5,506.1 L517.5,505.8 L515.5,505.5 L513.5,505.2 L511.5,504.9 L509.5,504.6 L507.5,504.3 L505.5,503.9 L503.5,503.6 L501.5,503.2 L499.5,502.8 L497.5,502.5 L495.5,502.1 L493.5,501.7 L491.5,501.2 L489.5,500.8 L487.5,500.4 L485.5,499.9 L483.5,499.5 L481.5,499.0 L479.5,498.6 L477.5,498.1 L475.5,497.6 L473.5,497.1 L471.5,496.5 L469.5,496.0 L467.5,495.5 L465.5,494.9 L463.5,494.3 L461.5,493.7 L459.5,493.1 L457.5,492.4 L455.5,491.8 L453.5,491.1 L451.5,490.4 L449.5,489.7 L447.5,488.9 L445.5,488.2 L443.5,487.4 L441.5,486.5 L439.5,485.7 L437.5,484.8 L435.5,483.9 L433.5,483.0 L431.5,482.1 L429.5,481.1 L427.5,480.1 L425.5,479.2 L423.5,478.1 L421.5,477.1 L419.5,476.1 L417.5,475.1 L415.5,474.1 L413.5,473.0 L411.5,472.1 L409.5,471.1 L407.5,470.2 L405.5,469.3 L403.5,468.4 L401.5,467.6 L399.5,466.9 L397.5,466.2 L395.5,465.5 L393.5,465.0 L391.5,464.5 L389.5,464.0 L387.5,463.7 L385.5,463.4 L383.5,463.1 L381.5,463.0 L379.5,462.9 L377.5,462.8 L375.5,462.9 L373.5,463.0 L371.5,463.1 L369.5,463.3 L367.5,463.6 L365.5,463.9 L363.5,464.2 L361.5,464.6 L359.5,465.1 L357.5,465.6 L355.5,466.1 L353.5,466.7 L351.5,467.3 L349.5,468.0 L347.5,468.6 L345.5,469.4 L343.5,470.1 L341.5,470.9 L339.5,471.7 L337.5,472.5 L335.5,473.4 L333.5,474.3 L331.5,475.2 L329.5,476.2 L327.5,477.1 L325.5,478.1 L323.5,479.1 L321.5,480.1 L319.5,481.2 L317.5,482.3 L315.5,483.4 L313.5,484.5 L311.5,485.7 L309.5,486.9 L307.5,488.1 L305.5,489.3 L303.5,490.6 L301.5,491.8 L299.5,493.1 L297.5,494.5 L295.5,495.8 L293.5,497.2 L291.5,498.6 L289.5,500.0 L287.5,501.5 L285.5,503.0 L283.5,504.5 L281.5,506.1 L279.5,507.6 L277.5,509.3 L275.5,510.9 L273.5,512.6 L271.5,514.4 L269.5,516.1 L267.5,518.0 L265.5,519.8 L263.5,521.7 L261.5,523.7 L259.5,525.6 L257.5,527.6 L255.5,529.7 L253.5,531.8 L251.5,533.9 L249.5,536.0 L247.5,538.2 L245.5,540.4 L243.5,542.6 L241.5,544.9 L239.5,547.1 L237.5,549.4 L235.5,551.7 L233.5,554.0 L231.5,556.3 L229.5,558.7 L227.5,561.0 L225.5,563.3 L223.5,565.7 L221.5,568.0 L219.5,570.4 L217.5,572.7 L215.5,575.1 L213.5,577.4 L211.5,579.8 L209.5,582.1 L207.5,584.4 L205.5,586.7 L203.5,589.1 L201.5,591.4 L199.5,593.7 L197.5,596.0 L195.5,598.3 L193.5,600.6 L191.5,602.8 L189.5,605.1 L187.5,607.4 L185.5,609.7 L183.5,612.0 L181.5,614.3 L179.5,616.5 L177.5,618.8 L175.5,621.1 L173.5,623.5 L171.5,625.8 L169.5,628.1 L167.5,630.5 L165.5,632.9 L163.5,635.2 L161.5,637.6 L159.5,640.0 L157.5,642.5 L155.5,644.9 L153.5,647.4 L151.5,649.8 L149.5,652.3 L147.5,654.8 L145.5,657.3 L143.5,659.8 L141.5,662.4 L139.5,664.9 L137.5,667.5 L135.5,670.0 L133.5,672.6 L131.5,675.2 L129.5,677.8 L127.5,680.4 L125.5,683.0 L123.5,685.7 L121.5,688.3 L119.5,691.0 L117.5,693.6 L115.5,696.3 L113.5,699.0 L111.5,701.7 L109.5,704.3 L107.5,707.0 L105.5,709.8 L103.5,712.5 L101.5,715.2 L99.5,717.9 L97.5,720.7 L95.5,723.4 L93.5,726.2 L91.5,728.9 L89.5,731.7 L87.5,734.5 L85.5,737.2 L83.5,740.0 L81.5,742.8 L79.5,745.6 L77.5,748.4 L75.5,751.2 L73.5,754.0 L71.5,756.8Z" fill="#fdb899"/><path d="M71.5,756.4 L73.5,753.6 L75.5,750.8 L77.5,748.0 L79.5,745.2 L81.5,742.4 L83.5,739.6 L85.5,736.8 L87.5,734.1 L89.5,731.3 L91.5,728.5 L93.5,725.8 L95.5,723.0 L97.5,720.3 L99.5,717.5 L101.5,714.8 L103.5,712.1 L105.5,709.4 L107.5,706.6 L109.5,703.9 L111.5,701.3 L113.5,698.6 L115.5,695.9 L117.5,693.2 L119.5,690.6 L121.5,687.9 L123.5,685.3 L125.5,682.6 L127.5,680.0 L129.5,677.4 L131.5,674.8 L133.5,672.2 L135.5,669.6 L137.5,667.1 L139.5,664.5 L141.5,662.0 L143.5,659.4 L145.5,656.9 L147.5,654.4 L149.5,651.9 L151.5,649.4 L153.5,647.0 L155.5,644.5 L157.5,642.1 L159.5,639.6 L161.5,637.2 L163.5,634.8 L165.5,632.5 L167.5,630.1 L169.5,627.7 L171.5,625.4 L173.5,623.1 L175.5,620.7 L177.5,618.4 L179.5,616.1 L181.5,613.9 L183.5,611.6 L185.5,609.3 L187.5,607.0 L189.5,604.7 L191.5,602.4 L193.5,600.2 L195.5,597.9 L197.5,595.6 L199.5,593.3 L201.5,591.0 L203.5,588.7 L205.5,586.3 L207.5,584.0 L209.5,581.7 L211.5,579.4 L213.5,577.0 L215.5,574.7 L217.5,572.3 L219.5,570.0 L221.5,567.6 L223.5,565.3 L225.5,562.9 L227.5,560.6 L229.5,558.3 L231.5,555.9 L233.5,553.6 L235.5,551.3 L237.5,549.0 L239.5,546.7 L241.5,544.5 L243.5,542.2 L245.5,540.0 L247.5,537.8 L249.5,535.6 L251.5,533.5 L253.5,531.4 L255.5,529.3 L257.5,527.2 L259.5,525.2 L261.5,523.3 L263.5,521.3 L265.5,519.4 L267.5,517.6 L269.5,515.7 L271.5,514.0 L273.5,512.2 L275.5,510.5 L277.5,508.9 L279.5,507.2 L281.5,505.7 L283.5,504.1 L285.5,502.6 L287.5,501.1 L289.5,499.6 L291.5,498.2 L293.5,496.8 L295.5,495.4 L297.5,494.1 L299.5,492.7 L301.5,491.4 L303.5,490.2 L305.5,488.9 L307.5,487.7 L309.5,486.5 L311.5,485.3 L313.5,484.1 L315.5,483.0 L317.5,481.9 L319.5,480.8 L321.5,479.7 L323.5,478.7 L325.5,477.7 L327.5,476.7 L329.5,475.8 L331.5,474.8 L333.5,473.9 L335.5,473.0 L337.5,472.1 L339.5,471.3 L341.5,470.5 L343.5,469.7 L345.5,469.0 L347.5,468.2 L349.5,467.6 L351.5,466.9 L353.5,466.3 L355.5,465.7 L357.5,465.2 L359.5,464.7 L361.5,464.2 L363.5,463.8 L365.5,463.5 L367.5,463.2 L369.5,462.9 L371.5,462.7 L373.5,462.6 L375.5,462.5 L377.5,462.4 L379.5,462.5 L381.5,462.6 L383.5,462.7 L385.5,463.0 L387.5,463.3 L389.5,463.6 L391.5,464.1 L393.5,464.6 L395.5,465.1 L397.5,465.8 L399.5,466.5 L401.5,467.2 L403.5,468.0 L405.5,468.9 L407.5,469.8 L409.5,470.7 L411.5,471.7 L413.5,472.6 L415.5,473.7 L417.5,474.7 L419.5,475.7 L421.5,476.7 L423.5,477.7 L425.5,478.8 L427.5,479.7 L429.5,480.7 L431.5,481.7 L433.5,482.6 L435.5,483.5 L437.5,484.4 L439.5,485.3 L441.5,486.1 L443.5,487.0 L445.5,487.8 L447.5,488.5 L449.5,489.3 L451.5,490.0 L453.5,490.7 L455.5,491.4 L457.5,492.0 L459.5,492.7 L461.5,493.3 L463.5,493.9 L465.5,494.5 L467.5,495.1 L469.5,495.6 L471.5,496.1 L473.5,496.7 L475.5,497.2 L477.5,497.7 L479.5,498.2 L481.5,498.6 L483.5,499.1 L485.5,499.5 L487.5,500.0 L489.5,500.4 L491.5,500.8 L493.5,501.3 L495.5,501.7 L497.5,502.1 L499.5,502.4 L501.5,502.8 L503.5,503.2 L505.5,503.5 L507.5,503.9 L509.5,504.2 L511.5,504.5 L513.5,504.8 L515.5,505.1 L517.5,505.4 L519.5,505.7 L521.5,506.0 L523.5,506.3 L525.5,506.5 L527.5,506.8 L529.5,507.0 L531.5,507.3 L533.5,507.5 L535.5,507.7 L537.5,507.9 L539.5,508.1 L541.5,508.3 L543.5,508.5 L545.5,508.7 L547.5,508.9 L549.5,509.1 L551.5,509.2 L553.5,509.4 L555.5,509.6 L557.5,509.7 L559.5,509.9 L561.5,510.0 L563.5,510.1 L565.5,510.3 L567.5,510.4 L569.5,510.5 L571.5,510.6 L573.5,510.8 L575.5,510.9 L577.5,511.0 L579.5,511.1 L581.5,511.2 L583.5,511.3 L585.5,511.4 L587.5,511.5 L589.5,511.5 L591.5,511.6 L593.5,511.7 L595.5,511.7 L597.5,511.7 L599.5,511.7 L601.5,511.7 L603.5,511.7 L605.5,511.7 L607.5,511.6 L609.3,511.5 L609.3,523.8 L607.5,523.9 L605.5,523.9 L603.5,523.9 L601.5,523.9 L599.5,523.9 L597.5,523.9 L595.5,523.8 L593.5,523.8 L591.5,523.7 L589.5,523.7 L587.5,523.6 L585.5,523.5 L583.5,523.4 L581.5,523.3 L579.5,523.2 L577.5,523.1 L575.5,523.0 L573.5,522.9 L571.5,522.8 L569.5,522.7 L567.5,522.5 L565.5,522.4 L563.5,522.3 L561.5,522.1 L559.5,522.0 L557.5,521.8 L555.5,521.7 L553.5,521.5 L551.5,521.3 L549.5,521.1 L547.5,521.0 L545.5,520.8 L543.5,520.6 L541.5,520.4 L539.5,520.1 L537.5,519.9 L535.5,519.7 L533.5,519.5 L531.5,519.2 L529.5,519.0 L527.5,518.7 L525.5,518.5 L523.5,518.2 L521.5,517.9 L519.5,517.6 L517.5,517.3 L515.5,517.0 L513.5,516.7 L511.5,516.4 L509.5,516.1 L507.5,515.8 L505.5,515.4 L503.5,515.1 L501.5,514.7 L499.5,514.3 L497.5,513.9 L495.5,513.5 L493.5,513.1 L491.5,512.7 L489.5,512.3 L487.5,511.9 L485.5,511.5 L483.5,511.0 L481.5,510.6 L479.5,510.1 L477.5,509.6 L475.5,509.1 L473.5,508.6 L471.5,508.1 L469.5,507.6 L467.5,507.0 L465.5,506.5 L463.5,505.9 L461.5,505.3 L459.5,504.7 L457.5,504.0 L455.5,503.3 L453.5,502.6 L451.5,501.9 L449.5,501.2 L447.5,500.4 L445.5,499.6 L443.5,498.7 L441.5,497.8 L439.5,496.9 L437.5,496.0 L435.5,495.0 L433.5,494.0 L431.5,493.0 L429.5,492.0 L427.5,490.9 L425.5,489.8 L423.5,488.7 L421.5,487.6 L419.5,486.4 L417.5,485.3 L415.5,484.2 L413.5,483.1 L411.5,482.0 L409.5,480.9 L407.5,479.9 L405.5,478.9 L403.5,478.0 L401.5,477.1 L399.5,476.3 L397.5,475.6 L395.5,474.9 L393.5,474.3 L391.5,473.8 L389.5,473.3 L387.5,472.9 L385.5,472.6 L383.5,472.4 L381.5,472.2 L379.5,472.0 L377.5,472.0 L375.5,472.0 L373.5,472.0 L371.5,472.1 L369.5,472.3 L367.5,472.5 L365.5,472.8 L363.5,473.1 L361.5,473.4 L359.5,473.8 L357.5,474.3 L355.5,474.8 L353.5,475.3 L351.5,475.9 L349.5,476.5 L347.5,477.1 L345.5,477.8 L343.5,478.5 L341.5,479.2 L339.5,480.0 L337.5,480.7 L335.5,481.6 L333.5,482.4 L331.5,483.3 L329.5,484.2 L327.5,485.1 L325.5,486.0 L323.5,487.0 L321.5,488.0 L319.5,489.1 L317.5,490.1 L315.5,491.2 L313.5,492.3 L311.5,493.4 L309.5,494.6 L307.5,495.8 L305.5,497.0 L303.5,498.3 L301.5,499.5 L299.5,500.8 L297.5,502.1 L295.5,503.5 L293.5,504.8 L291.5,506.2 L289.5,507.7 L287.5,509.1 L285.5,510.6 L283.5,512.1 L281.5,513.7 L279.5,515.3 L277.5,516.9 L275.5,518.6 L273.5,520.3 L271.5,522.1 L269.5,523.9 L267.5,525.8 L265.5,527.7 L263.5,529.6 L261.5,531.6 L259.5,533.7 L257.5,535.8 L255.5,537.9 L253.5,540.0 L251.5,542.2 L249.5,544.4 L247.5,546.7 L245.5,548.9 L243.5,551.2 L241.5,553.5 L239.5,555.8 L237.5,558.2 L235.5,560.5 L233.5,562.9 L231.5,565.2 L229.5,567.6 L227.5,569.9 L225.5,572.3 L223.5,574.6 L221.5,577.0 L219.5,579.3 L217.5,581.7 L215.5,584.0 L213.5,586.4 L211.5,588.7 L209.5,591.1 L207.5,593.4 L205.5,595.8 L203.5,598.1 L201.5,600.4 L199.5,602.7 L197.5,605.1 L195.5,607.4 L193.5,609.7 L191.5,612.0 L189.5,614.4 L187.5,616.7 L185.5,619.0 L183.5,621.3 L181.5,623.7 L179.5,626.0 L177.5,628.4 L175.5,630.7 L173.5,633.1 L171.5,635.4 L169.5,637.8 L167.5,640.2 L165.5,642.6 L163.5,645.0 L161.5,647.5 L159.5,649.9 L157.5,652.3 L155.5,654.8 L153.5,657.3 L151.5,659.8 L149.5,662.3 L147.5,664.8 L145.5,667.3 L143.5,669.9 L141.5,672.4 L139.5,675.0 L137.5,677.6 L135.5,680.2 L133.5,682.8 L131.5,685.4 L129.5,688.1 L127.5,690.7 L125.5,693.4 L123.5,696.1 L121.5,698.8 L119.5,701.5 L117.5,704.2 L115.5,707.0 L113.5,709.7 L111.5,712.5 L109.5,715.3 L107.5,718.1 L105.5,720.9 L103.5,723.7 L101.5,726.6 L99.5,729.5 L97.5,732.3 L95.5,735.2 L93.5,738.1 L91.5,741.1 L89.5,744.0 L87.5,747.0 L85.5,750.0 L83.5,753.0 L81.5,756.0 L79.5,759.0 L77.5,762.0 L75.5,765.1 L73.5,768.2 L71.5,771.3Z" fill="#fdb29b"/><path d="M71.5,770.9 L73.5,767.8 L75.5,764.7 L77.5,761.6 L79.5,758.6 L81.5,755.6 L83.5,752.6 L85.5,749.6 L87.5,746.6 L89.5,743.6 L91.5,740.7 L93.5,737.7 L95.5,734.8 L97.5,731.9 L99.5,729.1 L101.5,726.2 L103.5,723.3 L105.5,720.5 L107.5,717.7 L109.5,714.9 L111.5,712.1 L113.5,709.3 L115.5,706.6 L117.5,703.8 L119.5,701.1 L121.5,698.4 L123.5,695.7 L125.5,693.0 L127.5,690.3 L129.5,687.7 L131.5,685.0 L133.5,682.4 L135.5,679.8 L137.5,677.2 L139.5,674.6 L141.5,672.0 L143.5,669.5 L145.5,666.9 L147.5,664.4 L149.5,661.9 L151.5,659.4 L153.5,656.9 L155.5,654.4 L157.5,651.9 L159.5,649.5 L161.5,647.1 L163.5,644.6 L165.5,642.2 L167.5,639.8 L169.5,637.4 L171.5,635.0 L173.5,632.7 L175.5,630.3 L177.5,628.0 L179.5,625.6 L181.5,623.3 L183.5,620.9 L185.5,618.6 L187.5,616.3 L189.5,614.0 L191.5,611.6 L193.5,609.3 L195.5,607.0 L197.5,604.7 L199.5,602.3 L201.5,600.0 L203.5,597.7 L205.5,595.4 L207.5,593.0 L209.5,590.7 L211.5,588.3 L213.5,586.0 L215.5,583.6 L217.5,581.3 L219.5,578.9 L221.5,576.6 L223.5,574.2 L225.5,571.9 L227.5,569.5 L229.5,567.2 L231.5,564.8 L233.5,562.5 L235.5,560.1 L237.5,557.8 L239.5,555.4 L241.5,553.1 L243.5,550.8 L245.5,548.5 L247.5,546.3 L249.5,544.0 L251.5,541.8 L253.5,539.6 L255.5,537.5 L257.5,535.4 L259.5,533.3 L261.5,531.2 L263.5,529.2 L265.5,527.3 L267.5,525.4 L269.5,523.5 L271.5,521.7 L273.5,519.9 L275.5,518.2 L277.5,516.5 L279.5,514.9 L281.5,513.3 L283.5,511.7 L285.5,510.2 L287.5,508.7 L289.5,507.3 L291.5,505.8 L293.5,504.4 L295.5,503.1 L297.5,501.7 L299.5,500.4 L301.5,499.1 L303.5,497.9 L305.5,496.6 L307.5,495.4 L309.5,494.2 L311.5,493.0 L313.5,491.9 L315.5,490.8 L317.5,489.7 L319.5,488.7 L321.5,487.6 L323.5,486.6 L325.5,485.6 L327.5,484.7 L329.5,483.8 L331.5,482.9 L333.5,482.0 L335.5,481.2 L337.5,480.3 L339.5,479.6 L341.5,478.8 L343.5,478.1 L345.5,477.4 L347.5,476.7 L349.5,476.1 L351.5,475.5 L353.5,474.9 L355.5,474.4 L357.5,473.9 L359.5,473.4 L361.5,473.0 L363.5,472.7 L365.5,472.4 L367.5,472.1 L369.5,471.9 L371.5,471.7 L373.5,471.6 L375.5,471.6 L377.5,471.6 L379.5,471.6 L381.5,471.8 L383.5,472.0 L385.5,472.2 L387.5,472.5 L389.5,472.9 L391.5,473.4 L393.5,473.9 L395.5,474.5 L397.5,475.2 L399.5,475.9 L401.5,476.7 L403.5,477.6 L405.5,478.5 L407.5,479.5 L409.5,480.5 L411.5,481.6 L413.5,482.7 L415.5,483.8 L417.5,484.9 L419.5,486.0 L421.5,487.2 L423.5,488.3 L425.5,489.4 L427.5,490.5 L429.5,491.6 L431.5,492.6 L433.5,493.6 L435.5,494.6 L437.5,495.6 L439.5,496.5 L441.5,497.4 L443.5,498.3 L445.5,499.2 L447.5,500.0 L449.5,500.8 L451.5,501.5 L453.5,502.2 L455.5,502.9 L457.5,503.6 L459.5,504.3 L461.5,504.9 L463.5,505.5 L465.5,506.1 L467.5,506.6 L469.5,507.2 L471.5,507.7 L473.5,508.2 L475.5,508.7 L477.5,509.2 L479.5,509.7 L481.5,510.2 L483.5,510.6 L485.5,511.1 L487.5,511.5 L489.5,511.9 L491.5,512.3 L493.5,512.7 L495.5,513.1 L497.5,513.5 L499.5,513.9 L501.5,514.3 L503.5,514.7 L505.5,515.0 L507.5,515.4 L509.5,515.7 L511.5,516.0 L513.5,516.3 L515.5,516.6 L517.5,516.9 L519.5,517.2 L521.5,517.5 L523.5,517.8 L525.5,518.1 L527.5,518.3 L529.5,518.6 L531.5,518.8 L533.5,519.1 L535.5,519.3 L537.5,519.5 L539.5,519.7 L541.5,520.0 L543.5,520.2 L545.5,520.4 L547.5,520.6 L549.5,520.7 L551.5,520.9 L553.5,521.1 L555.5,521.3 L557.5,521.4 L559.5,521.6 L561.5,521.7 L563.5,521.9 L565.5,522.0 L567.5,522.1 L569.5,522.3 L571.5,522.4 L573.5,522.5 L575.5,522.6 L577.5,522.7 L579.5,522.8 L581.5,522.9 L583.5,523.0 L585.5,523.1 L587.5,523.2 L589.5,523.3 L591.5,523.3 L593.5,523.4 L595.5,523.4 L597.5,523.5 L599.5,523.5 L601.5,523.5 L603.5,523.5 L605.5,523.5 L607.5,523.5 L609.3,523.4 L609.3,535.4 L607.5,535.4 L605.5,535.3 L603.5,535.3 L601.5,535.3 L599.5,535.2 L597.5,535.2 L595.5,535.1 L593.5,535.1 L591.5,535.0 L589.5,535.0 L587.5,534.9 L585.5,534.8 L583.5,534.7 L581.5,534.6 L579.5,534.5 L577.5,534.4 L575.5,534.3 L573.5,534.2 L571.5,534.1 L569.5,534.0 L567.5,533.9 L565.5,533.7 L563.5,533.6 L561.5,533.4 L559.5,533.3 L557.5,533.1 L555.5,532.9 L553.5,532.8 L551.5,532.6 L549.5,532.4 L547.5,532.2 L545.5,532.0 L543.5,531.8 L541.5,531.6 L539.5,531.4 L537.5,531.1 L535.5,530.9 L533.5,530.7 L531.5,530.4 L529.5,530.2 L527.5,529.9 L525.5,529.6 L523.5,529.4 L521.5,529.1 L519.5,528.8 L517.5,528.5 L515.5,528.2 L513.5,527.8 L511.5,527.5 L509.5,527.2 L507.5,526.8 L505.5,526.5 L503.5,526.1 L501.5,525.8 L499.5,525.4 L497.5,525.0 L495.5,524.6 L493.5,524.2 L491.5,523.8 L489.5,523.4 L487.5,523.0 L485.5,522.6 L483.5,522.1 L481.5,521.7 L479.5,521.2 L477.5,520.7 L475.5,520.3 L473.5,519.8 L471.5,519.3 L469.5,518.7 L467.5,518.2 L465.5,517.6 L463.5,517.1 L461.5,516.5 L459.5,515.8 L457.5,515.2 L455.5,514.5 L453.5,513.8 L451.5,513.0 L449.5,512.2 L447.5,511.4 L445.5,510.6 L443.5,509.7 L441.5,508.7 L439.5,507.8 L437.5,506.8 L435.5,505.7 L433.5,504.6 L431.5,503.5 L429.5,502.4 L427.5,501.2 L425.5,500.1 L423.5,498.8 L421.5,497.6 L419.5,496.4 L417.5,495.2 L415.5,493.9 L413.5,492.7 L411.5,491.5 L409.5,490.4 L407.5,489.3 L405.5,488.2 L403.5,487.2 L401.5,486.3 L399.5,485.4 L397.5,484.6 L395.5,483.9 L393.5,483.3 L391.5,482.7 L389.5,482.2 L387.5,481.8 L385.5,481.5 L383.5,481.2 L381.5,481.0 L379.5,480.8 L377.5,480.7 L375.5,480.7 L373.5,480.7 L371.5,480.7 L369.5,480.9 L367.5,481.0 L365.5,481.3 L363.5,481.5 L361.5,481.9 L359.5,482.2 L357.5,482.6 L355.5,483.1 L353.5,483.5 L351.5,484.0 L349.5,484.6 L347.5,485.2 L345.5,485.8 L343.5,486.4 L341.5,487.1 L339.5,487.8 L337.5,488.5 L335.5,489.3 L333.5,490.1 L331.5,490.9 L329.5,491.8 L327.5,492.7 L325.5,493.6 L323.5,494.5 L321.5,495.5 L319.5,496.5 L317.5,497.5 L315.5,498.6 L313.5,499.7 L311.5,500.8 L309.5,502.0 L307.5,503.1 L305.5,504.3 L303.5,505.6 L301.5,506.8 L299.5,508.1 L297.5,509.4 L295.5,510.7 L293.5,512.1 L291.5,513.5 L289.5,514.9 L287.5,516.3 L285.5,517.8 L283.5,519.4 L281.5,520.9 L279.5,522.5 L277.5,524.2 L275.5,525.9 L273.5,527.6 L271.5,529.4 L269.5,531.3 L267.5,533.2 L265.5,535.2 L263.5,537.2 L261.5,539.2 L259.5,541.3 L257.5,543.5 L255.5,545.7 L253.5,547.9 L251.5,550.1 L249.5,552.4 L247.5,554.7 L245.5,557.1 L243.5,559.4 L241.5,561.8 L239.5,564.1 L237.5,566.5 L235.5,568.9 L233.5,571.3 L231.5,573.7 L229.5,576.1 L227.5,578.4 L225.5,580.8 L223.5,583.2 L221.5,585.5 L219.5,587.9 L217.5,590.3 L215.5,592.6 L213.5,595.0 L211.5,597.3 L209.5,599.7 L207.5,602.0 L205.5,604.4 L203.5,606.7 L201.5,609.1 L199.5,611.4 L197.5,613.8 L195.5,616.1 L193.5,618.5 L191.5,620.8 L189.5,623.2 L187.5,625.6 L185.5,627.9 L183.5,630.3 L181.5,632.7 L179.5,635.1 L177.5,637.5 L175.5,639.9 L173.5,642.3 L171.5,644.7 L169.5,647.1 L167.5,649.5 L165.5,652.0 L163.5,654.4 L161.5,656.9 L159.5,659.3 L157.5,661.8 L155.5,664.3 L153.5,666.8 L151.5,669.3 L149.5,671.9 L147.5,674.4 L145.5,677.0 L143.5,679.5 L141.5,682.1 L139.5,684.7 L137.5,687.3 L135.5,690.0 L133.5,692.6 L131.5,695.3 L129.5,697.9 L127.5,700.6 L125.5,703.4 L123.5,706.1 L121.5,708.9 L119.5,711.6 L117.5,714.4 L115.5,717.2 L113.5,720.1 L111.5,722.9 L109.5,725.8 L107.5,728.7 L105.5,731.6 L103.5,734.6 L101.5,737.6 L99.5,740.6 L97.5,743.6 L95.5,746.6 L93.5,749.7 L91.5,752.8 L89.5,755.9 L87.5,759.1 L85.5,762.3 L83.5,765.5 L81.5,768.7 L79.5,772.0 L77.5,775.3 L75.5,778.6 L73.5,782.0 L71.5,785.4Z" fill="#fb9a9b"/></g>
<path d="M71.5,727.4 L73.5,725.2 L75.5,723.0 L77.5,720.7 L79.5,718.4 L81.5,716.1 L83.5,713.8 L85.5,711.4 L87.5,709.0 L89.5,706.7 L91.5,704.3 L93.5,701.8 L95.5,699.4 L97.5,697.0 L99.5,694.5 L101.5,692.0 L103.5,689.6 L105.5,687.1 L107.5,684.6 L109.5,682.1 L111.5,679.6 L113.5,677.1 L115.5,674.5 L117.5,672.0 L119.5,669.5 L121.5,667.0 L123.5,664.4 L125.5,661.9 L127.5,659.4 L129.5,656.9 L131.5,654.3 L133.5,651.8 L135.5,649.3 L137.5,646.8 L139.5,644.3 L141.5,641.8 L143.5,639.3 L145.5,636.9 L147.5,634.4 L149.5,632.0 L151.5,629.5 L153.5,627.1 L155.5,624.7 L157.5,622.3 L159.5,619.9 L161.5,617.6 L163.5,615.2 L165.5,612.9 L167.5,610.6 L169.5,608.4 L171.5,606.1 L173.5,603.9 L175.5,601.6 L177.5,599.4 L179.5,597.2 L181.5,595.0 L183.5,592.8 L185.5,590.6 L187.5,588.4 L189.5,586.3 L191.5,584.1 L193.5,581.9 L195.5,579.6 L197.5,577.4 L199.5,575.2 L201.5,572.9 L203.5,570.6 L205.5,568.3 L207.5,566.0 L209.5,563.7 L211.5,561.4 L213.5,559.1 L215.5,556.7 L217.5,554.4 L219.5,552.1 L221.5,549.7 L223.5,547.4 L225.5,545.1 L227.5,542.8 L229.5,540.5 L231.5,538.2 L233.5,536.0 L235.5,533.7 L237.5,531.5 L239.5,529.3 L241.5,527.2 L243.5,525.0 L245.5,522.9 L247.5,520.9 L249.5,518.8 L251.5,516.8 L253.5,514.9 L255.5,512.9 L257.5,511.0 L259.5,509.1 L261.5,507.3 L263.5,505.5 L265.5,503.7 L267.5,501.9 L269.5,500.2 L271.5,498.5 L273.5,496.8 L275.5,495.2 L277.5,493.6 L279.5,492.0 L281.5,490.4 L283.5,488.8 L285.5,487.3 L287.5,485.8 L289.5,484.4 L291.5,482.9 L293.5,481.5 L295.5,480.1 L297.5,478.7 L299.5,477.4 L301.5,476.1 L303.5,474.7 L305.5,473.5 L307.5,472.2 L309.5,471.0 L311.5,469.8 L313.5,468.6 L315.5,467.4 L317.5,466.2 L319.5,465.1 L321.5,464.0 L323.5,462.9 L325.5,461.8 L327.5,460.8 L329.5,459.7 L331.5,458.7 L333.5,457.7 L335.5,456.7 L337.5,455.8 L339.5,454.8 L341.5,453.9 L343.5,453.0 L345.5,452.2 L347.5,451.3 L349.5,450.5 L351.5,449.8 L353.5,449.1 L355.5,448.4 L357.5,447.7 L359.5,447.1 L361.5,446.6 L363.5,446.1 L365.5,445.7 L367.5,445.3 L369.5,444.9 L371.5,444.6 L373.5,444.4 L375.5,444.3 L377.5,444.2 L379.5,444.1 L381.5,444.2 L383.5,444.3 L385.5,444.5 L387.5,444.7 L389.5,445.1 L391.5,445.4 L393.5,445.9 L395.5,446.4 L397.5,446.9 L399.5,447.5 L401.5,448.1 L403.5,448.8 L405.5,449.5 L407.5,450.2 L409.5,451.0 L411.5,451.8 L413.5,452.6 L415.5,453.4 L417.5,454.2 L419.5,455.0 L421.5,455.8 L423.5,456.7 L425.5,457.5 L427.5,458.3 L429.5,459.1 L431.5,459.8 L433.5,460.6 L435.5,461.3 L437.5,462.1 L439.5,462.8 L441.5,463.5 L443.5,464.3 L445.5,465.0 L447.5,465.6 L449.5,466.3 L451.5,467.0 L453.5,467.6 L455.5,468.3 L457.5,468.9 L459.5,469.5 L461.5,470.1 L463.5,470.7 L465.5,471.3 L467.5,471.9 L469.5,472.5 L471.5,473.0 L473.5,473.5 L475.5,474.1 L477.5,474.6 L479.5,475.1 L481.5,475.6 L483.5,476.1 L485.5,476.5 L487.5,477.0 L489.5,477.4 L491.5,477.9 L493.5,478.3 L495.5,478.7 L497.5,479.1 L499.5,479.5 L501.5,479.8 L503.5,480.2 L505.5,480.5 L507.5,480.9 L509.5,481.2 L511.5,481.5 L513.5,481.8 L515.5,482.1 L517.5,482.4 L519.5,482.7 L521.5,482.9 L523.5,483.2 L525.5,483.4 L527.5,483.6 L529.5,483.9 L531.5,484.1 L533.5,484.3 L535.5,484.5 L537.5,484.7 L539.5,484.9 L541.5,485.1 L543.5,485.2 L545.5,485.4 L547.5,485.6 L549.5,485.7 L551.5,485.9 L553.5,486.0 L555.5,486.2 L557.5,486.3 L559.5,486.4 L561.5,486.6 L563.5,486.7 L565.5,486.8 L567.5,486.9 L569.5,487.1 L571.5,487.2 L573.5,487.3 L575.5,487.4 L577.5,487.5 L579.5,487.6 L581.5,487.8 L583.5,487.9 L585.5,488.0 L587.5,488.1 L589.5,488.1 L591.5,488.2 L593.5,488.3 L595.5,488.3 L597.5,488.3 L599.5,488.3 L601.5,488.2 L603.5,488.1 L605.5,488.0 L607.5,487.8 L609.3,487.6" fill="none" stroke="#ee9a78" stroke-width="1"/>
<line x1="127.4" x2="1014" y1="319" y2="319" stroke="#e8282b" stroke-width="2"/>
<rect x="127.4" y="186.7" width="4.0" height="7.3" fill="rgba(41,98,255,0.27)"/>
<rect x="131.4" y="186.7" width="3.6" height="7.3" fill="rgba(255,152,0,0.28)"/>
<rect x="127.4" y="195.8" width="4.0" height="7.9" fill="rgba(41,98,255,0.27)"/>
<rect x="131.4" y="195.8" width="3.6" height="7.9" fill="rgba(255,152,0,0.28)"/>
<rect x="127.4" y="205.1" width="10.2" height="7.8" fill="rgba(41,98,255,0.27)"/>
<rect x="137.6" y="205.1" width="9.6" height="7.8" fill="rgba(255,152,0,0.28)"/>
<rect x="127.4" y="214.3" width="10.2" height="7.5" fill="rgba(41,98,255,0.27)"/>
<rect x="137.6" y="214.3" width="9.6" height="7.5" fill="rgba(255,152,0,0.28)"/>
<rect x="127.4" y="223.0" width="13.3" height="8.0" fill="rgba(41,98,255,0.27)"/>
<rect x="140.7" y="223.0" width="13.0" height="8.0" fill="rgba(255,152,0,0.28)"/>
<rect x="127.4" y="232.2" width="13.3" height="7.6" fill="rgba(41,98,255,0.27)"/>
<rect x="140.7" y="232.2" width="13.0" height="7.6" fill="rgba(255,152,0,0.28)"/>
<rect x="127.4" y="241.2" width="10.2" height="7.4" fill="rgba(41,98,255,0.27)"/>
<rect x="137.6" y="241.2" width="12.6" height="7.4" fill="rgba(255,152,0,0.28)"/>
<rect x="127.4" y="250.3" width="13.3" height="7.4" fill="rgba(41,98,255,0.27)"/>
<rect x="140.7" y="250.3" width="16.2" height="7.4" fill="rgba(255,152,0,0.28)"/>
<rect x="127.4" y="259.5" width="20.4" height="7.5" fill="rgba(41,98,255,0.27)"/>
<rect x="147.8" y="259.5" width="18.8" height="7.5" fill="rgba(255,152,0,0.28)"/>
<rect x="127.4" y="268.4" width="23.4" height="7.8" fill="rgba(41,98,255,0.27)"/>
<rect x="150.8" y="268.4" width="22.3" height="7.8" fill="rgba(255,152,0,0.28)"/>
<rect x="127.4" y="278.0" width="45.3" height="7.1" fill="rgba(41,98,255,0.27)"/>
<rect x="172.7" y="278.0" width="22.9" height="7.1" fill="rgba(255,152,0,0.28)"/>
<rect x="127.4" y="287.3" width="51.6" height="7.3" fill="rgba(41,98,255,0.75)"/>
<rect x="179.0" y="287.3" width="49.3" height="7.3" fill="rgba(255,152,0,0.82)"/>
<rect x="127.4" y="296.4" width="48.6" height="7.8" fill="rgba(41,98,255,0.75)"/>
<rect x="176.0" y="296.4" width="75.0" height="7.8" fill="rgba(255,152,0,0.82)"/>
<rect x="127.4" y="305.7" width="58.0" height="7.6" fill="rgba(41,98,255,0.75)"/>
<rect x="185.4" y="305.7" width="76.6" height="7.6" fill="rgba(255,152,0,0.82)"/>
<rect x="127.4" y="314.8" width="70.9" height="7.7" fill="rgba(41,98,255,0.75)"/>
<rect x="198.3" y="314.8" width="91.5" height="7.7" fill="rgba(255,152,0,0.82)"/>
<rect x="127.4" y="324.0" width="68.0" height="7.8" fill="rgba(41,98,255,0.75)"/>
<rect x="195.4" y="324.0" width="88.0" height="7.8" fill="rgba(255,152,0,0.82)"/>
<rect x="127.4" y="333.7" width="64.7" height="7.8" fill="rgba(41,98,255,0.75)"/>
<rect x="192.1" y="333.7" width="71.4" height="7.8" fill="rgba(255,152,0,0.82)"/>
<rect x="127.4" y="343.0" width="70.9" height="7.6" fill="rgba(41,98,255,0.75)"/>
<rect x="198.3" y="343.0" width="61.9" height="7.6" fill="rgba(255,152,0,0.82)"/>
<rect x="127.4" y="352.3" width="80.6" height="7.6" fill="rgba(41,98,255,0.75)"/>
<rect x="208.0" y="352.3" width="72.1" height="7.6" fill="rgba(255,152,0,0.82)"/>
<rect x="127.4" y="361.6" width="60.3" height="7.9" fill="rgba(41,98,255,0.75)"/>
<rect x="187.7" y="361.6" width="63.4" height="7.9" fill="rgba(255,152,0,0.82)"/>
<rect x="127.4" y="371.3" width="38.6" height="7.3" fill="rgba(41,98,255,0.75)"/>
<rect x="166.0" y="371.3" width="45.8" height="7.3" fill="rgba(255,152,0,0.82)"/>
<rect x="127.4" y="380.5" width="45.8" height="7.8" fill="rgba(41,98,255,0.27)"/>
<rect x="173.2" y="380.5" width="51.8" height="7.8" fill="rgba(255,152,0,0.28)"/>
<rect x="127.4" y="389.8" width="23.1" height="7.8" fill="rgba(41,98,255,0.27)"/>
<rect x="150.5" y="389.8" width="15.9" height="7.8" fill="rgba(255,152,0,0.28)"/>
<rect x="127.4" y="399.3" width="20.2" height="7.9" fill="rgba(41,98,255,0.27)"/>
<rect x="147.6" y="399.3" width="15.3" height="7.9" fill="rgba(255,152,0,0.28)"/>
<rect x="127.4" y="285.1" width="45.3" height="2.2" fill="rgba(255,255,255,0.55)"/>
<rect x="127.4" y="294.6" width="100.9" height="1.8" fill="rgba(255,255,255,0.55)"/>
<rect x="127.4" y="304.2" width="123.6" height="1.5" fill="rgba(255,255,255,0.55)"/>
<rect x="127.4" y="313.3" width="134.6" height="1.5" fill="rgba(255,255,255,0.55)"/>
<rect x="127.4" y="322.5" width="156.0" height="1.5" fill="rgba(255,255,255,0.55)"/>
<rect x="127.4" y="331.8" width="136.1" height="1.9" fill="rgba(255,255,255,0.55)"/>
<rect x="127.4" y="341.5" width="132.8" height="1.5" fill="rgba(255,255,255,0.55)"/>
<rect x="127.4" y="350.6" width="132.8" height="1.7" fill="rgba(255,255,255,0.55)"/>
<rect x="127.4" y="359.9" width="123.7" height="1.7" fill="rgba(255,255,255,0.55)"/>
<rect x="127.4" y="369.5" width="84.4" height="1.8" fill="rgba(255,255,255,0.55)"/>
<rect x="127.4" y="378.6" width="38.6" height="1.9" fill="rgba(255,255,255,0.55)"/>
<line x1="609.3" x2="1014" y1="148.3" y2="148.3" stroke="#ec7c7c" stroke-width="1.2"/>
<line x1="609.3" x2="1014" y1="487.4" y2="487.4" stroke="#ec7c7c" stroke-width="1.2"/>
<line x1="609.3" x2="1014" y1="244.3" y2="244.3" stroke="#7cc27f" stroke-width="1.2"/>
<line x1="609.3" x2="1014" y1="384.7" y2="384.7" stroke="#7cc27f" stroke-width="1.2"/>
<line x1="609.3" x2="1014" y1="313.8" y2="313.8" stroke="#fbe7a8" stroke-width="2"/>
<g fill="#64986a" fill-opacity="0.55"><circle cx="73.3" cy="529.9" r="1.35"/><circle cx="76.5" cy="526.0" r="1.35"/><circle cx="79.7" cy="522.0" r="1.35"/><circle cx="83.0" cy="518.0" r="1.35"/><circle cx="86.2" cy="514.0" r="1.35"/><circle cx="89.4" cy="510.1" r="1.35"/><circle cx="92.6" cy="506.0" r="1.35"/><circle cx="95.9" cy="502.0" r="1.35"/><circle cx="99.1" cy="498.0" r="1.35"/><circle cx="102.3" cy="494.0" r="1.35"/><circle cx="105.6" cy="490.0" r="1.35"/><circle cx="108.8" cy="486.0" r="1.35"/><circle cx="112.0" cy="482.0" r="1.35"/><circle cx="115.2" cy="478.0" r="1.35"/><circle cx="118.5" cy="474.1" r="1.35"/><circle cx="121.7" cy="470.1" r="1.35"/><circle cx="124.9" cy="466.2" r="1.35"/><circle cx="128.2" cy="462.2" r="1.35"/><circle cx="131.4" cy="458.3" r="1.35"/><circle cx="134.6" cy="454.5" r="1.35"/><circle cx="137.9" cy="450.6" r="1.35"/><circle cx="141.1" cy="446.8" r="1.35"/><circle cx="144.3" cy="443.0" r="1.35"/><circle cx="147.5" cy="439.2" r="1.35"/><circle cx="150.8" cy="435.5" r="1.35"/><circle cx="154.0" cy="431.8" r="1.35"/><circle cx="157.2" cy="428.2" r="1.35"/><circle cx="160.5" cy="424.6" r="1.35"/><circle cx="163.7" cy="421.0" r="1.35"/><circle cx="166.9" cy="417.5" r="1.35"/><circle cx="170.1" cy="414.1" r="1.35"/><circle cx="173.4" cy="410.7" r="1.35"/><circle cx="176.6" cy="407.3" r="1.35"/><circle cx="179.8" cy="404.0" r="1.35"/><circle cx="183.1" cy="400.8" r="1.35"/><circle cx="186.3" cy="397.6" r="1.35"/><circle cx="189.5" cy="394.5" r="1.35"/><circle cx="192.7" cy="391.5" r="1.35"/><circle cx="196.0" cy="388.5" r="1.35"/><circle cx="199.2" cy="385.6" r="1.35"/><circle cx="202.4" cy="382.8" r="1.35"/><circle cx="205.7" cy="380.0" r="1.35"/><circle cx="208.9" cy="377.4" r="1.35"/><circle cx="212.1" cy="374.7" r="1.35"/><circle cx="215.3" cy="372.2" r="1.35"/><circle cx="218.6" cy="369.7" r="1.35"/><circle cx="221.8" cy="367.3" r="1.35"/><circle cx="225.0" cy="364.9" r="1.35"/><circle cx="228.3" cy="362.6" r="1.35"/><circle cx="231.5" cy="360.3" r="1.35"/><circle cx="234.7" cy="358.0" r="1.35"/><circle cx="238.0" cy="355.8" r="1.35"/><circle cx="241.2" cy="353.6" r="1.35"/><circle cx="244.4" cy="351.4" r="1.35"/><circle cx="247.6" cy="349.2" r="1.35"/><circle cx="250.9" cy="347.1" r="1.35"/><circle cx="254.1" cy="344.9" r="1.35"/><circle cx="257.3" cy="342.8" r="1.35"/><circle cx="260.6" cy="340.6" r="1.35"/><circle cx="263.8" cy="338.5" r="1.35"/><circle cx="267.0" cy="336.3" r="1.35"/><circle cx="270.2" cy="334.1" r="1.35"/><circle cx="273.5" cy="331.9" r="1.35"/><circle cx="276.7" cy="329.7" r="1.35"/><circle cx="279.9" cy="327.4" r="1.35"/><circle cx="283.2" cy="325.2" r="1.35"/><circle cx="286.4" cy="322.9" r="1.35"/><circle cx="289.6" cy="320.5" r="1.35"/><circle cx="292.8" cy="318.2" r="1.35"/><circle cx="296.1" cy="315.8" r="1.35"/><circle cx="299.3" cy="313.4" r="1.35"/><circle cx="302.5" cy="311.0" r="1.35"/><circle cx="305.8" cy="308.5" r="1.35"/><circle cx="309.0" cy="306.0" r="1.35"/><circle cx="312.2" cy="303.5" r="1.35"/><circle cx="315.4" cy="301.0" r="1.35"/><circle cx="318.7" cy="298.4" r="1.35"/><circle cx="321.9" cy="295.8" r="1.35"/><circle cx="325.1" cy="293.2" r="1.35"/><circle cx="328.4" cy="290.5" r="1.35"/><circle cx="331.6" cy="287.9" r="1.35"/><circle cx="334.8" cy="285.2" r="1.35"/><circle cx="338.1" cy="282.5" r="1.35"/><circle cx="341.3" cy="279.9" r="1.35"/><circle cx="344.5" cy="277.3" r="1.35"/><circle cx="347.7" cy="274.7" r="1.35"/><circle cx="351.0" cy="272.3" r="1.35"/><circle cx="354.2" cy="270.0" r="1.35"/><circle cx="357.4" cy="267.8" r="1.35"/><circle cx="360.7" cy="265.8" r="1.35"/><circle cx="363.9" cy="263.9" r="1.35"/><circle cx="367.1" cy="262.0" r="1.35"/><circle cx="370.3" cy="260.3" r="1.35"/><circle cx="373.6" cy="258.6" r="1.35"/><circle cx="376.8" cy="257.0" r="1.35"/><circle cx="380.0" cy="255.4" r="1.35"/><circle cx="383.3" cy="253.9" r="1.35"/><circle cx="386.5" cy="252.5" r="1.35"/><circle cx="389.7" cy="251.1" r="1.35"/><circle cx="392.9" cy="249.8" r="1.35"/><circle cx="396.2" cy="248.6" r="1.35"/><circle cx="399.4" cy="247.5" r="1.35"/><circle cx="402.6" cy="246.5" r="1.35"/><circle cx="405.9" cy="245.6" r="1.35"/><circle cx="409.1" cy="244.8" r="1.35"/><circle cx="412.3" cy="244.0" r="1.35"/><circle cx="415.5" cy="243.4" r="1.35"/><circle cx="418.8" cy="242.9" r="1.35"/><circle cx="422.0" cy="242.5" r="1.35"/><circle cx="425.2" cy="242.1" r="1.35"/><circle cx="428.5" cy="241.9" r="1.35"/><circle cx="431.7" cy="241.7" r="1.35"/><circle cx="434.9" cy="241.6" r="1.35"/><circle cx="438.2" cy="241.5" r="1.35"/><circle cx="441.4" cy="241.4" r="1.35"/><circle cx="444.6" cy="241.4" r="1.35"/><circle cx="447.8" cy="241.5" r="1.35"/><circle cx="451.1" cy="241.5" r="1.35"/><circle cx="454.3" cy="241.6" r="1.35"/><circle cx="457.5" cy="241.6" r="1.35"/><circle cx="460.8" cy="241.7" r="1.35"/><circle cx="464.0" cy="241.7" r="1.35"/><circle cx="467.2" cy="241.8" r="1.35"/><circle cx="470.4" cy="241.9" r="1.35"/><circle cx="473.7" cy="241.9" r="1.35"/><circle cx="476.9" cy="242.0" r="1.35"/><circle cx="480.1" cy="242.0" r="1.35"/><circle cx="483.4" cy="242.1" r="1.35"/><circle cx="486.6" cy="242.2" r="1.35"/><circle cx="489.8" cy="242.2" r="1.35"/><circle cx="493.0" cy="242.3" r="1.35"/><circle cx="496.3" cy="242.4" r="1.35"/><circle cx="499.5" cy="242.5" r="1.35"/><circle cx="502.7" cy="242.5" r="1.35"/><circle cx="506.0" cy="242.6" r="1.35"/><circle cx="509.2" cy="242.7" r="1.35"/><circle cx="512.4" cy="242.8" r="1.35"/><circle cx="515.6" cy="242.9" r="1.35"/><circle cx="518.9" cy="243.0" r="1.35"/><circle cx="522.1" cy="243.1" r="1.35"/><circle cx="525.3" cy="243.3" r="1.35"/><circle cx="528.6" cy="243.4" r="1.35"/><circle cx="531.8" cy="243.5" r="1.35"/><circle cx="535.0" cy="243.7" r="1.35"/><circle cx="538.2" cy="243.8" r="1.35"/><circle cx="541.5" cy="244.0" r="1.35"/><circle cx="544.7" cy="244.2" r="1.35"/><circle cx="547.9" cy="244.3" r="1.35"/><circle cx="551.2" cy="244.5" r="1.35"/><circle cx="554.4" cy="244.6" r="1.35"/><circle cx="557.6" cy="244.8" r="1.35"/><circle cx="560.9" cy="244.9" r="1.35"/><circle cx="564.1" cy="245.1" r="1.35"/><circle cx="567.3" cy="245.2" r="1.35"/><circle cx="570.5" cy="245.3" r="1.35"/><circle cx="573.8" cy="245.3" r="1.35"/><circle cx="577.0" cy="245.4" r="1.35"/><circle cx="580.2" cy="245.4" r="1.35"/><circle cx="583.5" cy="245.4" r="1.35"/><circle cx="586.7" cy="245.4" r="1.35"/><circle cx="589.9" cy="245.4" r="1.35"/><circle cx="593.1" cy="245.3" r="1.35"/><circle cx="596.4" cy="245.2" r="1.35"/><circle cx="599.6" cy="245.0" r="1.35"/><circle cx="602.8" cy="244.8" r="1.35"/><circle cx="606.1" cy="244.6" r="1.35"/><circle cx="609.3" cy="244.3" r="1.35"/></g>
<g fill="#64986a" fill-opacity="0.55"><circle cx="73.3" cy="628.2" r="1.35"/><circle cx="76.5" cy="624.9" r="1.35"/><circle cx="79.7" cy="621.7" r="1.35"/><circle cx="83.0" cy="618.5" r="1.35"/><circle cx="86.2" cy="615.4" r="1.35"/><circle cx="89.4" cy="612.3" r="1.35"/><circle cx="92.6" cy="609.2" r="1.35"/><circle cx="95.9" cy="606.1" r="1.35"/><circle cx="99.1" cy="603.1" r="1.35"/><circle cx="102.3" cy="600.0" r="1.35"/><circle cx="105.6" cy="597.0" r="1.35"/><circle cx="108.8" cy="593.9" r="1.35"/><circle cx="112.0" cy="590.8" r="1.35"/><circle cx="115.2" cy="587.7" r="1.35"/><circle cx="118.5" cy="584.6" r="1.35"/><circle cx="121.7" cy="581.4" r="1.35"/><circle cx="124.9" cy="578.2" r="1.35"/><circle cx="128.2" cy="574.9" r="1.35"/><circle cx="131.4" cy="571.6" r="1.35"/><circle cx="134.6" cy="568.2" r="1.35"/><circle cx="137.9" cy="564.8" r="1.35"/><circle cx="141.1" cy="561.3" r="1.35"/><circle cx="144.3" cy="557.8" r="1.35"/><circle cx="147.5" cy="554.3" r="1.35"/><circle cx="150.8" cy="550.7" r="1.35"/><circle cx="154.0" cy="547.1" r="1.35"/><circle cx="157.2" cy="543.5" r="1.35"/><circle cx="160.5" cy="539.9" r="1.35"/><circle cx="163.7" cy="536.3" r="1.35"/><circle cx="166.9" cy="532.6" r="1.35"/><circle cx="170.1" cy="529.0" r="1.35"/><circle cx="173.4" cy="525.4" r="1.35"/><circle cx="176.6" cy="521.8" r="1.35"/><circle cx="179.8" cy="518.2" r="1.35"/><circle cx="183.1" cy="514.6" r="1.35"/><circle cx="186.3" cy="511.0" r="1.35"/><circle cx="189.5" cy="507.4" r="1.35"/><circle cx="192.7" cy="503.9" r="1.35"/><circle cx="196.0" cy="500.3" r="1.35"/><circle cx="199.2" cy="496.8" r="1.35"/><circle cx="202.4" cy="493.4" r="1.35"/><circle cx="205.7" cy="489.9" r="1.35"/><circle cx="208.9" cy="486.5" r="1.35"/><circle cx="212.1" cy="483.1" r="1.35"/><circle cx="215.3" cy="479.8" r="1.35"/><circle cx="218.6" cy="476.5" r="1.35"/><circle cx="221.8" cy="473.2" r="1.35"/><circle cx="225.0" cy="470.0" r="1.35"/><circle cx="228.3" cy="466.8" r="1.35"/><circle cx="231.5" cy="463.7" r="1.35"/><circle cx="234.7" cy="460.6" r="1.35"/><circle cx="238.0" cy="457.6" r="1.35"/><circle cx="241.2" cy="454.7" r="1.35"/><circle cx="244.4" cy="451.7" r="1.35"/><circle cx="247.6" cy="448.9" r="1.35"/><circle cx="250.9" cy="446.1" r="1.35"/><circle cx="254.1" cy="443.3" r="1.35"/><circle cx="257.3" cy="440.7" r="1.35"/><circle cx="260.6" cy="438.0" r="1.35"/><circle cx="263.8" cy="435.5" r="1.35"/><circle cx="267.0" cy="433.0" r="1.35"/><circle cx="270.2" cy="430.6" r="1.35"/><circle cx="273.5" cy="428.2" r="1.35"/><circle cx="276.7" cy="425.9" r="1.35"/><circle cx="279.9" cy="423.7" r="1.35"/><circle cx="283.2" cy="421.5" r="1.35"/><circle cx="286.4" cy="419.3" r="1.35"/><circle cx="289.6" cy="417.1" r="1.35"/><circle cx="292.8" cy="414.8" r="1.35"/><circle cx="296.1" cy="412.6" r="1.35"/><circle cx="299.3" cy="410.4" r="1.35"/><circle cx="302.5" cy="408.1" r="1.35"/><circle cx="305.8" cy="405.7" r="1.35"/><circle cx="309.0" cy="403.3" r="1.35"/><circle cx="312.2" cy="401.0" r="1.35"/><circle cx="315.4" cy="398.6" r="1.35"/><circle cx="318.7" cy="396.2" r="1.35"/><circle cx="321.9" cy="393.8" r="1.35"/><circle cx="325.1" cy="391.5" r="1.35"/><circle cx="328.4" cy="389.2" r="1.35"/><circle cx="331.6" cy="386.9" r="1.35"/><circle cx="334.8" cy="384.8" r="1.35"/><circle cx="338.1" cy="382.7" r="1.35"/><circle cx="341.3" cy="380.7" r="1.35"/><circle cx="344.5" cy="378.7" r="1.35"/><circle cx="347.7" cy="376.9" r="1.35"/><circle cx="351.0" cy="375.1" r="1.35"/><circle cx="354.2" cy="373.5" r="1.35"/><circle cx="357.4" cy="372.0" r="1.35"/><circle cx="360.7" cy="370.5" r="1.35"/><circle cx="363.9" cy="369.2" r="1.35"/><circle cx="367.1" cy="368.0" r="1.35"/><circle cx="370.3" cy="367.0" r="1.35"/><circle cx="373.6" cy="366.1" r="1.35"/><circle cx="376.8" cy="365.3" r="1.35"/><circle cx="380.0" cy="364.6" r="1.35"/><circle cx="383.3" cy="364.2" r="1.35"/><circle cx="386.5" cy="363.8" r="1.35"/><circle cx="389.7" cy="363.6" r="1.35"/><circle cx="392.9" cy="363.6" r="1.35"/><circle cx="396.2" cy="363.7" r="1.35"/><circle cx="399.4" cy="363.9" r="1.35"/><circle cx="402.6" cy="364.2" r="1.35"/><circle cx="405.9" cy="364.5" r="1.35"/><circle cx="409.1" cy="364.9" r="1.35"/><circle cx="412.3" cy="365.3" r="1.35"/><circle cx="415.5" cy="365.8" r="1.35"/><circle cx="418.8" cy="366.3" r="1.35"/><circle cx="422.0" cy="366.8" r="1.35"/><circle cx="425.2" cy="367.3" r="1.35"/><circle cx="428.5" cy="367.8" r="1.35"/><circle cx="431.7" cy="368.4" r="1.35"/><circle cx="434.9" cy="369.0" r="1.35"/><circle cx="438.2" cy="369.5" r="1.35"/><circle cx="441.4" cy="370.1" r="1.35"/><circle cx="444.6" cy="370.7" r="1.35"/><circle cx="447.8" cy="371.3" r="1.35"/><circle cx="451.1" cy="371.9" r="1.35"/><circle cx="454.3" cy="372.4" r="1.35"/><circle cx="457.5" cy="373.0" r="1.35"/><circle cx="460.8" cy="373.6" r="1.35"/><circle cx="464.0" cy="374.1" r="1.35"/><circle cx="467.2" cy="374.7" r="1.35"/><circle cx="470.4" cy="375.2" r="1.35"/><circle cx="473.7" cy="375.7" r="1.35"/><circle cx="476.9" cy="376.2" r="1.35"/><circle cx="480.1" cy="376.7" r="1.35"/><circle cx="483.4" cy="377.2" r="1.35"/><circle cx="486.6" cy="377.6" r="1.35"/><circle cx="489.8" cy="378.1" r="1.35"/><circle cx="493.0" cy="378.5" r="1.35"/><circle cx="496.3" cy="378.9" r="1.35"/><circle cx="499.5" cy="379.3" r="1.35"/><circle cx="502.7" cy="379.7" r="1.35"/><circle cx="506.0" cy="380.1" r="1.35"/><circle cx="509.2" cy="380.4" r="1.35"/><circle cx="512.4" cy="380.8" r="1.35"/><circle cx="515.6" cy="381.1" r="1.35"/><circle cx="518.9" cy="381.4" r="1.35"/><circle cx="522.1" cy="381.7" r="1.35"/><circle cx="525.3" cy="382.0" r="1.35"/><circle cx="528.6" cy="382.3" r="1.35"/><circle cx="531.8" cy="382.6" r="1.35"/><circle cx="535.0" cy="382.8" r="1.35"/><circle cx="538.2" cy="383.0" r="1.35"/><circle cx="541.5" cy="383.3" r="1.35"/><circle cx="544.7" cy="383.5" r="1.35"/><circle cx="547.9" cy="383.7" r="1.35"/><circle cx="551.2" cy="383.9" r="1.35"/><circle cx="554.4" cy="384.0" r="1.35"/><circle cx="557.6" cy="384.2" r="1.35"/><circle cx="560.9" cy="384.3" r="1.35"/><circle cx="564.1" cy="384.5" r="1.35"/><circle cx="567.3" cy="384.6" r="1.35"/><circle cx="570.5" cy="384.7" r="1.35"/><circle cx="573.8" cy="384.8" r="1.35"/><circle cx="577.0" cy="384.9" r="1.35"/><circle cx="580.2" cy="385.0" r="1.35"/><circle cx="583.5" cy="385.0" r="1.35"/><circle cx="586.7" cy="385.1" r="1.35"/><circle cx="589.9" cy="385.1" r="1.35"/><circle cx="593.1" cy="385.2" r="1.35"/><circle cx="596.4" cy="385.2" r="1.35"/><circle cx="599.6" cy="385.2" r="1.35"/><circle cx="602.8" cy="385.2" r="1.35"/><circle cx="606.1" cy="385.2" r="1.35"/><circle cx="609.3" cy="385.1" r="1.35"/></g>
<path d="M71.5,581.0 L73.5,579.2 L75.5,577.4 L77.5,575.5 L79.5,573.6 L81.5,571.6 L83.5,569.7 L85.5,567.6 L87.5,565.6 L89.5,563.5 L91.5,561.4 L93.5,559.3 L95.5,557.1 L97.5,554.9 L99.5,552.7 L101.5,550.5 L103.5,548.3 L105.5,546.0 L107.5,543.7 L109.5,541.4 L111.5,539.1 L113.5,536.7 L115.5,534.4 L117.5,532.0 L119.5,529.6 L121.5,527.3 L123.5,524.9 L125.5,522.4 L127.5,520.0 L129.5,517.6 L131.5,515.2 L133.5,512.8 L135.5,510.3 L137.5,507.9 L139.5,505.5 L141.5,503.0 L143.5,500.6 L145.5,498.2 L147.5,495.7 L149.5,493.3 L151.5,490.9 L153.5,488.5 L155.5,486.1 L157.5,483.7 L159.5,481.3 L161.5,479.0 L163.5,476.6 L165.5,474.3 L167.5,472.0 L169.5,469.7 L171.5,467.4 L173.5,465.1 L175.5,462.9 L177.5,460.7 L179.5,458.5 L181.5,456.3 L183.5,454.2 L185.5,452.1 L187.5,450.0 L189.5,447.9 L191.5,445.9 L193.5,444.0 L195.5,442.0 L197.5,440.1 L199.5,438.2 L201.5,436.4 L203.5,434.6 L205.5,432.8 L207.5,431.0 L209.5,429.2 L211.5,427.5 L213.5,425.8 L215.5,424.1 L217.5,422.4 L219.5,420.8 L221.5,419.2 L223.5,417.5 L225.5,415.9 L227.5,414.4 L229.5,412.8 L231.5,411.3 L233.5,409.7 L235.5,408.2 L237.5,406.7 L239.5,405.2 L241.5,403.7 L243.5,402.2 L245.5,400.8 L247.5,399.3 L249.5,397.9 L251.5,396.5 L253.5,395.0 L255.5,393.6 L257.5,392.2 L259.5,390.8 L261.5,389.4 L263.5,388.0 L265.5,386.6 L267.5,385.3 L269.5,383.9 L271.5,382.5 L273.5,381.2 L275.5,379.8 L277.5,378.4 L279.5,377.1 L281.5,375.7 L283.5,374.3 L285.5,373.0 L287.5,371.6 L289.5,370.2 L291.5,368.9 L293.5,367.5 L295.5,366.1 L297.5,364.7 L299.5,363.4 L301.5,362.0 L303.5,360.6 L305.5,359.2 L307.5,357.8 L309.5,356.3 L311.5,354.9 L313.5,353.5 L315.5,352.0 L317.5,350.6 L319.5,349.1 L321.5,347.6 L323.5,346.1 L325.5,344.6 L327.5,343.1 L329.5,341.6 L331.5,340.2 L333.5,338.7 L335.5,337.2 L337.5,335.7 L339.5,334.3 L341.5,332.9 L343.5,331.4 L345.5,330.1 L347.5,328.7 L349.5,327.4 L351.5,326.1 L353.5,324.8 L355.5,323.6 L357.5,322.4 L359.5,321.3 L361.5,320.2 L363.5,319.1 L365.5,318.0 L367.5,317.0 L369.5,316.1 L371.5,315.1 L373.5,314.2 L375.5,313.4 L377.5,312.6 L379.5,311.8 L381.5,311.1 L383.5,310.4 L385.5,309.7 L387.5,309.1 L389.5,308.6 L391.5,308.0 L393.5,307.5 L395.5,307.1 L397.5,306.7 L399.5,306.3 L401.5,306.0 L403.5,305.7 L405.5,305.4 L407.5,305.2 L409.5,305.0 L411.5,304.8 L413.5,304.7 L415.5,304.6 L417.5,304.6 L419.5,304.6 L421.5,304.6 L423.5,304.6 L425.5,304.7 L427.5,304.7 L429.5,304.8 L431.5,304.9 L433.5,305.0 L435.5,305.1 L437.5,305.3 L439.5,305.4 L441.5,305.5 L443.5,305.7 L445.5,305.8 L447.5,305.9 L449.5,306.1 L451.5,306.2 L453.5,306.4 L455.5,306.5 L457.5,306.7 L459.5,306.9 L461.5,307.0 L463.5,307.2 L465.5,307.4 L467.5,307.6 L469.5,307.7 L471.5,307.9 L473.5,308.1 L475.5,308.3 L477.5,308.5 L479.5,308.6 L481.5,308.8 L483.5,309.0 L485.5,309.2 L487.5,309.4 L489.5,309.6 L491.5,309.7 L493.5,309.9 L495.5,310.1 L497.5,310.3 L499.5,310.5 L501.5,310.6 L503.5,310.8 L505.5,311.0 L507.5,311.1 L509.5,311.3 L511.5,311.5 L513.5,311.6 L515.5,311.8 L517.5,312.0 L519.5,312.1 L521.5,312.3 L523.5,312.4 L525.5,312.5 L527.5,312.7 L529.5,312.8 L531.5,312.9 L533.5,313.0 L535.5,313.2 L537.5,313.3 L539.5,313.4 L541.5,313.5 L543.5,313.6 L545.5,313.6 L547.5,313.7 L549.5,313.8 L551.5,313.9 L553.5,313.9 L555.5,314.0 L557.5,314.1 L559.5,314.1 L561.5,314.2 L563.5,314.2 L565.5,314.2 L567.5,314.3 L569.5,314.3 L571.5,314.3 L573.5,314.4 L575.5,314.4 L577.5,314.4 L579.5,314.4 L581.5,314.4 L583.5,314.4 L585.5,314.4 L587.5,314.3 L589.5,314.3 L591.5,314.3 L593.5,314.3 L595.5,314.2 L597.5,314.2 L599.5,314.2 L601.5,314.1 L603.5,314.1 L605.5,314.0 L607.5,314.0 L609.3,313.9" fill="none" stroke="#efc92c" stroke-width="1.9" stroke-linejoin="round"/>
<line x1="123.5" x2="1014" y1="270.5" y2="270.5" stroke="#e2606c" stroke-opacity="0.85" stroke-width="1" stroke-dasharray="1 1.75"/>
<line x1="73.3" x2="73.3" y1="314.3" y2="341.6" stroke="#45a398" stroke-width="1"/><rect x="72.0" y="325.1" width="2.5" height="14.3" fill="#a4d8cf" stroke="#2f9f92" stroke-width="0.7"/><line x1="76.5" x2="76.5" y1="324.4" y2="340.1" stroke="#d8475c" stroke-width="1"/><rect x="75.1" y="325.1" width="2.8" height="14.3" fill="#ee3548"/><line x1="79.7" x2="79.7" y1="335.1" y2="350.9" stroke="#d8475c" stroke-width="1"/><rect x="78.3" y="339.4" width="2.8" height="5.0" fill="#ee3548"/><line x1="83.0" x2="83.0" y1="332.2" y2="346.6" stroke="#45a398" stroke-width="1"/><rect x="81.7" y="340.8" width="2.5" height="3.6" fill="#a4d8cf" stroke="#2f9f92" stroke-width="0.7"/><line x1="86.2" x2="86.2" y1="334.4" y2="361.0" stroke="#45a398" stroke-width="1"/><rect x="84.9" y="340.0" width="2.5" height="3.0" fill="#a4d8cf" stroke="#2f9f92" stroke-width="0.7"/><line x1="89.4" x2="89.4" y1="333.7" y2="356.0" stroke="#d8475c" stroke-width="1"/><rect x="88.0" y="339.4" width="2.8" height="3.6" fill="#ee3548"/><line x1="92.6" x2="92.6" y1="340.8" y2="377.4" stroke="#d8475c" stroke-width="1"/><rect x="91.2" y="342.3" width="2.8" height="30.8" fill="#ee3548"/><line x1="95.9" x2="95.9" y1="355.9" y2="380.3" stroke="#45a398" stroke-width="1"/><rect x="94.6" y="356.6" width="2.5" height="16.5" fill="#a4d8cf" stroke="#2f9f92" stroke-width="0.7"/><line x1="99.1" x2="99.1" y1="346.6" y2="362.3" stroke="#45a398" stroke-width="1"/><rect x="97.9" y="349.4" width="2.5" height="7.2" fill="#a4d8cf" stroke="#2f9f92" stroke-width="0.7"/><line x1="102.3" x2="102.3" y1="346.6" y2="358.8" stroke="#45a398" stroke-width="1"/><rect x="101.1" y="347.3" width="2.5" height="2.1" fill="#a4d8cf" stroke="#2f9f92" stroke-width="0.7"/><line x1="105.6" x2="105.6" y1="332.2" y2="354.5" stroke="#45a398" stroke-width="1"/><rect x="104.3" y="334.4" width="2.5" height="13.6" fill="#a4d8cf" stroke="#2f9f92" stroke-width="0.7"/><line x1="108.8" x2="108.8" y1="334.0" y2="348.4" stroke="#d8475c" stroke-width="1"/><rect x="107.4" y="334.4" width="2.8" height="13.6" fill="#ee3548"/><line x1="112.0" x2="112.0" y1="341.6" y2="353.7" stroke="#d8475c" stroke-width="1"/><rect x="110.6" y="348.0" width="2.8" height="2.2" fill="#ee3548"/><line x1="115.2" x2="115.2" y1="348.7" y2="362.3" stroke="#d8475c" stroke-width="1"/><rect x="113.8" y="349.2" width="2.8" height="0.8" fill="#ee3548"/><line x1="118.5" x2="118.5" y1="348.7" y2="353.0" stroke="#d8475c" stroke-width="1"/><rect x="117.1" y="349.4" width="2.8" height="2.9" fill="#ee3548"/><line x1="121.7" x2="121.7" y1="350.9" y2="363.1" stroke="#d8475c" stroke-width="1"/><rect x="120.3" y="351.9" width="2.8" height="4.7" fill="#ee3548"/><line x1="124.9" x2="124.9" y1="347.6" y2="357.3" stroke="#45a398" stroke-width="1"/><rect x="123.7" y="348.7" width="2.5" height="7.9" fill="#a4d8cf" stroke="#2f9f92" stroke-width="0.7"/><line x1="128.2" x2="128.2" y1="347.9" y2="352.0" stroke="#d8475c" stroke-width="1"/><rect x="126.8" y="349.4" width="2.8" height="1.1" fill="#ee3548"/><line x1="131.4" x2="131.4" y1="343.6" y2="351.7" stroke="#45a398" stroke-width="1"/><rect x="130.1" y="345.1" width="2.5" height="5.1" fill="#a4d8cf" stroke="#2f9f92" stroke-width="0.7"/><line x1="134.6" x2="134.6" y1="342.9" y2="351.7" stroke="#d8475c" stroke-width="1"/><rect x="133.2" y="344.4" width="2.8" height="5.8" fill="#ee3548"/><line x1="137.9" x2="137.9" y1="345.8" y2="352.4" stroke="#45a398" stroke-width="1"/><rect x="136.6" y="347.3" width="2.5" height="3.6" fill="#a4d8cf" stroke="#2f9f92" stroke-width="0.7"/><line x1="141.1" x2="141.1" y1="340.1" y2="348.8" stroke="#45a398" stroke-width="1"/><rect x="139.8" y="341.6" width="2.5" height="5.7" fill="#a4d8cf" stroke="#2f9f92" stroke-width="0.7"/><line x1="144.3" x2="144.3" y1="340.1" y2="348.1" stroke="#d8475c" stroke-width="1"/><rect x="142.9" y="341.6" width="2.8" height="5.0" fill="#ee3548"/><line x1="147.5" x2="147.5" y1="336.5" y2="344.5" stroke="#45a398" stroke-width="1"/><rect x="146.3" y="338.0" width="2.5" height="5.0" fill="#a4d8cf" stroke="#2f9f92" stroke-width="0.7"/><line x1="150.8" x2="150.8" y1="332.2" y2="341.6" stroke="#45a398" stroke-width="1"/><rect x="149.5" y="333.7" width="2.5" height="6.4" fill="#a4d8cf" stroke="#2f9f92" stroke-width="0.7"/><line x1="154.0" x2="154.0" y1="332.2" y2="338.8" stroke="#d8475c" stroke-width="1"/><rect x="152.6" y="333.7" width="2.8" height="3.6" fill="#ee3548"/><line x1="157.2" x2="157.2" y1="334.3" y2="345.2" stroke="#d8475c" stroke-width="1"/><rect x="155.8" y="335.8" width="2.8" height="7.9" fill="#ee3548"/><line x1="160.5" x2="160.5" y1="341.5" y2="353.8" stroke="#d8475c" stroke-width="1"/><rect x="159.1" y="343.0" width="2.8" height="9.3" fill="#ee3548"/><line x1="163.7" x2="163.7" y1="350.8" y2="358.8" stroke="#d8475c" stroke-width="1"/><rect x="162.3" y="352.3" width="2.8" height="5.0" fill="#ee3548"/><line x1="166.9" x2="166.9" y1="348.7" y2="360.2" stroke="#d8475c" stroke-width="1"/><rect x="165.5" y="353.0" width="2.8" height="3.6" fill="#ee3548"/><line x1="170.1" x2="170.1" y1="355.2" y2="369.5" stroke="#d8475c" stroke-width="1"/><rect x="168.7" y="355.9" width="2.8" height="10.1" fill="#ee3548"/><line x1="173.4" x2="173.4" y1="358.7" y2="367.5" stroke="#45a398" stroke-width="1"/><rect x="172.1" y="360.2" width="2.5" height="5.8" fill="#a4d8cf" stroke="#2f9f92" stroke-width="0.7"/><line x1="176.6" x2="176.6" y1="353.7" y2="363.1" stroke="#45a398" stroke-width="1"/><rect x="175.4" y="355.2" width="2.5" height="6.4" fill="#a4d8cf" stroke="#2f9f92" stroke-width="0.7"/><line x1="179.8" x2="179.8" y1="351.5" y2="357.4" stroke="#45a398" stroke-width="1"/><rect x="178.6" y="353.0" width="2.5" height="2.9" fill="#a4d8cf" stroke="#2f9f92" stroke-width="0.7"/><line x1="183.1" x2="183.1" y1="350.0" y2="354.5" stroke="#45a398" stroke-width="1"/><rect x="181.8" y="351.6" width="2.5" height="2.1" fill="#a4d8cf" stroke="#2f9f92" stroke-width="0.7"/><line x1="186.3" x2="186.3" y1="350.8" y2="368.9" stroke="#d8475c" stroke-width="1"/><rect x="184.9" y="352.3" width="2.8" height="15.1" fill="#ee3548"/><line x1="189.5" x2="189.5" y1="360.1" y2="369.6" stroke="#45a398" stroke-width="1"/><rect x="188.3" y="361.6" width="2.5" height="6.5" fill="#a4d8cf" stroke="#2f9f92" stroke-width="0.7"/><line x1="192.7" x2="192.7" y1="351.5" y2="359.5" stroke="#d8475c" stroke-width="1"/><rect x="191.3" y="353.0" width="2.8" height="5.0" fill="#ee3548"/><line x1="196.0" x2="196.0" y1="355.1" y2="360.3" stroke="#45a398" stroke-width="1"/><rect x="194.7" y="356.6" width="2.5" height="2.2" fill="#a4d8cf" stroke="#2f9f92" stroke-width="0.7"/><line x1="199.2" x2="199.2" y1="355.1" y2="361.0" stroke="#d8475c" stroke-width="1"/><rect x="197.8" y="356.6" width="2.8" height="2.9" fill="#ee3548"/><line x1="202.4" x2="202.4" y1="349.4" y2="357.3" stroke="#45a398" stroke-width="1"/><rect x="201.2" y="350.9" width="2.5" height="4.9" fill="#a4d8cf" stroke="#2f9f92" stroke-width="0.7"/><line x1="205.7" x2="205.7" y1="345.7" y2="352.4" stroke="#45a398" stroke-width="1"/><rect x="204.4" y="347.2" width="2.5" height="3.7" fill="#a4d8cf" stroke="#2f9f92" stroke-width="0.7"/><line x1="208.9" x2="208.9" y1="343.3" y2="351.2" stroke="#45a398" stroke-width="1"/><rect x="207.6" y="344.8" width="2.5" height="4.9" fill="#a4d8cf" stroke="#2f9f92" stroke-width="0.7"/><line x1="212.1" x2="212.1" y1="340.9" y2="346.9" stroke="#45a398" stroke-width="1"/><rect x="210.9" y="342.4" width="2.5" height="3.0" fill="#a4d8cf" stroke="#2f9f92" stroke-width="0.7"/><line x1="215.3" x2="215.3" y1="342.1" y2="348.1" stroke="#d8475c" stroke-width="1"/><rect x="213.9" y="343.6" width="2.8" height="3.0" fill="#ee3548"/><line x1="218.6" x2="218.6" y1="339.0" y2="345.7" stroke="#45a398" stroke-width="1"/><rect x="217.3" y="340.5" width="2.5" height="3.7" fill="#a4d8cf" stroke="#2f9f92" stroke-width="0.7"/><line x1="221.8" x2="221.8" y1="337.2" y2="342.7" stroke="#45a398" stroke-width="1"/><rect x="220.6" y="338.7" width="2.5" height="2.5" fill="#a4d8cf" stroke="#2f9f92" stroke-width="0.7"/><line x1="225.0" x2="225.0" y1="337.8" y2="345.1" stroke="#d8475c" stroke-width="1"/><rect x="223.6" y="339.3" width="2.8" height="4.3" fill="#ee3548"/><line x1="228.3" x2="228.3" y1="340.9" y2="348.1" stroke="#d8475c" stroke-width="1"/><rect x="226.9" y="342.4" width="2.8" height="4.2" fill="#ee3548"/><line x1="231.5" x2="231.5" y1="342.7" y2="346.9" stroke="#45a398" stroke-width="1"/><rect x="230.2" y="344.2" width="2.5" height="1.2" fill="#a4d8cf" stroke="#2f9f92" stroke-width="0.7"/><line x1="234.7" x2="234.7" y1="335.4" y2="346.3" stroke="#45a398" stroke-width="1"/><rect x="233.5" y="336.9" width="2.5" height="7.9" fill="#a4d8cf" stroke="#2f9f92" stroke-width="0.7"/><line x1="238.0" x2="238.0" y1="325.0" y2="338.4" stroke="#45a398" stroke-width="1"/><rect x="236.7" y="326.5" width="2.5" height="10.4" fill="#a4d8cf" stroke="#2f9f92" stroke-width="0.7"/><line x1="241.2" x2="241.2" y1="317.7" y2="328.0" stroke="#45a398" stroke-width="1"/><rect x="239.9" y="319.2" width="2.5" height="7.3" fill="#a4d8cf" stroke="#2f9f92" stroke-width="0.7"/><line x1="244.4" x2="244.4" y1="296.7" y2="326.5" stroke="#45a398" stroke-width="1"/><rect x="243.2" y="317.4" width="2.5" height="2.4" fill="#a4d8cf" stroke="#2f9f92" stroke-width="0.7"/><line x1="247.6" x2="247.6" y1="305.2" y2="321.7" stroke="#d8475c" stroke-width="1"/><rect x="246.2" y="316.2" width="2.8" height="4.3" fill="#ee3548"/><line x1="250.9" x2="250.9" y1="309.5" y2="322.6" stroke="#d8475c" stroke-width="1"/><rect x="249.5" y="319.2" width="2.8" height="2.7" fill="#ee3548"/><line x1="254.1" x2="254.1" y1="313.8" y2="326.5" stroke="#45a398" stroke-width="1"/><rect x="252.8" y="318.6" width="2.5" height="4.3" fill="#a4d8cf" stroke="#2f9f92" stroke-width="0.7"/><line x1="257.3" x2="257.3" y1="307.7" y2="319.2" stroke="#45a398" stroke-width="1"/><rect x="256.1" y="308.9" width="2.5" height="9.7" fill="#a4d8cf" stroke="#2f9f92" stroke-width="0.7"/><line x1="260.6" x2="260.6" y1="296.1" y2="310.1" stroke="#d8475c" stroke-width="1"/><rect x="259.2" y="305.8" width="2.8" height="3.7" fill="#ee3548"/><line x1="263.8" x2="263.8" y1="297.3" y2="313.1" stroke="#45a398" stroke-width="1"/><rect x="262.5" y="306.4" width="2.5" height="6.1" fill="#a4d8cf" stroke="#2f9f92" stroke-width="0.7"/><line x1="267.0" x2="267.0" y1="306.4" y2="322.3" stroke="#d8475c" stroke-width="1"/><rect x="265.6" y="307.0" width="2.8" height="12.2" fill="#ee3548"/><line x1="270.2" x2="270.2" y1="315.0" y2="330.2" stroke="#d8475c" stroke-width="1"/><rect x="268.8" y="319.2" width="2.8" height="3.1" fill="#ee3548"/><line x1="273.5" x2="273.5" y1="302.8" y2="325.3" stroke="#45a398" stroke-width="1"/><rect x="272.2" y="305.8" width="2.5" height="16.5" fill="#a4d8cf" stroke="#2f9f92" stroke-width="0.7"/><line x1="276.7" x2="276.7" y1="295.5" y2="310.1" stroke="#d8475c" stroke-width="1"/><rect x="275.3" y="303.5" width="2.8" height="1.5" fill="#ee3548"/><line x1="279.9" x2="279.9" y1="302.2" y2="310.1" stroke="#45a398" stroke-width="1"/><rect x="278.7" y="305.2" width="2.5" height="1.8" fill="#a4d8cf" stroke="#2f9f92" stroke-width="0.7"/><line x1="283.2" x2="283.2" y1="280.6" y2="309.5" stroke="#45a398" stroke-width="1"/><rect x="281.9" y="290.6" width="2.5" height="14.6" fill="#a4d8cf" stroke="#2f9f92" stroke-width="0.7"/><line x1="286.4" x2="286.4" y1="257.3" y2="290.3" stroke="#45a398" stroke-width="1"/><rect x="285.1" y="258.2" width="2.5" height="31.7" fill="#a4d8cf" stroke="#2f9f92" stroke-width="0.7"/><line x1="289.6" x2="289.6" y1="237.7" y2="262.0" stroke="#45a398" stroke-width="1"/><rect x="288.4" y="238.7" width="2.5" height="19.5" fill="#a4d8cf" stroke="#2f9f92" stroke-width="0.7"/><line x1="292.8" x2="292.8" y1="205.1" y2="245.2" stroke="#45a398" stroke-width="1"/><rect x="291.6" y="207.9" width="2.5" height="30.8" fill="#a4d8cf" stroke="#2f9f92" stroke-width="0.7"/><line x1="296.1" x2="296.1" y1="207.6" y2="220.1" stroke="#d8475c" stroke-width="1"/><rect x="294.7" y="207.9" width="2.8" height="9.4" fill="#ee3548"/><line x1="299.3" x2="299.3" y1="186.5" y2="219.1" stroke="#45a398" stroke-width="1"/><rect x="298.1" y="201.4" width="2.5" height="16.8" fill="#a4d8cf" stroke="#2f9f92" stroke-width="0.7"/><line x1="302.5" x2="302.5" y1="198.6" y2="210.7" stroke="#d8475c" stroke-width="1"/><rect x="301.1" y="200.5" width="2.8" height="4.6" fill="#ee3548"/><line x1="305.8" x2="305.8" y1="204.2" y2="223.8" stroke="#d8475c" stroke-width="1"/><rect x="304.4" y="205.1" width="2.8" height="17.7" fill="#ee3548"/><line x1="309.0" x2="309.0" y1="217.3" y2="230.3" stroke="#d8475c" stroke-width="1"/><rect x="307.6" y="222.8" width="2.8" height="1.9" fill="#ee3548"/><line x1="312.2" x2="312.2" y1="224.3" y2="240.5" stroke="#d8475c" stroke-width="1"/><rect x="310.8" y="224.7" width="2.8" height="13.0" fill="#ee3548"/><line x1="315.4" x2="315.4" y1="223.2" y2="239.6" stroke="#45a398" stroke-width="1"/><rect x="314.2" y="223.8" width="2.5" height="14.9" fill="#a4d8cf" stroke="#2f9f92" stroke-width="0.7"/><line x1="318.7" x2="318.7" y1="219.1" y2="244.3" stroke="#d8475c" stroke-width="1"/><rect x="317.3" y="223.8" width="2.8" height="5.6" fill="#ee3548"/><line x1="321.9" x2="321.9" y1="222.8" y2="260.1" stroke="#d8475c" stroke-width="1"/><rect x="320.5" y="228.4" width="2.8" height="17.7" fill="#ee3548"/><line x1="325.1" x2="325.1" y1="245.7" y2="290.8" stroke="#d8475c" stroke-width="1"/><rect x="323.7" y="246.1" width="2.8" height="37.3" fill="#ee3548"/><line x1="328.4" x2="328.4" y1="271.3" y2="303.9" stroke="#45a398" stroke-width="1"/><rect x="327.1" y="272.2" width="2.5" height="17.7" fill="#a4d8cf" stroke="#2f9f92" stroke-width="0.7"/><line x1="331.6" x2="331.6" y1="265.7" y2="289.9" stroke="#d8475c" stroke-width="1"/><rect x="330.2" y="271.3" width="2.8" height="16.7" fill="#ee3548"/><line x1="334.8" x2="334.8" y1="275.0" y2="291.4" stroke="#d8475c" stroke-width="1"/><rect x="333.4" y="283.4" width="2.8" height="7.4" fill="#ee3548"/><line x1="338.1" x2="338.1" y1="276.9" y2="291.8" stroke="#45a398" stroke-width="1"/><rect x="336.8" y="281.5" width="2.5" height="9.9" fill="#a4d8cf" stroke="#2f9f92" stroke-width="0.7"/><line x1="341.3" x2="341.3" y1="266.6" y2="292.7" stroke="#45a398" stroke-width="1"/><rect x="340.0" y="275.0" width="2.5" height="6.5" fill="#a4d8cf" stroke="#2f9f92" stroke-width="0.7"/><line x1="344.5" x2="344.5" y1="272.8" y2="283.4" stroke="#d8475c" stroke-width="1"/><rect x="343.1" y="274.6" width="2.8" height="3.7" fill="#ee3548"/><line x1="347.7" x2="347.7" y1="270.3" y2="281.5" stroke="#45a398" stroke-width="1"/><rect x="346.5" y="275.9" width="2.5" height="1.0" fill="#a4d8cf" stroke="#2f9f92" stroke-width="0.7"/><line x1="351.0" x2="351.0" y1="277.5" y2="286.2" stroke="#d8475c" stroke-width="1"/><rect x="349.6" y="278.3" width="2.8" height="5.6" fill="#ee3548"/><line x1="354.2" x2="354.2" y1="282.4" y2="303.0" stroke="#d8475c" stroke-width="1"/><rect x="352.8" y="283.9" width="2.8" height="11.6" fill="#ee3548"/><line x1="357.4" x2="357.4" y1="294.0" y2="327.5" stroke="#d8475c" stroke-width="1"/><rect x="356.0" y="295.8" width="2.8" height="30.8" fill="#ee3548"/><line x1="360.7" x2="360.7" y1="320.0" y2="357.3" stroke="#d8475c" stroke-width="1"/><rect x="359.3" y="326.6" width="2.8" height="9.3" fill="#ee3548"/><line x1="363.9" x2="363.9" y1="335.5" y2="373.1" stroke="#d8475c" stroke-width="1"/><rect x="362.5" y="335.9" width="2.8" height="28.8" fill="#ee3548"/><line x1="367.1" x2="367.1" y1="354.5" y2="390.8" stroke="#45a398" stroke-width="1"/><rect x="365.9" y="355.4" width="2.5" height="9.3" fill="#a4d8cf" stroke="#2f9f92" stroke-width="0.7"/><line x1="370.3" x2="370.3" y1="347.0" y2="369.4" stroke="#d8475c" stroke-width="1"/><rect x="368.9" y="355.4" width="2.8" height="4.7" fill="#ee3548"/><line x1="373.6" x2="373.6" y1="360.1" y2="375.9" stroke="#d8475c" stroke-width="1"/><rect x="372.2" y="361.0" width="2.8" height="6.5" fill="#ee3548"/><line x1="376.8" x2="376.8" y1="362.0" y2="388.0" stroke="#d8475c" stroke-width="1"/><rect x="375.4" y="367.5" width="2.8" height="9.4" fill="#ee3548"/><line x1="380.0" x2="380.0" y1="374.0" y2="389.9" stroke="#d8475c" stroke-width="1"/><rect x="378.6" y="375.5" width="2.8" height="1.5" fill="#ee3548"/><line x1="383.3" x2="383.3" y1="364.7" y2="377.8" stroke="#45a398" stroke-width="1"/><rect x="382.0" y="375.9" width="2.5" height="1.0" fill="#a4d8cf" stroke="#2f9f92" stroke-width="0.7"/><line x1="386.5" x2="386.5" y1="366.6" y2="378.7" stroke="#45a398" stroke-width="1"/><rect x="385.2" y="369.4" width="2.5" height="8.4" fill="#a4d8cf" stroke="#2f9f92" stroke-width="0.7"/><line x1="389.7" x2="389.7" y1="363.8" y2="389.0" stroke="#45a398" stroke-width="1"/><rect x="388.5" y="366.6" width="2.5" height="3.7" fill="#a4d8cf" stroke="#2f9f92" stroke-width="0.7"/><line x1="392.9" x2="392.9" y1="358.2" y2="386.2" stroke="#45a398" stroke-width="1"/><rect x="391.7" y="362.0" width="2.5" height="4.6" fill="#a4d8cf" stroke="#2f9f92" stroke-width="0.7"/><line x1="396.2" x2="396.2" y1="328.4" y2="365.7" stroke="#45a398" stroke-width="1"/><rect x="394.9" y="339.6" width="2.5" height="25.1" fill="#a4d8cf" stroke="#2f9f92" stroke-width="0.7"/><line x1="399.4" x2="399.4" y1="326.6" y2="407.6" stroke="#d8475c" stroke-width="1"/><rect x="398.0" y="337.7" width="2.8" height="63.4" fill="#ee3548"/><line x1="402.6" x2="402.6" y1="378.7" y2="406.6" stroke="#45a398" stroke-width="1"/><rect x="401.4" y="389.9" width="2.5" height="11.2" fill="#a4d8cf" stroke="#2f9f92" stroke-width="0.7"/><line x1="405.9" x2="405.9" y1="349.8" y2="389.9" stroke="#45a398" stroke-width="1"/><rect x="404.6" y="364.7" width="2.5" height="24.3" fill="#a4d8cf" stroke="#2f9f92" stroke-width="0.7"/><line x1="409.1" x2="409.1" y1="355.4" y2="365.7" stroke="#45a398" stroke-width="1"/><rect x="407.8" y="359.2" width="2.5" height="5.5" fill="#a4d8cf" stroke="#2f9f92" stroke-width="0.7"/><line x1="412.3" x2="412.3" y1="358.2" y2="399.2" stroke="#d8475c" stroke-width="1"/><rect x="410.9" y="359.2" width="2.8" height="20.4" fill="#ee3548"/><line x1="415.5" x2="415.5" y1="363.8" y2="390.8" stroke="#d8475c" stroke-width="1"/><rect x="414.1" y="379.6" width="2.8" height="7.5" fill="#ee3548"/><line x1="418.8" x2="418.8" y1="379.6" y2="392.7" stroke="#45a398" stroke-width="1"/><rect x="417.5" y="385.2" width="2.5" height="1.9" fill="#a4d8cf" stroke="#2f9f92" stroke-width="0.7"/><line x1="422.0" x2="422.0" y1="352.6" y2="389.0" stroke="#45a398" stroke-width="1"/><rect x="420.8" y="353.6" width="2.5" height="34.4" fill="#a4d8cf" stroke="#2f9f92" stroke-width="0.7"/><line x1="425.2" x2="425.2" y1="343.3" y2="360.1" stroke="#45a398" stroke-width="1"/><rect x="424.0" y="344.3" width="2.5" height="8.3" fill="#a4d8cf" stroke="#2f9f92" stroke-width="0.7"/><line x1="428.5" x2="428.5" y1="340.5" y2="353.6" stroke="#d8475c" stroke-width="1"/><rect x="427.1" y="344.3" width="2.8" height="1.8" fill="#ee3548"/><line x1="431.7" x2="431.7" y1="334.0" y2="356.4" stroke="#45a398" stroke-width="1"/><rect x="430.4" y="335.9" width="2.5" height="10.2" fill="#a4d8cf" stroke="#2f9f92" stroke-width="0.7"/><line x1="434.9" x2="434.9" y1="333.6" y2="350.8" stroke="#d8475c" stroke-width="1"/><rect x="433.5" y="335.9" width="2.8" height="12.1" fill="#ee3548"/><line x1="438.2" x2="438.2" y1="347.0" y2="367.5" stroke="#d8475c" stroke-width="1"/><rect x="436.8" y="348.0" width="2.8" height="12.1" fill="#ee3548"/><line x1="441.4" x2="441.4" y1="353.6" y2="362.9" stroke="#45a398" stroke-width="1"/><rect x="440.1" y="355.4" width="2.5" height="4.7" fill="#a4d8cf" stroke="#2f9f92" stroke-width="0.7"/><line x1="444.6" x2="444.6" y1="348.0" y2="361.0" stroke="#45a398" stroke-width="1"/><rect x="443.4" y="350.8" width="2.5" height="3.7" fill="#a4d8cf" stroke="#2f9f92" stroke-width="0.7"/><line x1="447.8" x2="447.8" y1="339.6" y2="351.7" stroke="#45a398" stroke-width="1"/><rect x="446.6" y="344.3" width="2.5" height="6.5" fill="#a4d8cf" stroke="#2f9f92" stroke-width="0.7"/><line x1="451.1" x2="451.1" y1="330.3" y2="345.2" stroke="#45a398" stroke-width="1"/><rect x="449.8" y="331.2" width="2.5" height="13.1" fill="#a4d8cf" stroke="#2f9f92" stroke-width="0.7"/><line x1="454.3" x2="454.3" y1="330.3" y2="336.8" stroke="#d8475c" stroke-width="1"/><rect x="452.9" y="331.2" width="2.8" height="2.8" fill="#ee3548"/><line x1="457.5" x2="457.5" y1="316.3" y2="335.5" stroke="#45a398" stroke-width="1"/><rect x="456.3" y="318.2" width="2.5" height="16.7" fill="#a4d8cf" stroke="#2f9f92" stroke-width="0.7"/><line x1="460.8" x2="460.8" y1="302.3" y2="318.7" stroke="#45a398" stroke-width="1"/><rect x="459.5" y="304.2" width="2.5" height="14.0" fill="#a4d8cf" stroke="#2f9f92" stroke-width="0.7"/><line x1="464.0" x2="464.0" y1="300.5" y2="317.3" stroke="#d8475c" stroke-width="1"/><rect x="462.6" y="304.2" width="2.8" height="12.1" fill="#ee3548"/><line x1="467.2" x2="467.2" y1="311.3" y2="318.2" stroke="#45a398" stroke-width="1"/><rect x="466.0" y="315.6" width="2.5" height="1.7" fill="#a4d8cf" stroke="#2f9f92" stroke-width="0.7"/><line x1="470.4" x2="470.4" y1="307.9" y2="320.4" stroke="#d8475c" stroke-width="1"/><rect x="469.0" y="316.5" width="2.8" height="3.4" fill="#ee3548"/><line x1="473.7" x2="473.7" y1="312.2" y2="333.7" stroke="#45a398" stroke-width="1"/><rect x="472.4" y="318.2" width="2.5" height="1.7" fill="#a4d8cf" stroke="#2f9f92" stroke-width="0.7"/><line x1="476.9" x2="476.9" y1="300.2" y2="332.0" stroke="#45a398" stroke-width="1"/><rect x="475.6" y="307.9" width="2.5" height="10.3" fill="#a4d8cf" stroke="#2f9f92" stroke-width="0.7"/><line x1="480.1" x2="480.1" y1="284.7" y2="325.9" stroke="#45a398" stroke-width="1"/><rect x="478.9" y="305.3" width="2.5" height="2.6" fill="#a4d8cf" stroke="#2f9f92" stroke-width="0.7"/><line x1="483.4" x2="483.4" y1="298.4" y2="323.4" stroke="#45a398" stroke-width="1"/><rect x="482.1" y="299.3" width="2.5" height="7.7" fill="#a4d8cf" stroke="#2f9f92" stroke-width="0.7"/><line x1="486.6" x2="486.6" y1="288.1" y2="308.8" stroke="#d8475c" stroke-width="1"/><rect x="485.2" y="299.3" width="2.8" height="7.7" fill="#ee3548"/><line x1="489.8" x2="489.8" y1="280.4" y2="310.5" stroke="#45a398" stroke-width="1"/><rect x="488.6" y="294.1" width="2.5" height="12.9" fill="#a4d8cf" stroke="#2f9f92" stroke-width="0.7"/><line x1="493.0" x2="493.0" y1="289.8" y2="311.3" stroke="#d8475c" stroke-width="1"/><rect x="491.6" y="294.1" width="2.8" height="7.8" fill="#ee3548"/><line x1="496.3" x2="496.3" y1="280.4" y2="308.8" stroke="#45a398" stroke-width="1"/><rect x="495.0" y="281.3" width="2.5" height="19.7" fill="#a4d8cf" stroke="#2f9f92" stroke-width="0.7"/><line x1="499.5" x2="499.5" y1="277.8" y2="300.2" stroke="#d8475c" stroke-width="1"/><rect x="498.1" y="281.3" width="2.8" height="18.0" fill="#ee3548"/><line x1="502.7" x2="502.7" y1="293.3" y2="319.0" stroke="#d8475c" stroke-width="1"/><rect x="501.3" y="299.3" width="2.8" height="18.9" fill="#ee3548"/><line x1="506.0" x2="506.0" y1="313.0" y2="325.1" stroke="#45a398" stroke-width="1"/><rect x="504.7" y="313.9" width="2.5" height="5.1" fill="#a4d8cf" stroke="#2f9f92" stroke-width="0.7"/><line x1="509.2" x2="509.2" y1="303.6" y2="318.2" stroke="#45a398" stroke-width="1"/><rect x="507.9" y="311.3" width="2.5" height="6.0" fill="#a4d8cf" stroke="#2f9f92" stroke-width="0.7"/><line x1="512.4" x2="512.4" y1="306.2" y2="347.4" stroke="#d8475c" stroke-width="1"/><rect x="511.0" y="311.3" width="2.8" height="22.4" fill="#ee3548"/><line x1="515.6" x2="515.6" y1="322.5" y2="338.0" stroke="#45a398" stroke-width="1"/><rect x="514.4" y="329.4" width="2.5" height="4.3" fill="#a4d8cf" stroke="#2f9f92" stroke-width="0.7"/><line x1="518.9" x2="518.9" y1="327.7" y2="344.8" stroke="#d8475c" stroke-width="1"/><rect x="517.5" y="328.5" width="2.8" height="6.0" fill="#ee3548"/><line x1="522.1" x2="522.1" y1="323.4" y2="338.8" stroke="#45a398" stroke-width="1"/><rect x="520.9" y="324.2" width="2.5" height="10.3" fill="#a4d8cf" stroke="#2f9f92" stroke-width="0.7"/><line x1="525.3" x2="525.3" y1="319.0" y2="331.1" stroke="#45a398" stroke-width="1"/><rect x="524.1" y="319.9" width="2.5" height="4.3" fill="#a4d8cf" stroke="#2f9f92" stroke-width="0.7"/><line x1="528.6" x2="528.6" y1="314.8" y2="326.8" stroke="#d8475c" stroke-width="1"/><rect x="527.2" y="319.9" width="2.8" height="6.0" fill="#ee3548"/><line x1="531.8" x2="531.8" y1="321.6" y2="342.3" stroke="#d8475c" stroke-width="1"/><rect x="530.4" y="324.2" width="2.8" height="4.3" fill="#ee3548"/><line x1="535.0" x2="535.0" y1="325.1" y2="335.4" stroke="#d8475c" stroke-width="1"/><rect x="533.6" y="326.8" width="2.8" height="1.7" fill="#ee3548"/><line x1="538.2" x2="538.2" y1="302.7" y2="330.2" stroke="#45a398" stroke-width="1"/><rect x="537.0" y="314.8" width="2.5" height="13.7" fill="#a4d8cf" stroke="#2f9f92" stroke-width="0.7"/><line x1="541.5" x2="541.5" y1="313.0" y2="331.1" stroke="#d8475c" stroke-width="1"/><rect x="540.1" y="314.8" width="2.8" height="12.9" fill="#ee3548"/><line x1="544.7" x2="544.7" y1="326.8" y2="338.8" stroke="#d8475c" stroke-width="1"/><rect x="543.3" y="327.7" width="2.8" height="10.3" fill="#ee3548"/><line x1="547.9" x2="547.9" y1="333.7" y2="353.4" stroke="#d8475c" stroke-width="1"/><rect x="546.5" y="338.0" width="2.8" height="3.4" fill="#ee3548"/><line x1="551.2" x2="551.2" y1="325.1" y2="352.6" stroke="#45a398" stroke-width="1"/><rect x="549.9" y="330.2" width="2.5" height="12.9" fill="#a4d8cf" stroke="#2f9f92" stroke-width="0.7"/><line x1="554.4" x2="554.4" y1="313.0" y2="332.8" stroke="#45a398" stroke-width="1"/><rect x="553.1" y="314.8" width="2.5" height="16.3" fill="#a4d8cf" stroke="#2f9f92" stroke-width="0.7"/><line x1="557.6" x2="557.6" y1="306.2" y2="327.7" stroke="#45a398" stroke-width="1"/><rect x="556.4" y="312.2" width="2.5" height="3.4" fill="#a4d8cf" stroke="#2f9f92" stroke-width="0.7"/><line x1="560.9" x2="560.9" y1="309.6" y2="325.9" stroke="#d8475c" stroke-width="1"/><rect x="559.5" y="312.2" width="2.8" height="8.6" fill="#ee3548"/><line x1="564.1" x2="564.1" y1="299.3" y2="321.6" stroke="#45a398" stroke-width="1"/><rect x="562.8" y="300.2" width="2.5" height="20.6" fill="#a4d8cf" stroke="#2f9f92" stroke-width="0.7"/><line x1="567.3" x2="567.3" y1="285.5" y2="301.0" stroke="#45a398" stroke-width="1"/><rect x="566.1" y="290.7" width="2.5" height="9.5" fill="#a4d8cf" stroke="#2f9f92" stroke-width="0.7"/><line x1="570.5" x2="570.5" y1="282.1" y2="311.3" stroke="#d8475c" stroke-width="1"/><rect x="569.1" y="290.7" width="2.8" height="18.9" fill="#ee3548"/><line x1="573.8" x2="573.8" y1="295.0" y2="324.2" stroke="#45a398" stroke-width="1"/><rect x="572.5" y="295.9" width="2.5" height="12.9" fill="#a4d8cf" stroke="#2f9f92" stroke-width="0.7"/><line x1="577.0" x2="577.0" y1="251.2" y2="295.9" stroke="#45a398" stroke-width="1"/><rect x="575.7" y="270.9" width="2.5" height="24.1" fill="#a4d8cf" stroke="#2f9f92" stroke-width="0.7"/><line x1="580.2" x2="580.2" y1="258.0" y2="291.6" stroke="#d8475c" stroke-width="1"/><rect x="578.8" y="270.1" width="2.8" height="15.4" fill="#ee3548"/><line x1="583.5" x2="583.5" y1="282.1" y2="302.2" stroke="#d8475c" stroke-width="1"/><rect x="582.1" y="285.5" width="2.8" height="16.0" fill="#ee3548"/><line x1="586.7" x2="586.7" y1="285.0" y2="305.3" stroke="#45a398" stroke-width="1"/><rect x="585.4" y="285.5" width="2.5" height="15.5" fill="#a4d8cf" stroke="#2f9f92" stroke-width="0.7"/><line x1="589.9" x2="589.9" y1="255.8" y2="287.3" stroke="#45a398" stroke-width="1"/><rect x="588.7" y="268.4" width="2.5" height="17.1" fill="#a4d8cf" stroke="#2f9f92" stroke-width="0.7"/><line x1="593.1" x2="593.1" y1="266.6" y2="279.5" stroke="#d8475c" stroke-width="1"/><rect x="591.7" y="268.4" width="2.8" height="6.8" fill="#ee3548"/><line x1="596.4" x2="596.4" y1="264.1" y2="278.7" stroke="#45a398" stroke-width="1"/><rect x="595.1" y="271.8" width="2.5" height="3.4" fill="#a4d8cf" stroke="#2f9f92" stroke-width="0.7"/><line x1="599.6" x2="599.6" y1="264.1" y2="284.3" stroke="#45a398" stroke-width="1"/><rect x="598.4" y="264.9" width="2.5" height="6.0" fill="#a4d8cf" stroke="#2f9f92" stroke-width="0.7"/><line x1="602.8" x2="602.8" y1="258.9" y2="270.9" stroke="#45a398" stroke-width="1"/><rect x="601.6" y="259.8" width="2.5" height="6.0" fill="#a4d8cf" stroke="#2f9f92" stroke-width="0.7"/><line x1="606.1" x2="606.1" y1="254.1" y2="274.0" stroke="#d8475c" stroke-width="1"/><rect x="604.7" y="260.6" width="2.8" height="10.3" fill="#ee3548"/><line x1="609.3" x2="609.3" y1="269.8" y2="270.6" stroke="#d8475c" stroke-width="1"/><rect x="607.9" y="270.0" width="2.8" height="0.8" fill="#ee3548"/>
<path d="M681.5,286.3 H751.4 a2.5,2.5 0 0 1 2.5,2.5 V306.5 a2.5,2.5 0 0 1 -2.5,2.5 H681.8 L673,314.8 L679,303.5 V288.8 a2.5,2.5 0 0 1 2.5,-2.5Z" fill="#363a45"/>
<path d="M619.4,326.1 H651.5 L658.1,317.8 L665.1,326.1 H696.8 a2,2 0 0 1 2,2 V346 a2,2 0 0 1 -2,2 H619.4 a2,2 0 0 1 -2,-2 V328.1 a2,2 0 0 1 2,-2Z" fill="#2962ff"/>
<g transform="translate(632.8,628.4)"><circle r="10" fill="#fff"/><circle r="9.05" fill="none" stroke="#dc3f55" stroke-width="1.7"/><clipPath id="fc6328"><circle r="6.85"/></clipPath><g clip-path="url(#fc6328)"><rect x="-7" y="-7" width="14" height="14" fill="#fff"/><rect x="-7" y="-6.85" width="14" height="0.95" fill="#ef5a6a"/><rect x="-7" y="-4.6" width="14" height="1.30" fill="#f08a95"/><rect x="-7" y="-1.0" width="14" height="2.35" fill="#e53b4e"/><rect x="-7" y="4.0" width="14" height="2.85" fill="#e53b4e"/><rect x="-7" y="-7" width="8.7" height="8.65" fill="#2f8de4"/><rect x="-5.0" y="-4.9" width="1.1" height="1.1" fill="#d6ebff"/><rect x="-5.0" y="-2.9" width="1.1" height="1.1" fill="#d6ebff"/><rect x="-5.0" y="-0.9" width="1.1" height="1.1" fill="#d6ebff"/><rect x="-2.9" y="-4.9" width="1.1" height="1.1" fill="#d6ebff"/><rect x="-2.9" y="-2.9" width="1.1" height="1.1" fill="#d6ebff"/><rect x="-2.9" y="-0.9" width="1.1" height="1.1" fill="#d6ebff"/><rect x="-0.8" y="-4.9" width="1.1" height="1.1" fill="#d6ebff"/><rect x="-0.8" y="-2.9" width="1.1" height="1.1" fill="#d6ebff"/><rect x="-0.8" y="-0.9" width="1.1" height="1.1" fill="#d6ebff"/></g></g>
<g transform="translate(625.3,628.4)"><circle r="10" fill="#fff"/><circle r="9.05" fill="none" stroke="#dc3f55" stroke-width="1.7"/><clipPath id="fc6253"><circle r="6.85"/></clipPath><g clip-path="url(#fc6253)"><rect x="-7" y="-7" width="14" height="14" fill="#fff"/><rect x="-7" y="-6.85" width="14" height="0.95" fill="#ef5a6a"/><rect x="-7" y="-4.6" width="14" height="1.30" fill="#f08a95"/><rect x="-7" y="-1.0" width="14" height="2.35" fill="#e53b4e"/><rect x="-7" y="4.0" width="14" height="2.85" fill="#e53b4e"/><rect x="-7" y="-7" width="8.7" height="8.65" fill="#2f8de4"/><rect x="-5.0" y="-4.9" width="1.1" height="1.1" fill="#d6ebff"/><rect x="-5.0" y="-2.9" width="1.1" height="1.1" fill="#d6ebff"/><rect x="-5.0" y="-0.9" width="1.1" height="1.1" fill="#d6ebff"/><rect x="-2.9" y="-4.9" width="1.1" height="1.1" fill="#d6ebff"/><rect x="-2.9" y="-2.9" width="1.1" height="1.1" fill="#d6ebff"/><rect x="-2.9" y="-0.9" width="1.1" height="1.1" fill="#d6ebff"/><rect x="-0.8" y="-4.9" width="1.1" height="1.1" fill="#d6ebff"/><rect x="-0.8" y="-2.9" width="1.1" height="1.1" fill="#d6ebff"/><rect x="-0.8" y="-0.9" width="1.1" height="1.1" fill="#d6ebff"/></g></g>
<g transform="translate(936,628.4)"><circle r="10" fill="#fff"/><circle r="9.05" fill="none" stroke="#dc3f55" stroke-width="1.7"/><clipPath id="fc9360"><circle r="6.85"/></clipPath><g clip-path="url(#fc9360)"><rect x="-7" y="-7" width="14" height="14" fill="#fff"/><rect x="-7" y="-6.85" width="14" height="0.95" fill="#ef5a6a"/><rect x="-7" y="-4.6" width="14" height="1.30" fill="#f08a95"/><rect x="-7" y="-1.0" width="14" height="2.35" fill="#e53b4e"/><rect x="-7" y="4.0" width="14" height="2.85" fill="#e53b4e"/><rect x="-7" y="-7" width="8.7" height="8.65" fill="#2f8de4"/><rect x="-5.0" y="-4.9" width="1.1" height="1.1" fill="#d6ebff"/><rect x="-5.0" y="-2.9" width="1.1" height="1.1" fill="#d6ebff"/><rect x="-5.0" y="-0.9" width="1.1" height="1.1" fill="#d6ebff"/><rect x="-2.9" y="-4.9" width="1.1" height="1.1" fill="#d6ebff"/><rect x="-2.9" y="-2.9" width="1.1" height="1.1" fill="#d6ebff"/><rect x="-2.9" y="-0.9" width="1.1" height="1.1" fill="#d6ebff"/><rect x="-0.8" y="-4.9" width="1.1" height="1.1" fill="#d6ebff"/><rect x="-0.8" y="-2.9" width="1.1" height="1.1" fill="#d6ebff"/><rect x="-0.8" y="-0.9" width="1.1" height="1.1" fill="#d6ebff"/></g></g>
<defs><linearGradient id="pg" x1="0" y1="0" x2="1" y2="1"><stop offset="0" stop-color="#a338bd"/><stop offset="1" stop-color="#5f3bd6"/></linearGradient></defs>
<g transform="translate(608.9,628.5)"><path d="M-7.9,-1.4 A8,8 0 0 1 3.6,-7.2" fill="none" stroke="url(#pg)" stroke-width="1.7"/><path d="M7.6,-2.6 A8,8 0 0 1 -5.2,6.1" fill="none" stroke="url(#pg)" stroke-width="1.7"/><path d="M2.4,-5 L-3.2,0.7 H-0.2 L-2.4,5 L3.4,-0.9 H0.4 Z" fill="#8f35c4"/><path d="M-9.2,-0.9 Q-8.6,2.6 -5.2,3.2 Q-8.6,3.8 -9.2,7.3 Q-9.8,3.8 -13.2,3.2 Q-9.8,2.6 -9.2,-0.9Z" fill="#6b3df0"/></g>
<circle cx="615.8" cy="622.3" r="2.6" fill="#f23645"/></g></svg>
<div class="b" style="left:72px;top:30px;width:595px;height:50px;background:rgba(255,255,255,0.72);"></div>
<div class="b" style="left:13px;top:28.5px;width:54.5px;height:23px;border:1px solid #f0f2f6;border-radius:4px;box-sizing:border-box;"></div>
<div class="b" style="left:39.5px;top:56.5px;width:1.4px;height:1.4px;background:#666;border-radius:1px;"></div>
<svg width="1024" height="698" viewBox="0 0 1024 698" style="position:absolute;left:0;top:0" font-family="Liberation Sans, sans-serif">
<text x="9.6" y="18.7" font-size="12.8" font-weight="400" fill="#2b2b2e" textLength="354.4" lengthAdjust="spacingAndGlyphs">ol_charles created with TradingView.com, Jul 18, 2025 09:03 UTC+2</text>
<text x="21.4" y="43.8" font-size="11" font-weight="400" fill="#131722" textLength="22.6" lengthAdjust="spacingAndGlyphs">USD</text>
<text x="79.5" y="43.6" font-size="11.6" font-weight="400" fill="#131722" textLength="181.5" lengthAdjust="spacingAndGlyphs">Bitcoin / U.S. Dollar · 1h · BITSTAMP</text>
<text x="270.0" y="43.6" font-size="11.6" font-weight="400" fill="#131722" textLength="7.6" lengthAdjust="spacingAndGlyphs">O</text>
<text x="278.8" y="43.6" font-size="11.6" font-weight="400" fill="#e4515d" textLength="40.7" lengthAdjust="spacingAndGlyphs">120,359</text>
<text x="326.3" y="43.6" font-size="11.6" font-weight="400" fill="#131722" textLength="7.7" lengthAdjust="spacingAndGlyphs">H</text>
<text x="335.0" y="43.6" font-size="11.6" font-weight="400" fill="#e4515d" textLength="40.5" lengthAdjust="spacingAndGlyphs">120,369</text>
<text x="382.5" y="43.6" font-size="11.6" font-weight="400" fill="#131722" textLength="5.7" lengthAdjust="spacingAndGlyphs">L</text>
<text x="389.5" y="43.6" font-size="11.6" font-weight="400" fill="#e4515d" textLength="40.5" lengthAdjust="spacingAndGlyphs">120,335</text>
<text x="437.0" y="43.6" font-size="11.6" font-weight="400" fill="#131722" textLength="7.2" lengthAdjust="spacingAndGlyphs">C</text>
<text x="445.0" y="43.6" font-size="11.6" font-weight="400" fill="#e4515d" textLength="40.5" lengthAdjust="spacingAndGlyphs">120,340</text>
<text x="493.0" y="43.6" font-size="11.6" font-weight="400" fill="#e4515d" textLength="64.0" lengthAdjust="spacingAndGlyphs">−5 (−0.00%)</text>
<text x="79.5" y="59.3" font-size="11.6" font-weight="400" fill="#131722" textLength="226.5" lengthAdjust="spacingAndGlyphs">Volume Profile / Fixed Range (150, 24, 70, 2)</text>
<text x="79.5" y="74.4" font-size="11.6" font-weight="400" fill="#131722" textLength="350.0" lengthAdjust="spacingAndGlyphs">MRC (hlc3, SuperSmoother, 200, 1, 2.415, 60, On Hover, Auto, D, W)</text>
<text x="437.0" y="74.4" font-size="11.6" font-weight="400" fill="#f1c840" textLength="39.0" lengthAdjust="spacingAndGlyphs">118,862</text>
<text x="484.0" y="74.4" font-size="11.6" font-weight="400" fill="#5cb460" textLength="38.0" lengthAdjust="spacingAndGlyphs">121,224</text>
<text x="529.5" y="74.4" font-size="11.6" font-weight="400" fill="#5cb460" textLength="40.0" lengthAdjust="spacingAndGlyphs">116,500</text>
<text x="576.5" y="74.4" font-size="11.6" font-weight="400" fill="#ea5f5f" textLength="39.5" lengthAdjust="spacingAndGlyphs">124,567</text>
<text x="623.5" y="74.4" font-size="11.6" font-weight="400" fill="#ea5f5f" textLength="37.5" lengthAdjust="spacingAndGlyphs">113,158</text>
<text x="19.6" y="84.0" font-size="12" font-weight="400" fill="#131722" textLength="42.9" lengthAdjust="spacingAndGlyphs">127,000</text>
<text x="19.6" y="111.9" font-size="12" font-weight="400" fill="#131722" textLength="42.9" lengthAdjust="spacingAndGlyphs">126,000</text>
<text x="19.6" y="140.0" font-size="12" font-weight="400" fill="#131722" textLength="42.9" lengthAdjust="spacingAndGlyphs">125,000</text>
<text x="19.6" y="168.4" font-size="12" font-weight="400" fill="#131722" textLength="42.9" lengthAdjust="spacingAndGlyphs">124,000</text>
<text x="19.6" y="197.0" font-size="12" font-weight="400" fill="#131722" textLength="42.9" lengthAdjust="spacingAndGlyphs">123,000</text>
<text x="19.6" y="225.8" font-size="12" font-weight="400" fill="#131722" textLength="42.9" lengthAdjust="spacingAndGlyphs">122,000</text>
<text x="19.6" y="254.9" font-size="12" font-weight="400" fill="#131722" textLength="42.9" lengthAdjust="spacingAndGlyphs">121,000</text>
<text x="19.6" y="284.2" font-size="12" font-weight="400" fill="#131722" textLength="42.9" lengthAdjust="spacingAndGlyphs">120,000</text>
<text x="19.6" y="313.7" font-size="12" font-weight="400" fill="#131722" textLength="42.9" lengthAdjust="spacingAndGlyphs">119,000</text>
<text x="19.6" y="343.5" font-size="12" font-weight="400" fill="#131722" textLength="42.9" lengthAdjust="spacingAndGlyphs">118,000</text>
<text x="19.6" y="373.5" font-size="12" font-weight="400" fill="#131722" textLength="42.9" lengthAdjust="spacingAndGlyphs">117,000</text>
<text x="19.6" y="409.9" font-size="12" font-weight="400" fill="#131722" textLength="42.9" lengthAdjust="spacingAndGlyphs">115,800</text>
<text x="19.6" y="446.7" font-size="12" font-weight="400" fill="#131722" textLength="42.9" lengthAdjust="spacingAndGlyphs">114,600</text>
<text x="19.6" y="483.9" font-size="12" font-weight="400" fill="#131722" textLength="42.9" lengthAdjust="spacingAndGlyphs">113,400</text>
<text x="19.6" y="515.2" font-size="12" font-weight="400" fill="#131722" textLength="42.9" lengthAdjust="spacingAndGlyphs">112,400</text>
<text x="19.6" y="546.7" font-size="12" font-weight="400" fill="#131722" textLength="42.9" lengthAdjust="spacingAndGlyphs">111,400</text>
<text x="19.6" y="578.5" font-size="12" font-weight="400" fill="#131722" textLength="42.9" lengthAdjust="spacingAndGlyphs">110,400</text>
<text x="19.6" y="607.4" font-size="12" font-weight="400" fill="#131722" textLength="42.9" lengthAdjust="spacingAndGlyphs">109,500</text>
<text x="19.6" y="635.0" font-size="12" font-weight="400" fill="#131722" textLength="42.9" lengthAdjust="spacingAndGlyphs">108,650</text>
<rect x="13.8" y="140.8" width="56.5" height="15.0" rx="2" fill="#ef5350"/>
<rect x="13.8" y="236.8" width="56.5" height="15.0" rx="2" fill="#4caf50"/>
<rect x="13.8" y="306.3" width="56.5" height="15.0" rx="2" fill="#fcc30b"/>
<rect x="13.8" y="377.2" width="56.5" height="15.0" rx="2" fill="#4caf50"/>
<rect x="13.8" y="479.9" width="56.5" height="15.0" rx="2" fill="#ef5350"/>
<rect x="13.8" y="262.7" width="56.5" height="28.1" rx="2" fill="#f23645"/>
<rect x="71.9" y="262.7" width="51.7" height="15.0" rx="2" fill="#f23645"/>
<text x="19.8" y="152.2" font-size="12" font-weight="400" fill="#fff" textLength="42.6" lengthAdjust="spacingAndGlyphs">124,567</text>
<text x="19.8" y="248.2" font-size="12" font-weight="400" fill="#fff" textLength="42.6" lengthAdjust="spacingAndGlyphs">121,224</text>
<text x="19.8" y="317.7" font-size="12" font-weight="400" fill="#131722" textLength="42.6" lengthAdjust="spacingAndGlyphs">118,862</text>
<text x="19.8" y="388.6" font-size="12" font-weight="400" fill="#fff" textLength="42.6" lengthAdjust="spacingAndGlyphs">116,500</text>
<text x="19.8" y="491.3" font-size="12" font-weight="400" fill="#fff" textLength="42.6" lengthAdjust="spacingAndGlyphs">113,158</text>
<text x="19.8" y="274.1" font-size="12" font-weight="400" fill="#fff" textLength="42.6" lengthAdjust="spacingAndGlyphs">120,340</text>
<text x="32.8" y="286.7" font-size="12" font-weight="400" fill="#fff" fill-opacity="0.8" textLength="29.6" lengthAdjust="spacingAndGlyphs">56:04</text>
<text x="75.4" y="274.2" font-size="12" font-weight="400" fill="#fff" textLength="44.2" lengthAdjust="spacingAndGlyphs">BTCUSD</text>
<text x="108.6" y="657.4" font-size="12" font-weight="400" fill="#131722" textLength="13.4" lengthAdjust="spacingAndGlyphs">12</text>
<text x="186.1" y="657.4" font-size="12" font-weight="400" fill="#131722" textLength="13.4" lengthAdjust="spacingAndGlyphs">13</text>
<text x="263.1" y="657.4" font-size="12" font-weight="700" fill="#131722" textLength="14.4" lengthAdjust="spacingAndGlyphs">14</text>
<text x="341.1" y="657.4" font-size="12" font-weight="400" fill="#131722" textLength="13.4" lengthAdjust="spacingAndGlyphs">15</text>
<text x="418.6" y="657.4" font-size="12" font-weight="400" fill="#131722" textLength="13.4" lengthAdjust="spacingAndGlyphs">16</text>
<text x="496.1" y="657.4" font-size="12" font-weight="400" fill="#131722" textLength="13.4" lengthAdjust="spacingAndGlyphs">17</text>
<text x="573.6" y="657.4" font-size="12" font-weight="400" fill="#131722" textLength="13.4" lengthAdjust="spacingAndGlyphs">18</text>
<text x="651.1" y="657.4" font-size="12" font-weight="400" fill="#131722" textLength="13.4" lengthAdjust="spacingAndGlyphs">19</text>
<text x="728.6" y="657.4" font-size="12" font-weight="400" fill="#131722" textLength="13.4" lengthAdjust="spacingAndGlyphs">20</text>
<text x="805.6" y="657.4" font-size="12" font-weight="700" fill="#131722" textLength="14.4" lengthAdjust="spacingAndGlyphs">21</text>
<text x="883.6" y="657.4" font-size="12" font-weight="400" fill="#131722" textLength="13.4" lengthAdjust="spacingAndGlyphs">22</text>
<text x="961.1" y="657.4" font-size="12" font-weight="400" fill="#131722" textLength="13.4" lengthAdjust="spacingAndGlyphs">23</text>
<text x="687.2" y="302.3" font-size="12" font-weight="400" fill="#fff" textLength="58.1" lengthAdjust="spacingAndGlyphs">Check MTF</text>
<text x="622.4" y="341.0" font-size="12" font-weight="400" fill="#1b3a9e" textLength="69.7" lengthAdjust="spacingAndGlyphs">POC: 118701</text>
<text x="31.3" y="686.6" font-size="14.5" font-weight="400" fill="#131722" stroke="#131722" stroke-width="0.35" textLength="67.0" lengthAdjust="spacingAndGlyphs">TradingView</text>
<circle cx="40" cy="653" r="8.2" fill="#f0f3fa"/>
<text x="40" y="656.6" font-size="10" fill="#4a4d58" text-anchor="middle">Z</text>
<g transform="translate(9,677)" fill="#131722"><path d="M0,0 H7.2 V9 H3.6 V3.6 H0Z"/><circle cx="9.6" cy="1.9" r="1.9"/><path d="M13.4,0 H18 L14.2,9 H9.6Z"/></g>
</svg>
</div></body></html>
